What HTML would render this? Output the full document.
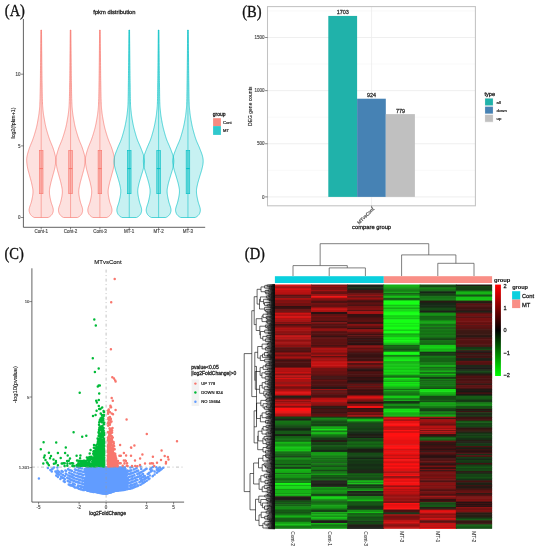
<!DOCTYPE html>
<html><head><meta charset="utf-8"><style>
html,body{margin:0;padding:0;background:#fff;width:541px;height:550px;overflow:hidden}
svg{display:block;filter:blur(0.35px)}
</style></head><body>
<svg width="541" height="550" viewBox="0 0 541 550">
<rect width="541" height="550" fill="#fff"/>
<text transform="translate(4.8,15.9) scale(0.88,1)" font-size="16.5" fill="#111" stroke="#111" stroke-width="0.35" font-family="Liberation Serif, serif">(A)</text>
<path d="M41.50,30.00 L41.52,31.81 L41.54,34.16 L41.57,36.95 L41.60,40.08 L41.63,43.44 L41.67,46.92 L41.70,50.42 L41.74,53.84 L41.77,57.07 L41.80,60.00 L41.83,62.73 L41.86,65.43 L41.89,68.09 L41.92,70.70 L41.94,73.25 L41.97,75.74 L42.00,78.17 L42.03,80.53 L42.07,82.81 L42.10,85.00 L42.13,87.12 L42.17,89.19 L42.20,91.20 L42.24,93.14 L42.28,95.00 L42.31,96.78 L42.35,98.48 L42.40,100.09 L42.45,101.60 L42.50,103.00 L42.56,104.28 L42.62,105.42 L42.68,106.46 L42.75,107.39 L42.82,108.25 L42.89,109.05 L42.97,109.80 L43.04,110.54 L43.12,111.26 L43.20,112.00 L43.28,112.71 L43.36,113.36 L43.44,113.96 L43.52,114.52 L43.60,115.06 L43.69,115.60 L43.78,116.15 L43.88,116.72 L43.98,117.33 L44.10,118.00 L44.22,118.72 L44.36,119.49 L44.49,120.28 L44.64,121.10 L44.79,121.94 L44.94,122.78 L45.10,123.61 L45.26,124.43 L45.43,125.23 L45.60,126.00 L45.77,126.74 L45.95,127.46 L46.13,128.17 L46.31,128.87 L46.50,129.56 L46.69,130.25 L46.89,130.93 L47.09,131.62 L47.29,132.30 L47.50,133.00 L47.71,133.70 L47.92,134.38 L48.13,135.07 L48.35,135.75 L48.57,136.44 L48.80,137.13 L49.03,137.83 L49.28,138.54 L49.53,139.26 L49.80,140.00 L50.09,140.76 L50.40,141.54 L50.72,142.33 L51.06,143.13 L51.40,143.94 L51.74,144.75 L52.08,145.57 L52.40,146.38 L52.71,147.20 L53.00,148.00 L53.28,148.81 L53.55,149.65 L53.82,150.49 L54.08,151.34 L54.33,152.19 L54.56,153.02 L54.78,153.82 L54.98,154.59 L55.15,155.32 L55.30,156.00 L55.42,156.61 L55.52,157.16 L55.60,157.66 L55.66,158.12 L55.70,158.56 L55.72,159.00 L55.74,159.45 L55.73,159.92 L55.72,160.43 L55.70,161.00 L55.67,161.61 L55.62,162.26 L55.56,162.92 L55.49,163.61 L55.41,164.31 L55.31,165.03 L55.20,165.76 L55.08,166.50 L54.94,167.25 L54.80,168.00 L54.64,168.76 L54.46,169.54 L54.26,170.33 L54.05,171.13 L53.83,171.94 L53.60,172.75 L53.37,173.57 L53.14,174.38 L52.92,175.20 L52.70,176.00 L52.49,176.80 L52.27,177.60 L52.04,178.40 L51.82,179.20 L51.59,180.00 L51.38,180.80 L51.16,181.60 L50.96,182.40 L50.77,183.20 L50.60,184.00 L50.43,184.80 L50.26,185.58 L50.09,186.37 L49.93,187.15 L49.78,187.94 L49.65,188.73 L49.54,189.53 L49.46,190.34 L49.41,191.16 L49.40,192.00 L49.43,192.86 L49.50,193.75 L49.60,194.66 L49.72,195.58 L49.88,196.50 L50.04,197.42 L50.22,198.34 L50.41,199.25 L50.61,200.14 L50.80,201.00 L51.01,201.86 L51.27,202.72 L51.54,203.58 L51.84,204.44 L52.13,205.28 L52.42,206.10 L52.68,206.89 L52.90,207.64 L53.08,208.35 L53.20,209.00 L53.26,209.60 L53.28,210.15 L53.27,210.66 L53.22,211.13 L53.14,211.58 L53.04,211.99 L52.93,212.39 L52.79,212.76 L52.65,213.13 L52.50,213.50 L52.33,213.86 L52.14,214.19 L51.92,214.52 L51.68,214.82 L51.43,215.11 L51.18,215.38 L50.92,215.63 L50.67,215.87 L50.43,216.09 L50.20,216.30 L49.98,216.49 L49.75,216.66 L49.51,216.82 L49.28,216.95 L49.06,217.08 L48.84,217.18 L48.64,217.28 L48.47,217.36 L48.32,217.44 L48.20,217.50 L34.20,217.50 L34.08,217.44 L33.93,217.36 L33.76,217.28 L33.56,217.18 L33.34,217.08 L33.12,216.95 L32.89,216.82 L32.65,216.66 L32.42,216.49 L32.20,216.30 L31.97,216.09 L31.73,215.87 L31.48,215.63 L31.22,215.38 L30.97,215.11 L30.72,214.82 L30.48,214.52 L30.26,214.19 L30.07,213.86 L29.90,213.50 L29.75,213.13 L29.61,212.76 L29.47,212.39 L29.36,211.99 L29.26,211.58 L29.18,211.13 L29.13,210.66 L29.12,210.15 L29.14,209.60 L29.20,209.00 L29.32,208.35 L29.50,207.64 L29.72,206.89 L29.98,206.10 L30.27,205.28 L30.56,204.44 L30.86,203.58 L31.13,202.72 L31.39,201.86 L31.60,201.00 L31.79,200.14 L31.99,199.25 L32.18,198.34 L32.36,197.42 L32.53,196.50 L32.68,195.58 L32.80,194.66 L32.90,193.75 L32.97,192.86 L33.00,192.00 L32.99,191.16 L32.94,190.34 L32.86,189.53 L32.75,188.73 L32.62,187.94 L32.47,187.15 L32.31,186.37 L32.14,185.58 L31.97,184.80 L31.80,184.00 L31.63,183.20 L31.44,182.40 L31.24,181.60 L31.02,180.80 L30.81,180.00 L30.58,179.20 L30.36,178.40 L30.13,177.60 L29.91,176.80 L29.70,176.00 L29.48,175.20 L29.26,174.38 L29.03,173.57 L28.80,172.75 L28.58,171.94 L28.35,171.13 L28.14,170.33 L27.94,169.54 L27.76,168.76 L27.60,168.00 L27.46,167.25 L27.32,166.50 L27.20,165.76 L27.09,165.03 L26.99,164.31 L26.91,163.61 L26.84,162.92 L26.78,162.26 L26.73,161.61 L26.70,161.00 L26.68,160.43 L26.67,159.92 L26.66,159.45 L26.68,159.00 L26.70,158.56 L26.74,158.12 L26.80,157.66 L26.88,157.16 L26.98,156.61 L27.10,156.00 L27.25,155.32 L27.42,154.59 L27.62,153.82 L27.84,153.02 L28.08,152.19 L28.32,151.34 L28.58,150.49 L28.85,149.65 L29.12,148.81 L29.40,148.00 L29.69,147.20 L30.00,146.38 L30.32,145.57 L30.66,144.75 L31.00,143.94 L31.34,143.13 L31.68,142.33 L32.00,141.54 L32.31,140.76 L32.60,140.00 L32.87,139.26 L33.12,138.54 L33.37,137.83 L33.60,137.13 L33.83,136.44 L34.05,135.75 L34.27,135.07 L34.48,134.38 L34.69,133.70 L34.90,133.00 L35.11,132.30 L35.31,131.62 L35.51,130.93 L35.71,130.25 L35.90,129.56 L36.09,128.87 L36.27,128.17 L36.45,127.46 L36.63,126.74 L36.80,126.00 L36.97,125.23 L37.14,124.43 L37.30,123.61 L37.46,122.78 L37.61,121.94 L37.76,121.10 L37.91,120.28 L38.04,119.49 L38.18,118.72 L38.30,118.00 L38.42,117.33 L38.52,116.72 L38.62,116.15 L38.71,115.60 L38.80,115.06 L38.88,114.52 L38.96,113.96 L39.04,113.36 L39.12,112.71 L39.20,112.00 L39.28,111.26 L39.36,110.54 L39.43,109.80 L39.51,109.05 L39.58,108.25 L39.65,107.39 L39.72,106.46 L39.78,105.42 L39.84,104.28 L39.90,103.00 L39.95,101.60 L40.00,100.09 L40.05,98.48 L40.09,96.78 L40.12,95.00 L40.16,93.14 L40.20,91.20 L40.23,89.19 L40.27,87.12 L40.30,85.00 L40.33,82.81 L40.37,80.53 L40.40,78.17 L40.43,75.74 L40.46,73.25 L40.48,70.70 L40.51,68.09 L40.54,65.43 L40.57,62.73 L40.60,60.00 L40.63,57.07 L40.66,53.84 L40.70,50.42 L40.73,46.92 L40.77,43.44 L40.80,40.08 L40.83,36.95 L40.86,34.16 L40.88,31.81 L40.90,30.00 Z" fill="#F8766D" fill-opacity="0.22" stroke="#F8766D" stroke-width="0.65" stroke-linejoin="round"/>
<line x1="41.20" y1="30.00" x2="41.20" y2="217.50" stroke="#F8766D" stroke-width="0.55" />
<rect x="39.40" y="150.4" width="3.6" height="43.3" fill="#F8766D" fill-opacity="0.42" stroke="#F8766D" stroke-width="0.6"/>
<line x1="39.40" y1="168.60" x2="43.00" y2="168.60" stroke="#F8766D" stroke-width="1.0" />
<path d="M70.85,30.00 L70.87,31.81 L70.89,34.16 L70.92,36.95 L70.95,40.08 L70.98,43.44 L71.02,46.92 L71.05,50.42 L71.09,53.84 L71.12,57.07 L71.15,60.00 L71.18,62.73 L71.21,65.43 L71.24,68.09 L71.27,70.70 L71.29,73.25 L71.32,75.74 L71.35,78.17 L71.38,80.53 L71.42,82.81 L71.45,85.00 L71.48,87.12 L71.52,89.19 L71.55,91.20 L71.59,93.14 L71.63,95.00 L71.66,96.78 L71.70,98.48 L71.75,100.09 L71.80,101.60 L71.85,103.00 L71.91,104.28 L71.97,105.42 L72.03,106.46 L72.10,107.39 L72.17,108.25 L72.24,109.05 L72.32,109.80 L72.39,110.54 L72.47,111.26 L72.55,112.00 L72.63,112.71 L72.71,113.36 L72.79,113.96 L72.87,114.52 L72.95,115.06 L73.04,115.60 L73.13,116.15 L73.23,116.72 L73.33,117.33 L73.45,118.00 L73.57,118.72 L73.71,119.49 L73.84,120.28 L73.99,121.10 L74.14,121.94 L74.29,122.78 L74.45,123.61 L74.61,124.43 L74.78,125.23 L74.95,126.00 L75.12,126.74 L75.30,127.46 L75.48,128.17 L75.66,128.87 L75.85,129.56 L76.04,130.25 L76.24,130.93 L76.44,131.62 L76.64,132.30 L76.85,133.00 L77.06,133.70 L77.27,134.38 L77.48,135.07 L77.70,135.75 L77.92,136.44 L78.15,137.13 L78.38,137.83 L78.63,138.54 L78.88,139.26 L79.15,140.00 L79.44,140.76 L79.75,141.54 L80.07,142.33 L80.41,143.13 L80.75,143.94 L81.09,144.75 L81.43,145.57 L81.75,146.38 L82.06,147.20 L82.35,148.00 L82.63,148.81 L82.90,149.65 L83.17,150.49 L83.43,151.34 L83.68,152.19 L83.91,153.02 L84.13,153.82 L84.33,154.59 L84.50,155.32 L84.65,156.00 L84.77,156.61 L84.87,157.16 L84.95,157.66 L85.01,158.12 L85.05,158.56 L85.07,159.00 L85.09,159.45 L85.08,159.92 L85.07,160.43 L85.05,161.00 L85.02,161.61 L84.97,162.26 L84.91,162.92 L84.84,163.61 L84.76,164.31 L84.66,165.03 L84.55,165.76 L84.43,166.50 L84.29,167.25 L84.15,168.00 L83.99,168.76 L83.81,169.54 L83.61,170.33 L83.40,171.13 L83.18,171.94 L82.95,172.75 L82.72,173.57 L82.49,174.38 L82.27,175.20 L82.05,176.00 L81.84,176.80 L81.62,177.60 L81.39,178.40 L81.17,179.20 L80.94,180.00 L80.73,180.80 L80.51,181.60 L80.31,182.40 L80.12,183.20 L79.95,184.00 L79.78,184.80 L79.61,185.58 L79.44,186.37 L79.28,187.15 L79.13,187.94 L79.00,188.73 L78.89,189.53 L78.81,190.34 L78.76,191.16 L78.75,192.00 L78.78,192.86 L78.85,193.75 L78.95,194.66 L79.07,195.58 L79.23,196.50 L79.39,197.42 L79.57,198.34 L79.76,199.25 L79.96,200.14 L80.15,201.00 L80.36,201.86 L80.62,202.72 L80.89,203.58 L81.19,204.44 L81.48,205.28 L81.77,206.10 L82.03,206.89 L82.25,207.64 L82.43,208.35 L82.55,209.00 L82.61,209.60 L82.63,210.15 L82.62,210.66 L82.57,211.13 L82.49,211.58 L82.39,211.99 L82.28,212.39 L82.14,212.76 L82.00,213.13 L81.85,213.50 L81.68,213.86 L81.49,214.19 L81.27,214.52 L81.03,214.82 L80.78,215.11 L80.53,215.38 L80.27,215.63 L80.02,215.87 L79.78,216.09 L79.55,216.30 L79.33,216.49 L79.10,216.66 L78.86,216.82 L78.63,216.95 L78.41,217.08 L78.19,217.18 L77.99,217.28 L77.82,217.36 L77.67,217.44 L77.55,217.50 L63.55,217.50 L63.43,217.44 L63.28,217.36 L63.11,217.28 L62.91,217.18 L62.69,217.08 L62.47,216.95 L62.24,216.82 L62.00,216.66 L61.77,216.49 L61.55,216.30 L61.32,216.09 L61.08,215.87 L60.83,215.63 L60.57,215.38 L60.32,215.11 L60.07,214.82 L59.83,214.52 L59.61,214.19 L59.42,213.86 L59.25,213.50 L59.10,213.13 L58.96,212.76 L58.82,212.39 L58.71,211.99 L58.61,211.58 L58.53,211.13 L58.48,210.66 L58.47,210.15 L58.49,209.60 L58.55,209.00 L58.67,208.35 L58.85,207.64 L59.07,206.89 L59.33,206.10 L59.62,205.28 L59.91,204.44 L60.21,203.58 L60.48,202.72 L60.74,201.86 L60.95,201.00 L61.14,200.14 L61.34,199.25 L61.53,198.34 L61.71,197.42 L61.88,196.50 L62.03,195.58 L62.15,194.66 L62.25,193.75 L62.32,192.86 L62.35,192.00 L62.34,191.16 L62.29,190.34 L62.21,189.53 L62.10,188.73 L61.97,187.94 L61.82,187.15 L61.66,186.37 L61.49,185.58 L61.32,184.80 L61.15,184.00 L60.98,183.20 L60.79,182.40 L60.59,181.60 L60.37,180.80 L60.16,180.00 L59.93,179.20 L59.71,178.40 L59.48,177.60 L59.26,176.80 L59.05,176.00 L58.83,175.20 L58.61,174.38 L58.38,173.57 L58.15,172.75 L57.93,171.94 L57.70,171.13 L57.49,170.33 L57.29,169.54 L57.11,168.76 L56.95,168.00 L56.81,167.25 L56.67,166.50 L56.55,165.76 L56.44,165.03 L56.34,164.31 L56.26,163.61 L56.19,162.92 L56.13,162.26 L56.08,161.61 L56.05,161.00 L56.03,160.43 L56.02,159.92 L56.01,159.45 L56.03,159.00 L56.05,158.56 L56.09,158.12 L56.15,157.66 L56.23,157.16 L56.33,156.61 L56.45,156.00 L56.60,155.32 L56.77,154.59 L56.97,153.82 L57.19,153.02 L57.43,152.19 L57.67,151.34 L57.93,150.49 L58.20,149.65 L58.48,148.81 L58.75,148.00 L59.04,147.20 L59.35,146.38 L59.67,145.57 L60.01,144.75 L60.35,143.94 L60.69,143.13 L61.03,142.33 L61.35,141.54 L61.66,140.76 L61.95,140.00 L62.22,139.26 L62.47,138.54 L62.72,137.83 L62.95,137.13 L63.18,136.44 L63.40,135.75 L63.62,135.07 L63.83,134.38 L64.04,133.70 L64.25,133.00 L64.46,132.30 L64.66,131.62 L64.86,130.93 L65.06,130.25 L65.25,129.56 L65.44,128.87 L65.62,128.17 L65.80,127.46 L65.98,126.74 L66.15,126.00 L66.32,125.23 L66.49,124.43 L66.65,123.61 L66.81,122.78 L66.96,121.94 L67.11,121.10 L67.26,120.28 L67.39,119.49 L67.53,118.72 L67.65,118.00 L67.77,117.33 L67.87,116.72 L67.97,116.15 L68.06,115.60 L68.15,115.06 L68.23,114.52 L68.31,113.96 L68.39,113.36 L68.47,112.71 L68.55,112.00 L68.63,111.26 L68.71,110.54 L68.78,109.80 L68.86,109.05 L68.93,108.25 L69.00,107.39 L69.07,106.46 L69.13,105.42 L69.19,104.28 L69.25,103.00 L69.30,101.60 L69.35,100.09 L69.40,98.48 L69.44,96.78 L69.48,95.00 L69.51,93.14 L69.55,91.20 L69.58,89.19 L69.62,87.12 L69.65,85.00 L69.68,82.81 L69.72,80.53 L69.75,78.17 L69.78,75.74 L69.81,73.25 L69.83,70.70 L69.86,68.09 L69.89,65.43 L69.92,62.73 L69.95,60.00 L69.98,57.07 L70.01,53.84 L70.05,50.42 L70.08,46.92 L70.12,43.44 L70.15,40.08 L70.18,36.95 L70.21,34.16 L70.23,31.81 L70.25,30.00 Z" fill="#F8766D" fill-opacity="0.22" stroke="#F8766D" stroke-width="0.65" stroke-linejoin="round"/>
<line x1="70.55" y1="30.00" x2="70.55" y2="217.50" stroke="#F8766D" stroke-width="0.55" />
<rect x="68.75" y="150.4" width="3.6" height="43.3" fill="#F8766D" fill-opacity="0.42" stroke="#F8766D" stroke-width="0.6"/>
<line x1="68.75" y1="168.60" x2="72.35" y2="168.60" stroke="#F8766D" stroke-width="1.0" />
<path d="M100.20,30.00 L100.22,31.81 L100.24,34.16 L100.27,36.95 L100.30,40.08 L100.33,43.44 L100.37,46.92 L100.40,50.42 L100.44,53.84 L100.47,57.07 L100.50,60.00 L100.53,62.73 L100.56,65.43 L100.59,68.09 L100.62,70.70 L100.64,73.25 L100.67,75.74 L100.70,78.17 L100.73,80.53 L100.77,82.81 L100.80,85.00 L100.83,87.12 L100.87,89.19 L100.90,91.20 L100.94,93.14 L100.98,95.00 L101.01,96.78 L101.05,98.48 L101.10,100.09 L101.15,101.60 L101.20,103.00 L101.26,104.28 L101.32,105.42 L101.38,106.46 L101.45,107.39 L101.52,108.25 L101.59,109.05 L101.67,109.80 L101.74,110.54 L101.82,111.26 L101.90,112.00 L101.98,112.71 L102.06,113.36 L102.14,113.96 L102.22,114.52 L102.30,115.06 L102.39,115.60 L102.48,116.15 L102.58,116.72 L102.68,117.33 L102.80,118.00 L102.92,118.72 L103.06,119.49 L103.19,120.28 L103.34,121.10 L103.49,121.94 L103.64,122.78 L103.80,123.61 L103.96,124.43 L104.13,125.23 L104.30,126.00 L104.47,126.74 L104.65,127.46 L104.83,128.17 L105.01,128.87 L105.20,129.56 L105.39,130.25 L105.59,130.93 L105.79,131.62 L105.99,132.30 L106.20,133.00 L106.41,133.70 L106.62,134.38 L106.83,135.07 L107.05,135.75 L107.27,136.44 L107.50,137.13 L107.73,137.83 L107.98,138.54 L108.23,139.26 L108.50,140.00 L108.79,140.76 L109.10,141.54 L109.42,142.33 L109.76,143.13 L110.10,143.94 L110.44,144.75 L110.78,145.57 L111.10,146.38 L111.41,147.20 L111.70,148.00 L111.98,148.81 L112.25,149.65 L112.52,150.49 L112.78,151.34 L113.03,152.19 L113.26,153.02 L113.48,153.82 L113.68,154.59 L113.85,155.32 L114.00,156.00 L114.12,156.61 L114.22,157.16 L114.30,157.66 L114.36,158.12 L114.40,158.56 L114.42,159.00 L114.44,159.45 L114.43,159.92 L114.42,160.43 L114.40,161.00 L114.37,161.61 L114.32,162.26 L114.26,162.92 L114.19,163.61 L114.11,164.31 L114.01,165.03 L113.90,165.76 L113.78,166.50 L113.64,167.25 L113.50,168.00 L113.34,168.76 L113.16,169.54 L112.96,170.33 L112.75,171.13 L112.53,171.94 L112.30,172.75 L112.07,173.57 L111.84,174.38 L111.62,175.20 L111.40,176.00 L111.19,176.80 L110.97,177.60 L110.74,178.40 L110.52,179.20 L110.29,180.00 L110.08,180.80 L109.86,181.60 L109.66,182.40 L109.47,183.20 L109.30,184.00 L109.13,184.80 L108.96,185.58 L108.79,186.37 L108.63,187.15 L108.48,187.94 L108.35,188.73 L108.24,189.53 L108.16,190.34 L108.11,191.16 L108.10,192.00 L108.13,192.86 L108.20,193.75 L108.30,194.66 L108.42,195.58 L108.58,196.50 L108.74,197.42 L108.92,198.34 L109.11,199.25 L109.31,200.14 L109.50,201.00 L109.71,201.86 L109.97,202.72 L110.24,203.58 L110.54,204.44 L110.83,205.28 L111.12,206.10 L111.38,206.89 L111.60,207.64 L111.78,208.35 L111.90,209.00 L111.96,209.60 L111.98,210.15 L111.97,210.66 L111.92,211.13 L111.84,211.58 L111.74,211.99 L111.63,212.39 L111.49,212.76 L111.35,213.13 L111.20,213.50 L111.03,213.86 L110.84,214.19 L110.62,214.52 L110.38,214.82 L110.13,215.11 L109.88,215.38 L109.62,215.63 L109.37,215.87 L109.13,216.09 L108.90,216.30 L108.68,216.49 L108.45,216.66 L108.21,216.82 L107.98,216.95 L107.76,217.08 L107.54,217.18 L107.34,217.28 L107.17,217.36 L107.02,217.44 L106.90,217.50 L92.90,217.50 L92.78,217.44 L92.63,217.36 L92.46,217.28 L92.26,217.18 L92.04,217.08 L91.82,216.95 L91.59,216.82 L91.35,216.66 L91.12,216.49 L90.90,216.30 L90.67,216.09 L90.43,215.87 L90.18,215.63 L89.92,215.38 L89.67,215.11 L89.42,214.82 L89.18,214.52 L88.96,214.19 L88.77,213.86 L88.60,213.50 L88.45,213.13 L88.31,212.76 L88.17,212.39 L88.06,211.99 L87.96,211.58 L87.88,211.13 L87.83,210.66 L87.82,210.15 L87.84,209.60 L87.90,209.00 L88.02,208.35 L88.20,207.64 L88.42,206.89 L88.68,206.10 L88.97,205.28 L89.26,204.44 L89.56,203.58 L89.83,202.72 L90.09,201.86 L90.30,201.00 L90.49,200.14 L90.69,199.25 L90.88,198.34 L91.06,197.42 L91.23,196.50 L91.38,195.58 L91.50,194.66 L91.60,193.75 L91.67,192.86 L91.70,192.00 L91.69,191.16 L91.64,190.34 L91.56,189.53 L91.45,188.73 L91.32,187.94 L91.17,187.15 L91.01,186.37 L90.84,185.58 L90.67,184.80 L90.50,184.00 L90.33,183.20 L90.14,182.40 L89.94,181.60 L89.72,180.80 L89.51,180.00 L89.28,179.20 L89.06,178.40 L88.83,177.60 L88.61,176.80 L88.40,176.00 L88.18,175.20 L87.96,174.38 L87.73,173.57 L87.50,172.75 L87.28,171.94 L87.05,171.13 L86.84,170.33 L86.64,169.54 L86.46,168.76 L86.30,168.00 L86.16,167.25 L86.02,166.50 L85.90,165.76 L85.79,165.03 L85.69,164.31 L85.61,163.61 L85.54,162.92 L85.48,162.26 L85.43,161.61 L85.40,161.00 L85.38,160.43 L85.37,159.92 L85.36,159.45 L85.38,159.00 L85.40,158.56 L85.44,158.12 L85.50,157.66 L85.58,157.16 L85.68,156.61 L85.80,156.00 L85.95,155.32 L86.12,154.59 L86.32,153.82 L86.54,153.02 L86.78,152.19 L87.02,151.34 L87.28,150.49 L87.55,149.65 L87.83,148.81 L88.10,148.00 L88.39,147.20 L88.70,146.38 L89.02,145.57 L89.36,144.75 L89.70,143.94 L90.04,143.13 L90.38,142.33 L90.70,141.54 L91.01,140.76 L91.30,140.00 L91.57,139.26 L91.82,138.54 L92.07,137.83 L92.30,137.13 L92.53,136.44 L92.75,135.75 L92.97,135.07 L93.18,134.38 L93.39,133.70 L93.60,133.00 L93.81,132.30 L94.01,131.62 L94.21,130.93 L94.41,130.25 L94.60,129.56 L94.79,128.87 L94.97,128.17 L95.15,127.46 L95.33,126.74 L95.50,126.00 L95.67,125.23 L95.84,124.43 L96.00,123.61 L96.16,122.78 L96.31,121.94 L96.46,121.10 L96.61,120.28 L96.74,119.49 L96.88,118.72 L97.00,118.00 L97.12,117.33 L97.22,116.72 L97.32,116.15 L97.41,115.60 L97.50,115.06 L97.58,114.52 L97.66,113.96 L97.74,113.36 L97.82,112.71 L97.90,112.00 L97.98,111.26 L98.06,110.54 L98.13,109.80 L98.21,109.05 L98.28,108.25 L98.35,107.39 L98.42,106.46 L98.48,105.42 L98.54,104.28 L98.60,103.00 L98.65,101.60 L98.70,100.09 L98.75,98.48 L98.79,96.78 L98.83,95.00 L98.86,93.14 L98.90,91.20 L98.93,89.19 L98.97,87.12 L99.00,85.00 L99.03,82.81 L99.07,80.53 L99.10,78.17 L99.13,75.74 L99.16,73.25 L99.18,70.70 L99.21,68.09 L99.24,65.43 L99.27,62.73 L99.30,60.00 L99.33,57.07 L99.36,53.84 L99.40,50.42 L99.43,46.92 L99.47,43.44 L99.50,40.08 L99.53,36.95 L99.56,34.16 L99.58,31.81 L99.60,30.00 Z" fill="#F8766D" fill-opacity="0.22" stroke="#F8766D" stroke-width="0.65" stroke-linejoin="round"/>
<line x1="99.90" y1="30.00" x2="99.90" y2="217.50" stroke="#F8766D" stroke-width="0.55" />
<rect x="98.10" y="150.4" width="3.6" height="43.3" fill="#F8766D" fill-opacity="0.42" stroke="#F8766D" stroke-width="0.6"/>
<line x1="98.10" y1="168.60" x2="101.70" y2="168.60" stroke="#F8766D" stroke-width="1.0" />
<path d="M129.55,30.00 L129.57,31.81 L129.59,34.16 L129.62,36.95 L129.65,40.08 L129.68,43.44 L129.72,46.92 L129.75,50.42 L129.79,53.84 L129.82,57.07 L129.85,60.00 L129.88,62.73 L129.91,65.43 L129.94,68.09 L129.97,70.70 L130.00,73.25 L130.03,75.74 L130.06,78.17 L130.09,80.53 L130.12,82.81 L130.15,85.00 L130.18,87.12 L130.20,89.19 L130.23,91.20 L130.25,93.14 L130.28,95.00 L130.30,96.78 L130.33,98.48 L130.36,100.09 L130.40,101.60 L130.45,103.00 L130.50,104.28 L130.56,105.42 L130.63,106.46 L130.70,107.39 L130.77,108.25 L130.84,109.05 L130.92,109.80 L131.00,110.54 L131.07,111.26 L131.15,112.00 L131.22,112.71 L131.29,113.36 L131.36,113.96 L131.43,114.52 L131.50,115.06 L131.57,115.60 L131.66,116.15 L131.74,116.72 L131.84,117.33 L131.95,118.00 L132.07,118.72 L132.20,119.49 L132.34,120.28 L132.49,121.10 L132.64,121.94 L132.79,122.78 L132.96,123.61 L133.12,124.43 L133.28,125.23 L133.45,126.00 L133.62,126.74 L133.78,127.46 L133.96,128.17 L134.13,128.87 L134.31,129.56 L134.49,130.25 L134.67,130.93 L134.86,131.62 L135.05,132.30 L135.25,133.00 L135.45,133.70 L135.65,134.38 L135.84,135.07 L136.04,135.75 L136.25,136.44 L136.46,137.13 L136.69,137.83 L136.93,138.54 L137.18,139.26 L137.45,140.00 L137.74,140.76 L138.06,141.54 L138.40,142.33 L138.75,143.13 L139.11,143.94 L139.47,144.75 L139.83,145.57 L140.18,146.38 L140.52,147.20 L140.85,148.00 L141.17,148.81 L141.50,149.63 L141.83,150.46 L142.15,151.30 L142.47,152.12 L142.77,152.94 L143.06,153.75 L143.32,154.53 L143.55,155.28 L143.75,156.00 L143.92,156.68 L144.06,157.31 L144.18,157.92 L144.28,158.50 L144.36,159.06 L144.41,159.62 L144.45,160.19 L144.47,160.77 L144.47,161.37 L144.45,162.00 L144.41,162.66 L144.35,163.32 L144.27,163.99 L144.16,164.68 L144.04,165.38 L143.91,166.08 L143.76,166.80 L143.60,167.52 L143.43,168.25 L143.25,169.00 L143.06,169.76 L142.84,170.54 L142.61,171.33 L142.37,172.13 L142.11,172.94 L141.85,173.75 L141.59,174.57 L141.34,175.38 L141.09,176.20 L140.85,177.00 L140.62,177.80 L140.38,178.62 L140.13,179.43 L139.89,180.25 L139.66,181.06 L139.43,181.87 L139.21,182.67 L139.00,183.46 L138.82,184.24 L138.65,185.00 L138.50,185.73 L138.35,186.43 L138.21,187.11 L138.08,187.78 L137.97,188.44 L137.87,189.10 L137.80,189.78 L137.76,190.49 L137.74,191.22 L137.75,192.00 L137.80,192.82 L137.88,193.69 L138.00,194.58 L138.14,195.50 L138.30,196.44 L138.48,197.38 L138.67,198.31 L138.86,199.23 L139.06,200.13 L139.25,201.00 L139.46,201.86 L139.71,202.72 L139.98,203.58 L140.26,204.44 L140.54,205.28 L140.81,206.10 L141.06,206.89 L141.27,207.64 L141.44,208.35 L141.55,209.00 L141.61,209.60 L141.63,210.15 L141.61,210.66 L141.56,211.13 L141.49,211.58 L141.39,211.99 L141.27,212.39 L141.14,212.76 L141.00,213.13 L140.85,213.50 L140.68,213.86 L140.49,214.19 L140.27,214.52 L140.04,214.82 L139.79,215.11 L139.53,215.38 L139.28,215.63 L139.02,215.87 L138.78,216.09 L138.55,216.30 L138.32,216.49 L138.08,216.66 L137.84,216.82 L137.59,216.95 L137.36,217.08 L137.13,217.18 L136.92,217.28 L136.73,217.36 L136.57,217.44 L136.45,217.50 L122.05,217.50 L121.93,217.44 L121.77,217.36 L121.58,217.28 L121.37,217.18 L121.14,217.08 L120.91,216.95 L120.66,216.82 L120.42,216.66 L120.18,216.49 L119.95,216.30 L119.72,216.09 L119.48,215.87 L119.22,215.63 L118.97,215.38 L118.71,215.11 L118.46,214.82 L118.23,214.52 L118.01,214.19 L117.82,213.86 L117.65,213.50 L117.50,213.13 L117.36,212.76 L117.23,212.39 L117.11,211.99 L117.01,211.58 L116.94,211.13 L116.89,210.66 L116.87,210.15 L116.89,209.60 L116.95,209.00 L117.06,208.35 L117.23,207.64 L117.44,206.89 L117.69,206.10 L117.96,205.28 L118.24,204.44 L118.52,203.58 L118.79,202.72 L119.04,201.86 L119.25,201.00 L119.44,200.13 L119.64,199.23 L119.83,198.31 L120.02,197.38 L120.20,196.44 L120.36,195.50 L120.50,194.58 L120.62,193.69 L120.70,192.82 L120.75,192.00 L120.76,191.22 L120.74,190.49 L120.70,189.78 L120.63,189.10 L120.53,188.44 L120.42,187.78 L120.29,187.11 L120.15,186.43 L120.00,185.73 L119.85,185.00 L119.68,184.24 L119.50,183.46 L119.29,182.67 L119.07,181.87 L118.84,181.06 L118.61,180.25 L118.37,179.43 L118.12,178.62 L117.88,177.80 L117.65,177.00 L117.41,176.20 L117.16,175.38 L116.91,174.57 L116.65,173.75 L116.39,172.94 L116.13,172.13 L115.89,171.33 L115.66,170.54 L115.44,169.76 L115.25,169.00 L115.07,168.25 L114.90,167.52 L114.74,166.80 L114.59,166.08 L114.46,165.38 L114.34,164.68 L114.23,163.99 L114.15,163.32 L114.09,162.66 L114.05,162.00 L114.03,161.37 L114.03,160.77 L114.05,160.19 L114.09,159.62 L114.14,159.06 L114.22,158.50 L114.32,157.92 L114.44,157.31 L114.58,156.68 L114.75,156.00 L114.95,155.28 L115.18,154.53 L115.44,153.75 L115.73,152.94 L116.03,152.12 L116.35,151.30 L116.67,150.46 L117.00,149.63 L117.33,148.81 L117.65,148.00 L117.98,147.20 L118.32,146.38 L118.67,145.57 L119.03,144.75 L119.39,143.94 L119.75,143.13 L120.10,142.33 L120.44,141.54 L120.76,140.76 L121.05,140.00 L121.32,139.26 L121.57,138.54 L121.81,137.83 L122.04,137.13 L122.25,136.44 L122.46,135.75 L122.66,135.07 L122.85,134.38 L123.05,133.70 L123.25,133.00 L123.45,132.30 L123.64,131.62 L123.83,130.93 L124.01,130.25 L124.19,129.56 L124.37,128.87 L124.54,128.17 L124.72,127.46 L124.88,126.74 L125.05,126.00 L125.22,125.23 L125.38,124.43 L125.54,123.61 L125.71,122.78 L125.86,121.94 L126.01,121.10 L126.16,120.28 L126.30,119.49 L126.43,118.72 L126.55,118.00 L126.66,117.33 L126.76,116.72 L126.84,116.15 L126.93,115.60 L127.00,115.06 L127.07,114.52 L127.14,113.96 L127.21,113.36 L127.28,112.71 L127.35,112.00 L127.43,111.26 L127.50,110.54 L127.58,109.80 L127.66,109.05 L127.73,108.25 L127.80,107.39 L127.87,106.46 L127.94,105.42 L128.00,104.28 L128.05,103.00 L128.10,101.60 L128.14,100.09 L128.17,98.48 L128.20,96.78 L128.22,95.00 L128.25,93.14 L128.27,91.20 L128.30,89.19 L128.32,87.12 L128.35,85.00 L128.38,82.81 L128.41,80.53 L128.44,78.17 L128.47,75.74 L128.50,73.25 L128.53,70.70 L128.56,68.09 L128.59,65.43 L128.62,62.73 L128.65,60.00 L128.68,57.07 L128.71,53.84 L128.75,50.42 L128.78,46.92 L128.82,43.44 L128.85,40.08 L128.88,36.95 L128.91,34.16 L128.93,31.81 L128.95,30.00 Z" fill="#00BFC4" fill-opacity="0.22" stroke="#00BFC4" stroke-width="0.65" stroke-linejoin="round"/>
<line x1="129.25" y1="30.00" x2="129.25" y2="217.50" stroke="#00BFC4" stroke-width="0.55" />
<rect x="127.45" y="150.4" width="3.6" height="43.3" fill="#00BFC4" fill-opacity="0.42" stroke="#00BFC4" stroke-width="0.6"/>
<line x1="127.45" y1="168.60" x2="131.05" y2="168.60" stroke="#00BFC4" stroke-width="1.0" />
<path d="M158.90,30.00 L158.92,31.81 L158.94,34.16 L158.97,36.95 L159.00,40.08 L159.03,43.44 L159.07,46.92 L159.10,50.42 L159.14,53.84 L159.17,57.07 L159.20,60.00 L159.23,62.73 L159.26,65.43 L159.29,68.09 L159.32,70.70 L159.35,73.25 L159.38,75.74 L159.41,78.17 L159.44,80.53 L159.47,82.81 L159.50,85.00 L159.53,87.12 L159.55,89.19 L159.58,91.20 L159.60,93.14 L159.63,95.00 L159.65,96.78 L159.68,98.48 L159.71,100.09 L159.75,101.60 L159.80,103.00 L159.85,104.28 L159.91,105.42 L159.98,106.46 L160.05,107.39 L160.12,108.25 L160.19,109.05 L160.27,109.80 L160.35,110.54 L160.42,111.26 L160.50,112.00 L160.57,112.71 L160.64,113.36 L160.71,113.96 L160.78,114.52 L160.85,115.06 L160.92,115.60 L161.01,116.15 L161.09,116.72 L161.19,117.33 L161.30,118.00 L161.42,118.72 L161.55,119.49 L161.69,120.28 L161.84,121.10 L161.99,121.94 L162.14,122.78 L162.31,123.61 L162.47,124.43 L162.63,125.23 L162.80,126.00 L162.97,126.74 L163.13,127.46 L163.31,128.17 L163.48,128.87 L163.66,129.56 L163.84,130.25 L164.02,130.93 L164.21,131.62 L164.40,132.30 L164.60,133.00 L164.80,133.70 L165.00,134.38 L165.19,135.07 L165.39,135.75 L165.60,136.44 L165.81,137.13 L166.04,137.83 L166.28,138.54 L166.53,139.26 L166.80,140.00 L167.09,140.76 L167.41,141.54 L167.75,142.33 L168.10,143.13 L168.46,143.94 L168.82,144.75 L169.18,145.57 L169.53,146.38 L169.87,147.20 L170.20,148.00 L170.52,148.81 L170.85,149.63 L171.18,150.46 L171.50,151.30 L171.82,152.12 L172.12,152.94 L172.41,153.75 L172.67,154.53 L172.90,155.28 L173.10,156.00 L173.27,156.68 L173.41,157.31 L173.53,157.92 L173.63,158.50 L173.71,159.06 L173.76,159.62 L173.80,160.19 L173.82,160.77 L173.82,161.37 L173.80,162.00 L173.76,162.66 L173.70,163.32 L173.62,163.99 L173.51,164.68 L173.39,165.38 L173.26,166.08 L173.11,166.80 L172.95,167.52 L172.78,168.25 L172.60,169.00 L172.41,169.76 L172.19,170.54 L171.96,171.33 L171.72,172.13 L171.46,172.94 L171.20,173.75 L170.94,174.57 L170.69,175.38 L170.44,176.20 L170.20,177.00 L169.97,177.80 L169.73,178.62 L169.48,179.43 L169.24,180.25 L169.01,181.06 L168.78,181.87 L168.56,182.67 L168.35,183.46 L168.17,184.24 L168.00,185.00 L167.85,185.73 L167.70,186.43 L167.56,187.11 L167.43,187.78 L167.32,188.44 L167.22,189.10 L167.15,189.78 L167.11,190.49 L167.09,191.22 L167.10,192.00 L167.15,192.82 L167.23,193.69 L167.35,194.58 L167.49,195.50 L167.65,196.44 L167.83,197.38 L168.02,198.31 L168.21,199.23 L168.41,200.13 L168.60,201.00 L168.81,201.86 L169.06,202.72 L169.33,203.58 L169.61,204.44 L169.89,205.28 L170.16,206.10 L170.41,206.89 L170.62,207.64 L170.79,208.35 L170.90,209.00 L170.96,209.60 L170.98,210.15 L170.96,210.66 L170.91,211.13 L170.84,211.58 L170.74,211.99 L170.62,212.39 L170.49,212.76 L170.35,213.13 L170.20,213.50 L170.03,213.86 L169.84,214.19 L169.62,214.52 L169.39,214.82 L169.14,215.11 L168.88,215.38 L168.63,215.63 L168.37,215.87 L168.13,216.09 L167.90,216.30 L167.67,216.49 L167.43,216.66 L167.19,216.82 L166.94,216.95 L166.71,217.08 L166.48,217.18 L166.27,217.28 L166.08,217.36 L165.92,217.44 L165.80,217.50 L151.40,217.50 L151.28,217.44 L151.12,217.36 L150.93,217.28 L150.72,217.18 L150.49,217.08 L150.26,216.95 L150.01,216.82 L149.77,216.66 L149.53,216.49 L149.30,216.30 L149.07,216.09 L148.83,215.87 L148.57,215.63 L148.32,215.38 L148.06,215.11 L147.81,214.82 L147.58,214.52 L147.36,214.19 L147.17,213.86 L147.00,213.50 L146.85,213.13 L146.71,212.76 L146.58,212.39 L146.46,211.99 L146.36,211.58 L146.29,211.13 L146.24,210.66 L146.22,210.15 L146.24,209.60 L146.30,209.00 L146.41,208.35 L146.58,207.64 L146.79,206.89 L147.04,206.10 L147.31,205.28 L147.59,204.44 L147.87,203.58 L148.14,202.72 L148.39,201.86 L148.60,201.00 L148.79,200.13 L148.99,199.23 L149.18,198.31 L149.37,197.38 L149.55,196.44 L149.71,195.50 L149.85,194.58 L149.97,193.69 L150.05,192.82 L150.10,192.00 L150.11,191.22 L150.09,190.49 L150.05,189.78 L149.98,189.10 L149.88,188.44 L149.77,187.78 L149.64,187.11 L149.50,186.43 L149.35,185.73 L149.20,185.00 L149.03,184.24 L148.85,183.46 L148.64,182.67 L148.42,181.87 L148.19,181.06 L147.96,180.25 L147.72,179.43 L147.47,178.62 L147.23,177.80 L147.00,177.00 L146.76,176.20 L146.51,175.38 L146.26,174.57 L146.00,173.75 L145.74,172.94 L145.48,172.13 L145.24,171.33 L145.01,170.54 L144.79,169.76 L144.60,169.00 L144.42,168.25 L144.25,167.52 L144.09,166.80 L143.94,166.08 L143.81,165.38 L143.69,164.68 L143.58,163.99 L143.50,163.32 L143.44,162.66 L143.40,162.00 L143.38,161.37 L143.38,160.77 L143.40,160.19 L143.44,159.62 L143.49,159.06 L143.57,158.50 L143.67,157.92 L143.79,157.31 L143.93,156.68 L144.10,156.00 L144.30,155.28 L144.53,154.53 L144.79,153.75 L145.08,152.94 L145.38,152.12 L145.70,151.30 L146.02,150.46 L146.35,149.63 L146.68,148.81 L147.00,148.00 L147.33,147.20 L147.67,146.38 L148.02,145.57 L148.38,144.75 L148.74,143.94 L149.10,143.13 L149.45,142.33 L149.79,141.54 L150.11,140.76 L150.40,140.00 L150.67,139.26 L150.92,138.54 L151.16,137.83 L151.39,137.13 L151.60,136.44 L151.81,135.75 L152.01,135.07 L152.20,134.38 L152.40,133.70 L152.60,133.00 L152.80,132.30 L152.99,131.62 L153.18,130.93 L153.36,130.25 L153.54,129.56 L153.72,128.87 L153.89,128.17 L154.07,127.46 L154.23,126.74 L154.40,126.00 L154.57,125.23 L154.73,124.43 L154.89,123.61 L155.06,122.78 L155.21,121.94 L155.36,121.10 L155.51,120.28 L155.65,119.49 L155.78,118.72 L155.90,118.00 L156.01,117.33 L156.11,116.72 L156.19,116.15 L156.28,115.60 L156.35,115.06 L156.42,114.52 L156.49,113.96 L156.56,113.36 L156.63,112.71 L156.70,112.00 L156.78,111.26 L156.85,110.54 L156.93,109.80 L157.01,109.05 L157.08,108.25 L157.15,107.39 L157.22,106.46 L157.29,105.42 L157.35,104.28 L157.40,103.00 L157.45,101.60 L157.49,100.09 L157.52,98.48 L157.55,96.78 L157.58,95.00 L157.60,93.14 L157.62,91.20 L157.65,89.19 L157.67,87.12 L157.70,85.00 L157.73,82.81 L157.76,80.53 L157.79,78.17 L157.82,75.74 L157.85,73.25 L157.88,70.70 L157.91,68.09 L157.94,65.43 L157.97,62.73 L158.00,60.00 L158.03,57.07 L158.06,53.84 L158.10,50.42 L158.13,46.92 L158.17,43.44 L158.20,40.08 L158.23,36.95 L158.26,34.16 L158.28,31.81 L158.30,30.00 Z" fill="#00BFC4" fill-opacity="0.22" stroke="#00BFC4" stroke-width="0.65" stroke-linejoin="round"/>
<line x1="158.60" y1="30.00" x2="158.60" y2="217.50" stroke="#00BFC4" stroke-width="0.55" />
<rect x="156.80" y="150.4" width="3.6" height="43.3" fill="#00BFC4" fill-opacity="0.42" stroke="#00BFC4" stroke-width="0.6"/>
<line x1="156.80" y1="168.60" x2="160.40" y2="168.60" stroke="#00BFC4" stroke-width="1.0" />
<path d="M188.25,30.00 L188.27,31.81 L188.29,34.16 L188.32,36.95 L188.35,40.08 L188.38,43.44 L188.42,46.92 L188.45,50.42 L188.49,53.84 L188.52,57.07 L188.55,60.00 L188.58,62.73 L188.61,65.43 L188.64,68.09 L188.67,70.70 L188.70,73.25 L188.73,75.74 L188.76,78.17 L188.79,80.53 L188.82,82.81 L188.85,85.00 L188.88,87.12 L188.90,89.19 L188.93,91.20 L188.95,93.14 L188.97,95.00 L189.00,96.78 L189.03,98.48 L189.06,100.09 L189.10,101.60 L189.15,103.00 L189.20,104.28 L189.26,105.42 L189.33,106.46 L189.40,107.39 L189.47,108.25 L189.54,109.05 L189.62,109.80 L189.70,110.54 L189.77,111.26 L189.85,112.00 L189.92,112.71 L189.99,113.36 L190.06,113.96 L190.13,114.52 L190.20,115.06 L190.27,115.60 L190.36,116.15 L190.44,116.72 L190.54,117.33 L190.65,118.00 L190.77,118.72 L190.90,119.49 L191.04,120.28 L191.19,121.10 L191.34,121.94 L191.49,122.78 L191.66,123.61 L191.82,124.43 L191.98,125.23 L192.15,126.00 L192.32,126.74 L192.48,127.46 L192.66,128.17 L192.83,128.87 L193.01,129.56 L193.19,130.25 L193.37,130.93 L193.56,131.62 L193.75,132.30 L193.95,133.00 L194.15,133.70 L194.35,134.38 L194.54,135.07 L194.74,135.75 L194.95,136.44 L195.16,137.13 L195.39,137.83 L195.63,138.54 L195.88,139.26 L196.15,140.00 L196.44,140.76 L196.76,141.54 L197.10,142.33 L197.45,143.13 L197.81,143.94 L198.17,144.75 L198.53,145.57 L198.88,146.38 L199.22,147.20 L199.55,148.00 L199.87,148.81 L200.20,149.63 L200.53,150.46 L200.85,151.30 L201.17,152.12 L201.47,152.94 L201.76,153.75 L202.02,154.53 L202.25,155.28 L202.45,156.00 L202.62,156.68 L202.76,157.31 L202.88,157.92 L202.98,158.50 L203.06,159.06 L203.11,159.62 L203.15,160.19 L203.17,160.77 L203.17,161.37 L203.15,162.00 L203.11,162.66 L203.05,163.32 L202.97,163.99 L202.86,164.68 L202.74,165.38 L202.61,166.08 L202.46,166.80 L202.30,167.52 L202.13,168.25 L201.95,169.00 L201.76,169.76 L201.54,170.54 L201.31,171.33 L201.07,172.13 L200.81,172.94 L200.55,173.75 L200.29,174.57 L200.04,175.38 L199.79,176.20 L199.55,177.00 L199.32,177.80 L199.08,178.62 L198.83,179.43 L198.59,180.25 L198.36,181.06 L198.13,181.87 L197.91,182.67 L197.70,183.46 L197.52,184.24 L197.35,185.00 L197.20,185.73 L197.05,186.43 L196.91,187.11 L196.78,187.78 L196.67,188.44 L196.57,189.10 L196.50,189.78 L196.46,190.49 L196.44,191.22 L196.45,192.00 L196.50,192.82 L196.58,193.69 L196.70,194.58 L196.84,195.50 L197.00,196.44 L197.18,197.38 L197.37,198.31 L197.56,199.23 L197.76,200.13 L197.95,201.00 L198.16,201.86 L198.41,202.72 L198.68,203.58 L198.96,204.44 L199.24,205.28 L199.51,206.10 L199.76,206.89 L199.97,207.64 L200.14,208.35 L200.25,209.00 L200.31,209.60 L200.33,210.15 L200.31,210.66 L200.26,211.13 L200.19,211.58 L200.09,211.99 L199.97,212.39 L199.84,212.76 L199.70,213.13 L199.55,213.50 L199.38,213.86 L199.19,214.19 L198.97,214.52 L198.74,214.82 L198.49,215.11 L198.23,215.38 L197.98,215.63 L197.72,215.87 L197.48,216.09 L197.25,216.30 L197.02,216.49 L196.78,216.66 L196.54,216.82 L196.29,216.95 L196.06,217.08 L195.83,217.18 L195.62,217.28 L195.43,217.36 L195.27,217.44 L195.15,217.50 L180.75,217.50 L180.63,217.44 L180.47,217.36 L180.28,217.28 L180.07,217.18 L179.84,217.08 L179.61,216.95 L179.36,216.82 L179.12,216.66 L178.88,216.49 L178.65,216.30 L178.42,216.09 L178.18,215.87 L177.92,215.63 L177.67,215.38 L177.41,215.11 L177.16,214.82 L176.93,214.52 L176.71,214.19 L176.52,213.86 L176.35,213.50 L176.20,213.13 L176.06,212.76 L175.93,212.39 L175.81,211.99 L175.71,211.58 L175.64,211.13 L175.59,210.66 L175.57,210.15 L175.59,209.60 L175.65,209.00 L175.76,208.35 L175.93,207.64 L176.14,206.89 L176.39,206.10 L176.66,205.28 L176.94,204.44 L177.22,203.58 L177.49,202.72 L177.74,201.86 L177.95,201.00 L178.14,200.13 L178.34,199.23 L178.53,198.31 L178.72,197.38 L178.90,196.44 L179.06,195.50 L179.20,194.58 L179.32,193.69 L179.40,192.82 L179.45,192.00 L179.46,191.22 L179.44,190.49 L179.40,189.78 L179.33,189.10 L179.23,188.44 L179.12,187.78 L178.99,187.11 L178.85,186.43 L178.70,185.73 L178.55,185.00 L178.38,184.24 L178.20,183.46 L177.99,182.67 L177.77,181.87 L177.54,181.06 L177.31,180.25 L177.07,179.43 L176.82,178.62 L176.58,177.80 L176.35,177.00 L176.11,176.20 L175.86,175.38 L175.61,174.57 L175.35,173.75 L175.09,172.94 L174.83,172.13 L174.59,171.33 L174.36,170.54 L174.14,169.76 L173.95,169.00 L173.77,168.25 L173.60,167.52 L173.44,166.80 L173.29,166.08 L173.16,165.38 L173.04,164.68 L172.93,163.99 L172.85,163.32 L172.79,162.66 L172.75,162.00 L172.73,161.37 L172.73,160.77 L172.75,160.19 L172.79,159.62 L172.84,159.06 L172.92,158.50 L173.02,157.92 L173.14,157.31 L173.28,156.68 L173.45,156.00 L173.65,155.28 L173.88,154.53 L174.14,153.75 L174.43,152.94 L174.73,152.12 L175.05,151.30 L175.37,150.46 L175.70,149.63 L176.03,148.81 L176.35,148.00 L176.68,147.20 L177.02,146.38 L177.37,145.57 L177.73,144.75 L178.09,143.94 L178.45,143.13 L178.80,142.33 L179.14,141.54 L179.46,140.76 L179.75,140.00 L180.02,139.26 L180.27,138.54 L180.51,137.83 L180.74,137.13 L180.95,136.44 L181.16,135.75 L181.36,135.07 L181.55,134.38 L181.75,133.70 L181.95,133.00 L182.15,132.30 L182.34,131.62 L182.53,130.93 L182.71,130.25 L182.89,129.56 L183.07,128.87 L183.24,128.17 L183.42,127.46 L183.58,126.74 L183.75,126.00 L183.92,125.23 L184.08,124.43 L184.24,123.61 L184.41,122.78 L184.56,121.94 L184.71,121.10 L184.86,120.28 L185.00,119.49 L185.13,118.72 L185.25,118.00 L185.36,117.33 L185.46,116.72 L185.54,116.15 L185.63,115.60 L185.70,115.06 L185.77,114.52 L185.84,113.96 L185.91,113.36 L185.98,112.71 L186.05,112.00 L186.13,111.26 L186.20,110.54 L186.28,109.80 L186.36,109.05 L186.43,108.25 L186.50,107.39 L186.57,106.46 L186.64,105.42 L186.70,104.28 L186.75,103.00 L186.80,101.60 L186.84,100.09 L186.87,98.48 L186.90,96.78 L186.92,95.00 L186.95,93.14 L186.97,91.20 L187.00,89.19 L187.02,87.12 L187.05,85.00 L187.08,82.81 L187.11,80.53 L187.14,78.17 L187.17,75.74 L187.20,73.25 L187.23,70.70 L187.26,68.09 L187.29,65.43 L187.32,62.73 L187.35,60.00 L187.38,57.07 L187.41,53.84 L187.45,50.42 L187.48,46.92 L187.52,43.44 L187.55,40.08 L187.58,36.95 L187.61,34.16 L187.63,31.81 L187.65,30.00 Z" fill="#00BFC4" fill-opacity="0.22" stroke="#00BFC4" stroke-width="0.65" stroke-linejoin="round"/>
<line x1="187.95" y1="30.00" x2="187.95" y2="217.50" stroke="#00BFC4" stroke-width="0.55" />
<rect x="186.15" y="150.4" width="3.6" height="43.3" fill="#00BFC4" fill-opacity="0.42" stroke="#00BFC4" stroke-width="0.6"/>
<line x1="186.15" y1="168.60" x2="189.75" y2="168.60" stroke="#00BFC4" stroke-width="1.0" />
<line x1="23.40" y1="19.00" x2="23.40" y2="227.30" stroke="#3a3a3a" stroke-width="0.8" />
<line x1="23.40" y1="227.30" x2="205.20" y2="227.30" stroke="#3a3a3a" stroke-width="0.8" />
<line x1="21.00" y1="217.50" x2="23.40" y2="217.50" stroke="#3a3a3a" stroke-width="0.6" />
<text x="20.40" y="219.10" font-size="4.5" text-anchor="end" fill="#4D4D4D" stroke="#4D4D4D" stroke-width="0.16" font-family="Liberation Sans, sans-serif" >0</text>
<line x1="21.00" y1="145.90" x2="23.40" y2="145.90" stroke="#3a3a3a" stroke-width="0.6" />
<text x="20.40" y="147.50" font-size="4.5" text-anchor="end" fill="#4D4D4D" stroke="#4D4D4D" stroke-width="0.16" font-family="Liberation Sans, sans-serif" >5</text>
<line x1="21.00" y1="74.20" x2="23.40" y2="74.20" stroke="#3a3a3a" stroke-width="0.6" />
<text x="20.40" y="75.80" font-size="4.5" text-anchor="end" fill="#4D4D4D" stroke="#4D4D4D" stroke-width="0.16" font-family="Liberation Sans, sans-serif" >10</text>
<line x1="41.20" y1="227.30" x2="41.20" y2="229.50" stroke="#3a3a3a" stroke-width="0.6" />
<text x="41.20" y="233.20" font-size="4.5" text-anchor="middle" fill="#4D4D4D" stroke="#4D4D4D" stroke-width="0.16" font-family="Liberation Sans, sans-serif" >Cont-1</text>
<line x1="70.55" y1="227.30" x2="70.55" y2="229.50" stroke="#3a3a3a" stroke-width="0.6" />
<text x="70.55" y="233.20" font-size="4.5" text-anchor="middle" fill="#4D4D4D" stroke="#4D4D4D" stroke-width="0.16" font-family="Liberation Sans, sans-serif" >Cont-2</text>
<line x1="99.90" y1="227.30" x2="99.90" y2="229.50" stroke="#3a3a3a" stroke-width="0.6" />
<text x="99.90" y="233.20" font-size="4.5" text-anchor="middle" fill="#4D4D4D" stroke="#4D4D4D" stroke-width="0.16" font-family="Liberation Sans, sans-serif" >Cont-3</text>
<line x1="129.25" y1="227.30" x2="129.25" y2="229.50" stroke="#3a3a3a" stroke-width="0.6" />
<text x="129.25" y="233.20" font-size="4.5" text-anchor="middle" fill="#4D4D4D" stroke="#4D4D4D" stroke-width="0.16" font-family="Liberation Sans, sans-serif" >MT-1</text>
<line x1="158.60" y1="227.30" x2="158.60" y2="229.50" stroke="#3a3a3a" stroke-width="0.6" />
<text x="158.60" y="233.20" font-size="4.5" text-anchor="middle" fill="#4D4D4D" stroke="#4D4D4D" stroke-width="0.16" font-family="Liberation Sans, sans-serif" >MT-2</text>
<line x1="187.95" y1="227.30" x2="187.95" y2="229.50" stroke="#3a3a3a" stroke-width="0.6" />
<text x="187.95" y="233.20" font-size="4.5" text-anchor="middle" fill="#4D4D4D" stroke="#4D4D4D" stroke-width="0.16" font-family="Liberation Sans, sans-serif" >MT-3</text>
<text x="114.40" y="14.40" font-size="5.8" text-anchor="middle" fill="#222" stroke="#222" stroke-width="0.27" font-family="Liberation Sans, sans-serif" >fpkm distribution</text>
<text transform="translate(15.2,123) rotate(-90)" font-size="5.3" text-anchor="middle" fill="#222" stroke="#222" stroke-width="0.12" font-family="Liberation Sans, sans-serif">log2(fpkm+1)</text>
<text x="212.80" y="115.60" font-size="5.0" text-anchor="start" fill="#222" stroke="#222" stroke-width="0.27" font-family="Liberation Sans, sans-serif" >group</text>
<rect x="213.10" y="118.20" width="7.80" height="7.90" fill="#F78A80" />
<rect x="213.10" y="126.10" width="7.80" height="8.80" fill="#30C8CD" />
<text x="223.00" y="124.00" font-size="4.1" text-anchor="start" fill="#222" stroke="#222" stroke-width="0.2" font-family="Liberation Sans, sans-serif" >Cont</text>
<text x="223.00" y="132.40" font-size="4.1" text-anchor="start" fill="#222" stroke="#222" stroke-width="0.2" font-family="Liberation Sans, sans-serif" >MT</text>
<text transform="translate(242.2,17.0) scale(0.88,1)" font-size="16.5" fill="#111" stroke="#111" stroke-width="0.35" font-family="Liberation Serif, serif">(B)</text>
<rect x="267.50" y="6.60" width="207.90" height="199.20" fill="#FFFFFF" />
<line x1="267.50" y1="170.33" x2="475.40" y2="170.33" stroke="#F3F3F3" stroke-width="0.5" />
<line x1="267.50" y1="117.20" x2="475.40" y2="117.20" stroke="#F3F3F3" stroke-width="0.5" />
<line x1="267.50" y1="64.06" x2="475.40" y2="64.06" stroke="#F3F3F3" stroke-width="0.5" />
<line x1="267.50" y1="10.93" x2="475.40" y2="10.93" stroke="#F3F3F3" stroke-width="0.5" />
<line x1="267.50" y1="196.90" x2="475.40" y2="196.90" stroke="#EBEBEB" stroke-width="0.8" />
<line x1="267.50" y1="143.76" x2="475.40" y2="143.76" stroke="#EBEBEB" stroke-width="0.8" />
<line x1="267.50" y1="90.63" x2="475.40" y2="90.63" stroke="#EBEBEB" stroke-width="0.8" />
<line x1="267.50" y1="37.50" x2="475.40" y2="37.50" stroke="#EBEBEB" stroke-width="0.8" />
<line x1="371.60" y1="6.60" x2="371.60" y2="205.80" stroke="#EBEBEB" stroke-width="0.8" />
<rect x="328.30" y="15.92" width="28.80" height="180.98" fill="#20B2AA" />
<rect x="357.10" y="98.71" width="28.70" height="98.19" fill="#4682B4" />
<rect x="385.80" y="114.12" width="29.10" height="82.78" fill="#C0C0C0" />
<text x="342.80" y="14.10" font-size="5.5" text-anchor="middle" fill="#333" stroke="#333" stroke-width="0.27" font-family="Liberation Sans, sans-serif" >1703</text>
<text x="371.60" y="97.10" font-size="5.5" text-anchor="middle" fill="#333" stroke="#333" stroke-width="0.27" font-family="Liberation Sans, sans-serif" >924</text>
<text x="400.60" y="112.50" font-size="5.5" text-anchor="middle" fill="#333" stroke="#333" stroke-width="0.27" font-family="Liberation Sans, sans-serif" >779</text>
<rect x="267.50" y="6.60" width="207.90" height="199.20" fill="none" stroke="#C2C2C2" stroke-width="1.05"/>
<line x1="265.10" y1="196.90" x2="267.50" y2="196.90" stroke="#333" stroke-width="0.6" />
<text x="264.50" y="198.50" font-size="4.5" text-anchor="end" fill="#4D4D4D" stroke="#4D4D4D" stroke-width="0.16" font-family="Liberation Sans, sans-serif" >0</text>
<line x1="265.10" y1="143.76" x2="267.50" y2="143.76" stroke="#333" stroke-width="0.6" />
<text x="264.50" y="145.36" font-size="4.5" text-anchor="end" fill="#4D4D4D" stroke="#4D4D4D" stroke-width="0.16" font-family="Liberation Sans, sans-serif" >500</text>
<line x1="265.10" y1="90.63" x2="267.50" y2="90.63" stroke="#333" stroke-width="0.6" />
<text x="264.50" y="92.23" font-size="4.5" text-anchor="end" fill="#4D4D4D" stroke="#4D4D4D" stroke-width="0.16" font-family="Liberation Sans, sans-serif" >1000</text>
<line x1="265.10" y1="37.50" x2="267.50" y2="37.50" stroke="#333" stroke-width="0.6" />
<text x="264.50" y="39.10" font-size="4.5" text-anchor="end" fill="#4D4D4D" stroke="#4D4D4D" stroke-width="0.16" font-family="Liberation Sans, sans-serif" >1500</text>
<line x1="371.60" y1="205.80" x2="371.60" y2="208.00" stroke="#333" stroke-width="0.6" />
<text transform="translate(374.4,209.4) rotate(-45)" font-size="4.7" text-anchor="end" fill="#555" stroke="#555" stroke-width="0.25" font-family="Liberation Sans, sans-serif">MTvsCont</text>
<text x="371.60" y="229.40" font-size="5.8" text-anchor="middle" fill="#222" stroke="#222" stroke-width="0.27" font-family="Liberation Sans, sans-serif" >compare group</text>
<text transform="translate(251.6,106.2) rotate(-90)" font-size="5.0" text-anchor="middle" fill="#222" stroke="#222" stroke-width="0.12" font-family="Liberation Sans, sans-serif">DEG gene counts</text>
<text x="484.50" y="95.70" font-size="5.6" text-anchor="start" fill="#222" stroke="#222" stroke-width="0.27" font-family="Liberation Sans, sans-serif" >type</text>
<rect x="484.70" y="97.90" width="8.60" height="8.20" fill="#F2F2F2" />
<rect x="485.10" y="98.50" width="7.80" height="6.90" fill="#20B2AA" />
<text x="496.60" y="103.60" font-size="4.3" text-anchor="start" fill="#222" stroke="#222" stroke-width="0.2" font-family="Liberation Sans, sans-serif" >all</text>
<rect x="484.70" y="106.10" width="8.60" height="8.20" fill="#F2F2F2" />
<rect x="485.10" y="106.70" width="7.80" height="6.90" fill="#4682B4" />
<text x="496.60" y="111.80" font-size="4.3" text-anchor="start" fill="#222" stroke="#222" stroke-width="0.2" font-family="Liberation Sans, sans-serif" >down</text>
<rect x="484.70" y="114.30" width="8.60" height="8.20" fill="#F2F2F2" />
<rect x="485.10" y="114.90" width="7.80" height="6.90" fill="#C0C0C0" />
<text x="496.60" y="120.00" font-size="4.3" text-anchor="start" fill="#222" stroke="#222" stroke-width="0.2" font-family="Liberation Sans, sans-serif" >up</text>
<text transform="translate(4.4,258.5) scale(0.88,1)" font-size="16.5" fill="#111" stroke="#111" stroke-width="0.35" font-family="Liberation Serif, serif">(C)</text>
<path d="M86.0,466.2 L86.0,491.5 L87.4,491.8 L88.8,492.1 L90.1,492.4 L91.5,492.6 L92.9,492.8 L94.3,493.0 L95.7,493.2 L97.0,493.5 L98.4,493.7 L99.8,494.0 L101.2,494.2 L102.6,494.4 L103.9,494.7 L105.3,494.8 L106.7,494.8 L108.1,494.3 L109.4,493.9 L110.8,493.5 L112.2,493.0 L113.6,492.6 L115.0,492.1 L116.3,491.8 L117.7,491.7 L119.1,491.5 L120.5,491.4 L121.9,491.2 L123.2,491.0 L124.6,490.8 L126.0,490.5 L126.0,466.2Z" fill="#619CFF"/>
<path d="M110.0 475.9h0M127.5 482.2h0M116.9 480.2h0M95.3 469.3h0M99.2 477.1h0M124.7 471.9h0M120.0 473.1h0M118.3 468.8h0M105.2 492.1h0M99.3 483.2h0M98.2 469.0h0M97.0 481.0h0M104.5 469.1h0M106.2 489.1h0M107.6 491.9h0M118.0 470.1h0M109.9 482.5h0M157.6 469.2h0M94.7 486.7h0M90.7 468.5h0M109.5 482.9h0M73.3 480.8h0M70.5 476.4h0M106.5 470.7h0M105.2 492.5h0M130.4 488.6h0M110.1 477.5h0M106.5 473.4h0M106.0 481.3h0M96.6 477.2h0M93.2 485.9h0M112.6 467.8h0M93.8 483.9h0M102.0 469.1h0M120.7 479.2h0M90.2 486.1h0M97.7 492.5h0M125.4 484.9h0M106.4 485.5h0M122.1 480.3h0M110.5 481.4h0M115.0 478.3h0M107.3 486.7h0M106.3 468.7h0M124.4 489.2h0M101.7 474.5h0M109.1 481.0h0M77.3 473.3h0M102.7 483.9h0M100.2 479.9h0M89.9 469.8h0M119.6 483.0h0M102.4 491.2h0M148.7 479.2h0M108.8 485.1h0M109.3 489.9h0M110.5 477.7h0M112.0 471.5h0M89.9 477.2h0M104.4 489.8h0M96.2 482.3h0M103.2 486.7h0M83.9 490.1h0M143.1 476.9h0M94.7 470.5h0M111.8 468.1h0M99.2 472.3h0M124.7 484.2h0M111.4 487.6h0M88.1 478.7h0M121.9 477.1h0M135.9 468.6h0M128.4 471.0h0M108.1 478.3h0M89.4 488.3h0M93.2 479.3h0M107.6 490.3h0M92.3 484.5h0M125.8 482.8h0M110.6 475.0h0M108.1 491.4h0M102.3 490.5h0M103.5 476.6h0M96.2 475.8h0M71.3 473.8h0M124.9 475.1h0M105.2 479.4h0M107.5 474.4h0M100.2 491.0h0M115.5 486.0h0M65.8 470.7h0M102.1 479.7h0M68.3 481.3h0M87.2 471.5h0M142.9 474.1h0M111.2 485.6h0M104.0 472.8h0M106.8 476.6h0M124.6 480.1h0M101.1 471.0h0M108.8 475.5h0M112.3 468.2h0M101.5 476.3h0M106.6 470.3h0M116.3 478.1h0M129.1 473.9h0M89.9 489.2h0M133.3 478.6h0M115.6 489.6h0M119.2 472.5h0M88.6 474.3h0M103.7 469.4h0M119.5 482.0h0M58.1 474.1h0M110.1 482.4h0M118.0 471.5h0M106.5 482.8h0M114.2 483.4h0M95.4 485.4h0M93.6 486.7h0M101.8 482.3h0M92.3 487.8h0M101.1 472.1h0M108.2 491.9h0M100.9 493.1h0M97.9 469.4h0M137.7 485.9h0M104.5 485.8h0M149.8 475.4h0M106.5 475.8h0M106.7 493.3h0M127.4 470.6h0M115.1 477.8h0M108.5 487.2h0M104.0 488.3h0M125.2 475.3h0M103.5 477.3h0M131.3 482.4h0M79.3 479.9h0M104.1 479.7h0M106.6 471.9h0M137.4 474.0h0M96.8 480.3h0M118.9 475.0h0M112.0 480.1h0M113.8 474.2h0M110.2 488.1h0M144.8 475.9h0M100.6 483.1h0M103.0 471.8h0M93.9 469.2h0M94.6 473.6h0M130.1 473.7h0M121.5 470.8h0M86.0 479.5h0M109.2 491.5h0M105.5 492.1h0M108.9 487.3h0M111.3 477.3h0M99.5 472.4h0M105.1 477.6h0M110.1 482.5h0M110.4 481.6h0M92.6 472.0h0M77.9 470.4h0M103.5 473.4h0M116.2 490.8h0M119.5 487.0h0M114.4 477.4h0M86.0 468.7h0M129.8 485.7h0M118.6 481.5h0M125.1 480.7h0M106.7 486.8h0M130.1 482.7h0M74.1 484.2h0M68.2 478.2h0M62.8 471.7h0M96.9 484.0h0M96.7 470.6h0M92.9 482.5h0M108.0 476.4h0M71.7 471.0h0M108.8 481.8h0M91.2 476.5h0M112.0 489.4h0M99.7 487.3h0M134.4 475.2h0M107.2 467.7h0M119.3 484.6h0M111.2 488.7h0M109.5 479.8h0M93.1 481.2h0M108.3 483.6h0M71.9 471.1h0M118.6 477.7h0M140.2 472.7h0M122.7 474.9h0M75.2 469.6h0M100.8 468.2h0M100.0 471.2h0M86.0 488.1h0M110.0 481.4h0M118.3 472.7h0M99.8 485.5h0M123.6 476.5h0M118.3 489.3h0M87.8 486.2h0M116.4 481.6h0M125.7 488.0h0M93.5 481.6h0M108.3 487.4h0M110.5 471.1h0M109.4 484.9h0M83.9 481.0h0M111.4 478.5h0M110.2 491.4h0M120.2 485.5h0M118.7 476.6h0M100.4 488.0h0M114.0 485.5h0M124.0 476.1h0M126.9 478.6h0M90.8 485.1h0M66.5 474.3h0M110.9 491.4h0M94.7 485.4h0M107.9 485.5h0M102.4 484.5h0M96.9 487.6h0M104.9 475.6h0M111.2 472.4h0M84.5 488.9h0M102.4 471.2h0M88.3 474.8h0M111.4 486.9h0M120.7 469.6h0M102.3 485.9h0M102.1 473.1h0M107.2 491.7h0M94.7 481.0h0M96.6 479.9h0M100.5 470.3h0M104.9 472.0h0M115.6 480.9h0M108.4 483.6h0M99.2 467.8h0M80.9 474.3h0M116.2 482.4h0M88.0 473.1h0M88.2 488.8h0M88.0 472.0h0M81.6 474.5h0M128.7 473.9h0M97.7 489.0h0M99.5 482.4h0M120.9 489.1h0M109.8 490.6h0M92.8 481.2h0M104.2 472.3h0M125.8 485.1h0M102.2 480.5h0M113.5 468.2h0M83.9 472.1h0M114.3 475.4h0M117.0 477.2h0M120.3 477.2h0M111.9 477.4h0M102.1 481.4h0M78.4 479.6h0M106.6 492.1h0M115.9 482.3h0M93.1 473.3h0M97.6 478.8h0M107.1 489.4h0M115.4 472.0h0M127.4 488.3h0M87.5 469.3h0M92.6 476.1h0M118.4 477.9h0M110.7 482.3h0M114.0 471.9h0M121.7 478.5h0M117.0 483.9h0M102.9 483.1h0M110.6 479.2h0M92.6 490.7h0M116.0 468.1h0M115.9 475.2h0M114.0 489.1h0M104.5 474.5h0M102.3 479.7h0M103.7 475.8h0M69.5 472.9h0M121.9 487.5h0M107.3 467.8h0M102.7 481.2h0M107.5 488.3h0M114.0 482.6h0M102.4 484.1h0M120.7 470.1h0M102.7 475.0h0M88.7 479.4h0M116.0 472.0h0M89.7 490.2h0M113.6 470.9h0M120.3 470.1h0M130.9 488.5h0M87.2 488.0h0M156.3 467.2h0M86.5 475.3h0M92.1 476.0h0M108.3 485.1h0M104.6 488.2h0M115.5 469.7h0M93.1 490.9h0M129.9 482.7h0M94.8 477.9h0M116.5 482.3h0M79.1 485.8h0M105.4 474.9h0M69.2 472.7h0M99.8 485.2h0M99.7 492.7h0M113.9 478.8h0M104.8 477.4h0M76.7 479.1h0M126.4 485.0h0M130.2 470.6h0M96.6 470.2h0M102.9 469.6h0M95.5 486.4h0M87.4 469.5h0M69.4 478.8h0M106.2 468.9h0M87.2 477.0h0M92.0 477.7h0M123.3 488.4h0M105.7 478.2h0M92.6 486.0h0M111.7 482.7h0M97.6 483.2h0M106.8 468.4h0M98.4 476.8h0M106.5 474.9h0M110.1 488.4h0M107.1 485.7h0M102.9 470.9h0M117.9 487.9h0M124.6 468.7h0M92.3 481.4h0M88.6 482.0h0M86.0 478.8h0M149.3 472.8h0M135.1 478.0h0M95.7 485.5h0M144.0 479.4h0M94.2 489.9h0M106.3 482.2h0M106.0 480.9h0M72.2 480.3h0M99.9 484.4h0M109.1 471.8h0M96.0 482.8h0M105.1 473.8h0M125.5 478.1h0M116.1 475.3h0M120.6 467.9h0M116.1 475.2h0M113.3 478.6h0M122.3 471.2h0M112.2 481.6h0M114.7 491.0h0M99.3 486.0h0M91.3 477.4h0M115.8 468.9h0M91.2 477.1h0M130.7 482.5h0M109.0 482.9h0M100.5 487.3h0M134.0 475.4h0M90.3 488.7h0M106.5 475.2h0M83.2 474.9h0M142.2 480.5h0M108.3 472.9h0M118.7 484.8h0M98.4 480.7h0M118.6 476.2h0M113.1 484.2h0M110.7 489.8h0M137.3 471.1h0M104.2 480.9h0M103.6 482.3h0M112.6 470.0h0M121.1 477.7h0M100.7 482.3h0M111.7 468.3h0M94.3 483.5h0M107.6 474.8h0M116.5 485.4h0M78.6 473.7h0M114.3 471.8h0M59.1 472.1h0M139.7 473.1h0M105.2 485.7h0M103.4 493.1h0M113.9 487.1h0M106.7 469.4h0M114.5 491.2h0M107.9 470.5h0M107.8 483.6h0M133.1 472.7h0M71.9 477.1h0M104.8 481.7h0M110.2 479.1h0M107.5 485.6h0M80.3 489.2h0M108.9 486.3h0M95.2 485.4h0M93.4 470.6h0M125.2 481.7h0M93.6 489.4h0M104.8 477.3h0M115.5 478.4h0M113.3 490.3h0M107.6 484.5h0M119.0 476.6h0M105.1 486.5h0M109.8 468.0h0M119.8 472.3h0M112.0 479.8h0M110.6 469.8h0M103.3 492.7h0M107.8 487.7h0M103.0 469.9h0M115.2 479.2h0M102.4 489.0h0M105.2 478.9h0M115.8 474.0h0M106.2 478.1h0M100.8 492.0h0M120.4 489.5h0M102.4 483.0h0M121.9 489.8h0M117.5 488.8h0M104.6 477.0h0M113.6 481.1h0M70.0 485.1h0M102.7 484.0h0M123.3 470.3h0M108.4 477.7h0M107.8 477.5h0M111.5 481.8h0M112.0 475.7h0M108.6 487.0h0M103.8 487.0h0M92.6 470.7h0M98.9 487.7h0M98.9 483.1h0M104.1 474.3h0M101.4 484.8h0M104.6 484.2h0M102.1 470.0h0M108.5 487.9h0M136.6 483.3h0M126.4 483.4h0M102.3 484.9h0M97.6 470.6h0M125.9 482.5h0M105.9 467.8h0M112.4 472.0h0M80.2 471.1h0M123.9 485.1h0M99.8 473.9h0M106.0 472.2h0M93.6 486.5h0M103.8 488.3h0M120.5 484.8h0M120.5 487.2h0M105.4 482.8h0M116.5 479.2h0M104.9 477.4h0M102.2 492.0h0M107.4 488.6h0M93.8 489.1h0M99.9 486.2h0M113.3 487.2h0M116.6 469.2h0M76.7 479.1h0M114.6 475.6h0M119.7 468.3h0M104.5 473.1h0M78.0 476.5h0M112.2 482.2h0M96.5 484.9h0M110.7 472.5h0M102.3 472.8h0M110.4 480.4h0M97.2 471.1h0M105.5 476.8h0M106.8 475.9h0M110.2 485.9h0M93.9 486.1h0M140.9 481.3h0M98.7 472.7h0M99.5 470.2h0M97.1 472.1h0M79.1 470.8h0M103.8 473.8h0M116.7 486.9h0M113.4 475.9h0M93.4 490.9h0M88.6 468.5h0M100.1 470.8h0M116.5 487.0h0M105.8 473.7h0M111.2 478.4h0M109.8 482.2h0M116.4 476.5h0M115.5 470.3h0M101.0 474.8h0M97.1 487.3h0M104.3 479.3h0M105.8 479.2h0M89.1 490.9h0M104.4 490.3h0M110.5 483.6h0M88.5 486.9h0M88.7 485.5h0M91.8 475.4h0M98.4 468.7h0M140.8 475.4h0M66.1 471.0h0M92.6 475.9h0M91.1 491.5h0M105.4 471.1h0M58.8 474.8h0M104.9 480.5h0M91.0 477.5h0M97.8 473.8h0M118.0 483.9h0M92.6 469.0h0M109.7 477.0h0M103.3 471.7h0M103.7 481.3h0M119.7 488.8h0M90.8 491.2h0M131.5 476.4h0M127.0 479.8h0M111.6 484.2h0M74.9 484.5h0M111.4 486.0h0M109.1 470.4h0M116.7 486.7h0M94.6 468.5h0M138.1 470.8h0M126.1 472.6h0M86.2 477.3h0M99.9 481.2h0M69.2 469.7h0M120.7 485.8h0M158.7 471.3h0M109.5 485.3h0M111.5 481.9h0M112.1 480.4h0M108.1 481.3h0M137.9 470.9h0M109.4 484.2h0M100.7 485.8h0M106.5 476.7h0M61.7 477.0h0M114.1 474.4h0M112.7 491.7h0M103.8 473.6h0M122.5 473.7h0M115.8 481.9h0M100.8 486.8h0M80.9 477.3h0M88.1 471.9h0M92.6 477.5h0M99.4 485.2h0M104.6 472.7h0M132.3 476.1h0M98.2 482.3h0M127.6 478.7h0M112.1 469.0h0M122.7 482.9h0M103.2 482.0h0M117.6 468.2h0M96.5 481.9h0M89.2 471.8h0M118.4 488.4h0M112.4 482.4h0M94.5 487.6h0M97.7 470.6h0M134.5 475.2h0M97.7 490.3h0M113.1 481.6h0M87.9 488.7h0M119.5 479.4h0M86.6 473.9h0M106.5 485.7h0M70.3 482.3h0M107.5 489.2h0M122.1 471.2h0M82.1 486.7h0M98.0 484.3h0M116.3 474.0h0M109.4 473.5h0M99.8 489.5h0M110.1 473.8h0M104.8 469.1h0M123.5 477.4h0M98.9 476.6h0M115.9 483.4h0M110.4 488.3h0M115.0 473.7h0M102.3 472.3h0M114.2 486.5h0M112.9 489.1h0M102.7 484.4h0M66.4 474.2h0M141.2 469.1h0M113.6 469.7h0M94.0 477.4h0M114.5 473.5h0M98.2 468.9h0M105.2 492.9h0M123.3 477.2h0M104.6 488.9h0M98.7 472.8h0M99.4 487.0h0M80.8 474.3h0M95.0 476.2h0M97.8 475.7h0M91.8 469.9h0M78.1 470.5h0M105.1 475.8h0M94.7 487.6h0M114.9 488.9h0M131.3 473.4h0M97.9 474.0h0M108.2 480.1h0M106.3 477.4h0M80.5 474.2h0M87.4 482.4h0M125.9 471.0h0M105.4 484.2h0M118.8 469.9h0M78.9 470.7h0M108.9 471.9h0M123.8 468.0h0M124.0 467.9h0M106.7 480.7h0M102.0 483.7h0M116.0 473.9h0M80.2 468.1h0M97.5 491.9h0M119.4 489.6h0M105.3 481.7h0M104.8 473.2h0M143.4 470.7h0M100.1 479.9h0M102.8 493.5h0M90.1 479.0h0M81.7 477.6h0M108.1 488.7h0M138.2 470.7h0M108.4 479.5h0M110.8 475.0h0M100.2 489.4h0M108.2 469.1h0M115.6 468.7h0M108.8 468.5h0M118.7 490.5h0M107.5 476.9h0M93.6 475.7h0M108.5 470.8h0M105.9 488.6h0M91.2 488.6h0M109.8 472.5h0M119.7 484.5h0M88.4 489.5h0M107.4 491.2h0M114.6 476.1h0M103.2 479.7h0M97.8 474.0h0M102.1 472.7h0M107.3 493.5h0M112.4 469.3h0M107.8 470.8h0M85.3 469.2h0M119.7 473.0h0M131.5 479.4h0M84.5 469.7h0M96.7 482.0h0M91.8 480.0h0M122.3 474.5h0M129.3 473.8h0M73.4 474.9h0M100.6 473.6h0M93.2 482.3h0M105.3 487.0h0M131.1 470.5h0M79.6 473.9h0M91.6 490.5h0M105.7 469.7h0M106.8 469.2h0M115.2 484.7h0M104.3 477.3h0M89.0 490.7h0M101.4 483.2h0M151.0 471.4h0M115.5 472.2h0M86.4 469.7h0M119.0 487.4h0M99.7 475.6h0M117.3 482.1h0M56.5 475.7h0M124.4 479.2h0M90.9 470.2h0M104.8 473.8h0M111.4 492.2h0M106.3 492.4h0M91.2 467.8h0M88.8 478.1h0M98.5 477.5h0M75.6 481.8h0M94.8 478.5h0M87.9 477.2h0M105.1 487.3h0M101.5 473.4h0M108.7 487.7h0M98.3 489.3h0M69.8 476.0h0M100.5 485.6h0M115.7 483.9h0M97.1 488.8h0M103.2 478.0h0M115.7 473.0h0M103.3 490.3h0M126.2 477.8h0M99.7 479.6h0M114.7 484.8h0M96.9 487.5h0M88.9 468.0h0M104.3 491.4h0M109.2 484.3h0M133.8 475.5h0M89.5 490.8h0M113.6 470.9h0M105.4 487.6h0M88.1 481.4h0M145.3 469.6h0M112.8 469.8h0M87.8 481.4h0M128.6 474.0h0M84.8 485.8h0M100.6 476.4h0M134.3 481.3h0M69.4 481.8h0M130.5 485.6h0M109.5 488.7h0M79.0 482.8h0M108.1 468.0h0M104.9 491.4h0M107.9 471.3h0M114.8 484.1h0M112.1 468.9h0M90.4 473.6h0M119.4 484.5h0M103.5 480.4h0M117.4 487.0h0M126.8 480.5h0M161.9 468.7h0M97.6 477.8h0M104.8 486.7h0M135.4 486.8h0M136.1 483.6h0M102.1 492.7h0M134.8 481.1h0M103.3 479.8h0M102.2 485.1h0M115.8 485.1h0M105.3 473.3h0M104.6 486.5h0M102.6 484.9h0M104.2 480.9h0M88.9 484.7h0M115.7 483.4h0M108.0 482.6h0M111.8 485.8h0M118.6 471.4h0M95.6 483.6h0M95.8 481.9h0M98.2 481.0h0M99.4 472.0h0M116.0 485.8h0M102.2 472.1h0M100.2 469.0h0M110.4 486.0h0M92.8 487.7h0M85.2 472.5h0M112.9 484.3h0M115.8 485.6h0M99.0 490.9h0M110.4 477.3h0M69.8 470.1h0M103.2 478.3h0M108.4 482.0h0M96.9 468.3h0M101.2 476.4h0M109.4 468.8h0M108.8 475.6h0M90.2 474.9h0M113.3 474.9h0M81.4 486.5h0M144.0 482.4h0M93.9 467.8h0M96.9 477.5h0M93.8 488.2h0M161.1 469.4h0M98.6 483.0h0M109.3 488.0h0M159.8 470.4h0M72.8 480.6h0M106.7 479.6h0M109.2 477.7h0M113.1 481.9h0M100.7 471.1h0M100.4 483.2h0M70.3 479.3h0M107.5 471.8h0M80.6 471.3h0M93.9 487.2h0M100.6 481.4h0M79.6 468.0h0M68.5 475.4h0M132.1 467.1h0M104.2 479.2h0M94.1 475.6h0M113.4 472.2h0M52.5 469.0h0M96.5 485.7h0M140.5 466.6h0M127.5 483.1h0M110.4 489.2h0M83.4 472.0h0M100.0 478.6h0M67.2 477.7h0M95.0 468.2h0M65.9 473.8h0M87.5 470.4h0M110.3 473.8h0M84.4 478.2h0M90.4 474.9h0M128.2 471.1h0M100.7 489.3h0M100.6 490.2h0M82.4 474.7h0M118.2 488.9h0M112.0 477.1h0M107.4 486.7h0M109.7 467.7h0M97.3 473.1h0M108.6 485.5h0M137.8 476.9h0M119.7 482.9h0M110.6 489.2h0M106.6 487.1h0M58.9 471.8h0M126.6 474.9h0M78.9 470.7h0M87.8 490.2h0M112.7 468.7h0M119.3 486.0h0M117.6 482.7h0M104.7 480.0h0M92.1 476.8h0M70.3 479.3h0M122.5 476.1h0M148.1 473.7h0M96.4 482.2h0M123.9 481.4h0M103.2 486.0h0M99.7 477.8h0M106.2 480.5h0M50.6 470.2h0M104.5 472.6h0M93.7 476.2h0M113.6 483.4h0M106.2 469.4h0M124.2 487.6h0M127.4 471.9h0M99.9 482.3h0M98.3 482.8h0M134.5 472.2h0M106.2 468.4h0M73.9 478.1h0M159.5 470.7h0M108.4 467.9h0M106.4 486.3h0M106.2 484.9h0M104.2 486.3h0M137.5 477.0h0M136.9 477.3h0M87.4 488.3h0M90.0 489.8h0M103.3 469.0h0M121.0 482.5h0M109.9 469.0h0M114.4 483.4h0M108.3 476.9h0M94.4 475.9h0M119.7 488.4h0M57.9 476.9h0M112.9 488.7h0M93.3 484.7h0M105.3 488.7h0M146.6 477.8h0M107.2 485.5h0M76.8 482.1h0M104.0 475.9h0M111.3 491.3h0M76.7 467.1h0M96.9 469.6h0M107.2 491.0h0M102.4 469.9h0M106.2 483.1h0M99.0 471.6h0M111.2 475.2h0M91.8 489.5h0M128.8 479.9h0M140.2 475.7h0M105.9 491.7h0M105.1 469.6h0M123.2 479.4h0M98.7 483.6h0M118.7 474.6h0M98.6 485.8h0M113.9 474.5h0M100.7 482.5h0M109.2 480.9h0M131.9 485.2h0M76.1 469.9h0M119.0 480.9h0M107.3 473.5h0M102.4 470.0h0M101.3 489.2h0M97.2 477.3h0M109.9 486.1h0M84.0 484.1h0M111.7 477.4h0M141.0 478.3h0M150.1 469.2h0M126.4 484.3h0M118.9 476.6h0M92.2 481.8h0M144.2 476.3h0M93.9 475.1h0M124.2 469.7h0M125.1 469.0h0M109.9 472.2h0M106.7 484.7h0M93.8 470.5h0M106.6 475.3h0M98.8 488.4h0M87.5 468.8h0M87.7 485.1h0M118.5 475.0h0M131.3 473.4h0M89.1 475.5h0M97.5 491.6h0M88.4 486.5h0M92.9 477.9h0M108.6 482.4h0M103.8 491.5h0M104.0 488.5h0M94.1 477.9h0M111.5 482.4h0M98.7 473.6h0M103.1 481.5h0M105.1 470.9h0M128.4 474.0h0M96.5 483.6h0M113.9 486.4h0M99.6 485.6h0M127.1 481.6h0M102.9 484.2h0M106.2 489.2h0M125.1 479.3h0M111.8 489.4h0M83.6 472.0h0M88.6 488.8h0M159.9 470.3h0M67.7 481.0h0M99.2 488.3h0M139.8 482.0h0M58.9 474.8h0M90.8 480.3h0M94.6 479.8h0M82.4 483.7h0M105.3 481.3h0M108.9 484.4h0M100.0 472.1h0M85.5 484.8h0M119.2 485.5h0M118.8 482.7h0M107.9 473.2h0M88.7 471.3h0M107.3 479.0h0M110.1 483.7h0M104.0 476.8h0M123.7 471.6h0M102.7 487.2h0M106.4 476.4h0M86.2 474.3h0M107.9 483.4h0M116.4 487.5h0M114.5 477.0h0M97.1 487.3h0M161.7 468.9h0M113.9 468.6h0M103.9 489.9h0M103.6 491.7h0M117.1 478.3h0M92.0 469.1h0M110.5 491.4h0M113.9 476.2h0M106.5 493.1h0M124.6 477.6h0M105.2 490.7h0M105.1 476.6h0M98.5 483.7h0M130.7 473.5h0M99.9 491.1h0M112.8 487.4h0M103.4 486.5h0M133.7 484.5h0M136.6 477.3h0M68.1 469.2h0M109.3 479.3h0M80.3 474.1h0M106.0 478.6h0M74.9 487.5h0M107.5 492.7h0M92.7 477.2h0M102.0 491.7h0M99.4 479.3h0M109.2 489.2h0M120.1 471.0h0M134.0 484.4h0M100.4 475.2h0M108.1 486.3h0M102.1 478.2h0M140.4 478.6h0M86.7 484.7h0M124.3 489.5h0M111.0 475.8h0M98.9 491.0h0M117.1 486.2h0M98.7 490.6h0M127.1 471.9h0M81.8 477.6h0M86.7 477.3h0M115.5 472.2h0M104.7 477.5h0M89.6 479.2h0M106.5 485.7h0M99.1 479.8h0M107.5 468.0h0M115.1 477.8h0M123.0 479.4h0M108.9 491.5h0M152.3 470.4h0M105.0 492.5h0M116.6 490.2h0M84.0 490.1h0M124.7 486.7h0M108.5 478.9h0M126.3 475.0h0M117.6 490.3h0M124.2 470.6h0M76.9 482.1h0M113.7 483.1h0M93.5 483.6h0M97.6 482.5h0M100.3 493.0h0M108.8 482.2h0M110.1 486.1h0M132.9 481.8h0M56.5 472.7h0M93.3 468.1h0M101.7 488.3h0M119.7 470.7h0M107.5 477.6h0M106.4 491.2h0M116.0 490.5h0M111.1 470.6h0M98.7 486.9h0M82.5 486.8h0M105.0 475.4h0M125.4 470.0h0M109.0 480.4h0M75.9 481.8h0M104.4 488.4h0M102.6 477.1h0M108.5 469.2h0M108.7 491.0h0M137.5 480.0h0M100.8 491.1h0M103.4 478.2h0M109.6 468.1h0M126.1 483.5h0M113.3 474.2h0M105.3 470.3h0M119.5 484.3h0M105.7 469.8h0M141.4 472.0h0M98.4 487.9h0M87.6 484.4h0M120.7 488.0h0M99.1 470.3h0M122.1 472.0h0M109.4 490.7h0M106.3 480.0h0M82.5 483.8h0M117.6 477.5h0M78.7 467.7h0M142.1 480.6h0M125.0 477.0h0M99.3 469.9h0M87.7 482.3h0M126.0 485.4h0M105.5 486.4h0M87.4 485.1h0M106.1 489.8h0M96.6 483.9h0M103.3 487.1h0M110.5 479.9h0M130.1 470.7h0M118.5 486.9h0M90.8 477.9h0M105.5 476.2h0M105.9 489.9h0M158.2 468.7h0M82.5 480.7h0M106.4 472.5h0M129.9 482.7h0M103.0 478.4h0M97.4 484.3h0M107.7 469.5h0M100.1 484.6h0M132.1 482.1h0M82.1 477.7h0M94.2 488.3h0M82.0 486.6h0M113.5 482.3h0M98.9 471.3h0M127.9 483.1h0M127.0 470.7h0M97.1 487.0h0M102.7 473.6h0M141.1 481.2h0M116.2 471.5h0M77.4 476.3h0M113.1 468.3h0M130.4 482.6h0M143.1 474.0h0M113.7 488.4h0M123.6 482.7h0M121.6 487.1h0M101.6 473.5h0M114.3 470.6h0M88.6 477.1h0M102.5 482.0h0M107.8 489.8h0M106.7 481.5h0M136.6 468.3h0M98.5 481.2h0M129.6 476.8h0M101.8 477.3h0M100.4 488.0h0M87.6 487.4h0M130.1 488.7h0M92.7 491.7h0M51.8 471.4h0M126.6 478.6h0M109.0 470.2h0M111.8 486.9h0M114.6 488.6h0M72.9 483.6h0M83.2 483.9h0M106.1 475.9h0M75.1 481.6h0M106.2 493.4h0M114.7 478.4h0M111.2 470.0h0M109.7 469.4h0M74.0 475.2h0M96.0 486.5h0M127.5 482.8h0M87.2 480.4h0M107.0 480.5h0M75.0 472.6h0M134.5 487.2h0M91.7 486.3h0M103.4 470.7h0M107.4 488.1h0M113.9 484.5h0M134.2 484.3h0M114.7 477.1h0M101.2 486.4h0M80.5 489.2h0M113.3 474.0h0M145.3 478.6h0M116.9 482.1h0M92.0 484.8h0M105.0 471.0h0M106.7 493.4h0M109.6 476.6h0M158.3 468.6h0M112.4 479.8h0M102.8 487.1h0M113.7 485.5h0M105.2 492.4h0M103.5 470.1h0M101.9 492.6h0M105.9 490.3h0M98.3 474.6h0M96.3 481.1h0M89.7 479.2h0M104.4 486.1h0M98.9 488.8h0M121.2 472.2h0M122.2 487.4h0M101.0 485.6h0M109.8 473.9h0M128.1 483.1h0M101.6 488.8h0M107.7 479.9h0M104.5 479.7h0M110.9 480.0h0M88.8 478.3h0M111.5 478.8h0M118.2 480.5h0M110.4 482.5h0M124.3 477.9h0M100.3 477.2h0M113.4 474.8h0M97.5 470.2h0M106.3 476.7h0M112.2 467.7h0M93.8 475.8h0M77.7 482.4h0M117.9 489.0h0M119.1 484.4h0M111.5 489.3h0M100.1 475.7h0M111.2 475.3h0M82.0 477.6h0M111.4 480.9h0M108.3 486.6h0M109.7 469.7h0M104.6 493.3h0M95.3 484.3h0M114.2 477.8h0M105.1 489.1h0M115.2 471.1h0M101.8 481.0h0M107.3 486.3h0M109.9 478.0h0M126.3 476.8h0M76.8 482.1h0M116.7 474.8h0M97.3 474.6h0M112.9 470.3h0M102.4 472.6h0M100.2 484.7h0M105.8 479.0h0M107.0 487.0h0M112.8 487.0h0M110.5 487.5h0M112.1 489.4h0M102.5 487.3h0M112.0 486.6h0M101.1 476.0h0M109.4 486.6h0M105.0 492.6h0M107.9 482.6h0M60.9 476.4h0M106.1 488.1h0M95.0 478.5h0M102.6 488.9h0M80.3 480.1h0M111.2 484.9h0M127.0 477.9h0M101.5 482.0h0M85.0 488.7h0M109.8 492.3h0M87.6 471.3h0M126.7 482.0h0M87.1 474.9h0M101.7 482.7h0M106.0 471.9h0M86.6 486.2h0M100.0 480.8h0M98.0 479.0h0M113.6 472.6h0M154.6 474.6h0M101.8 481.1h0M117.9 477.1h0M88.9 487.8h0M108.5 479.3h0M104.1 475.7h0M98.7 474.4h0M120.0 485.3h0M115.3 480.8h0M88.3 484.1h0M98.9 483.1h0M119.9 482.2h0M109.5 469.0h0M124.5 489.1h0M152.8 476.1h0M115.0 484.4h0M110.7 471.2h0M95.1 471.6h0M102.1 469.4h0M109.9 483.0h0M132.0 488.2h0M99.3 470.2h0M102.9 490.7h0M112.8 474.2h0M104.5 480.9h0M118.3 469.8h0M95.8 470.8h0M111.3 491.2h0M111.8 480.0h0M105.1 487.5h0M92.9 481.2h0M103.2 491.8h0M115.2 482.6h0M93.0 482.0h0M83.0 489.9h0M105.1 470.4h0M95.9 490.8h0M118.5 469.0h0M119.7 479.3h0M136.0 483.6h0M121.5 479.6h0M110.8 481.6h0M92.8 482.7h0M120.1 470.4h0M114.3 488.3h0M115.3 486.1h0M112.9 485.0h0M120.7 488.9h0M99.1 471.6h0M111.8 480.2h0M106.6 478.1h0M100.8 470.6h0M100.4 480.5h0M90.3 484.8h0M105.9 480.0h0M102.0 480.5h0M103.8 485.9h0M122.5 484.9h0M112.2 483.3h0M112.1 474.1h0M152.6 476.2h0M94.9 486.4h0M106.3 486.8h0M83.3 486.9h0M102.8 483.9h0M137.3 474.1h0M82.3 483.7h0M115.9 483.7h0M123.8 480.9h0M106.3 490.5h0M118.3 470.2h0M104.4 484.0h0M101.4 475.3h0M106.3 493.2h0M93.4 475.0h0M99.5 487.2h0M99.4 481.5h0M156.9 469.8h0M100.7 479.7h0M95.6 471.7h0M134.7 484.1h0M88.8 486.8h0M142.3 480.4h0M122.7 479.9h0M110.8 476.5h0M104.0 471.4h0M93.5 474.8h0M85.2 482.7h0M84.9 479.3h0M101.3 476.0h0M103.3 471.9h0M131.5 473.4h0M107.1 490.2h0M159.8 467.4h0M114.0 481.8h0M89.5 470.4h0M107.6 488.1h0M90.7 469.7h0M135.6 477.8h0M100.8 482.9h0M93.0 471.5h0M84.6 481.3h0M111.0 472.3h0M105.0 490.8h0M55.4 471.6h0M113.7 473.9h0M97.1 480.8h0M117.2 475.6h0M105.8 487.6h0M107.1 474.6h0M104.9 467.9h0M112.0 490.2h0M159.0 471.1h0M118.3 471.1h0M79.4 470.9h0M106.0 479.1h0M95.9 490.2h0M84.7 480.5h0M93.4 477.9h0M96.6 486.0h0M140.1 478.8h0M115.2 489.1h0M122.6 488.6h0M112.9 473.0h0M99.9 492.9h0M102.8 468.1h0M104.4 470.4h0M98.9 468.0h0M103.8 473.3h0M116.7 490.7h0M80.6 486.2h0M98.1 488.1h0M105.5 492.3h0M112.0 469.7h0M110.8 469.9h0M114.2 473.2h0M85.1 484.6h0M92.4 471.2h0M99.6 472.3h0M98.4 484.6h0M115.8 487.9h0M112.3 488.7h0M69.4 478.8h0M99.1 490.9h0M118.7 480.7h0M131.6 482.3h0M108.9 489.2h0M101.2 476.5h0M101.5 485.0h0M110.3 476.5h0M123.7 471.7h0M100.9 472.2h0M93.1 471.4h0M88.7 484.2h0M122.5 483.9h0M110.0 489.7h0M101.9 488.4h0M118.2 472.5h0M111.4 473.4h0M78.9 467.7h0M103.1 492.4h0M110.4 472.5h0M112.5 485.0h0M104.7 473.6h0M92.9 491.3h0M142.4 483.4h0M105.2 475.9h0M113.8 478.1h0M107.1 479.8h0M81.5 477.5h0M96.0 490.7h0M78.1 482.5h0M93.1 485.8h0M93.7 487.6h0M103.6 482.1h0M100.1 482.6h0M101.8 486.4h0M119.7 469.4h0M84.8 479.4h0M119.0 485.1h0M107.0 484.9h0M104.3 493.0h0M97.6 490.6h0M107.3 492.7h0M95.1 489.1h0M123.1 475.5h0M120.2 488.6h0M100.2 470.6h0M65.4 470.5h0M126.3 474.4h0M99.1 468.9h0M111.2 489.5h0M123.1 477.5h0M118.4 479.9h0M123.5 483.1h0M105.8 486.3h0M121.7 488.3h0M105.0 476.9h0M97.5 487.6h0M105.6 482.8h0M100.7 469.5h0M116.4 482.8h0M120.8 483.2h0M89.0 469.3h0M91.1 477.6h0M102.5 478.8h0M105.1 488.0h0M139.0 473.4h0M135.1 477.9h0M142.8 483.1h0M114.4 475.0h0M112.0 468.7h0M97.8 485.0h0M102.1 486.1h0M120.9 487.2h0M98.1 485.0h0M81.2 483.4h0M99.9 486.3h0M100.2 485.6h0M114.1 471.1h0M95.6 481.3h0M127.4 471.6h0M122.8 489.0h0M110.1 488.0h0M107.8 468.9h0M95.2 490.9h0M124.8 488.2h0M116.0 478.9h0M106.5 486.3h0M90.8 486.8h0M94.8 477.2h0M102.4 477.8h0M100.5 488.3h0M77.7 476.4h0M103.3 471.7h0M104.6 492.0h0M98.6 486.9h0M102.5 478.9h0M100.6 492.3h0M102.3 471.7h0M109.8 468.5h0M106.0 485.3h0M93.6 473.2h0M118.2 484.9h0M106.5 469.1h0M104.9 488.3h0M113.6 491.4h0M115.6 489.4h0M122.3 479.9h0M119.3 489.6h0M111.7 468.2h0M114.0 476.5h0M90.5 477.9h0M113.0 476.7h0M97.0 482.1h0M97.2 470.5h0M86.8 474.3h0M103.0 482.4h0M62.6 477.5h0M111.2 484.6h0M115.4 482.8h0M116.9 488.9h0M87.8 469.4h0M110.6 486.1h0M121.3 478.1h0M70.6 485.4h0M93.3 476.3h0M97.7 490.6h0M105.0 468.3h0M91.7 487.7h0M107.2 486.8h0M101.0 474.4h0M111.1 484.1h0M107.0 470.9h0M112.4 486.2h0M96.5 484.6h0M113.3 475.1h0M114.7 471.0h0M114.0 470.5h0M79.3 482.8h0M136.2 477.5h0M108.4 487.4h0M97.9 471.7h0M104.2 475.2h0M106.6 489.2h0M106.6 485.6h0M96.6 484.1h0M97.5 469.4h0M101.8 481.6h0M117.2 476.5h0M104.3 469.5h0M71.5 479.9h0M104.7 486.2h0M93.8 491.6h0M56.2 475.4h0M147.7 474.0h0M98.9 479.4h0M107.2 475.9h0M101.6 484.3h0M75.9 475.8h0M127.9 480.1h0M133.8 469.5h0M92.8 483.3h0M103.7 491.9h0M102.2 471.8h0M91.3 480.9h0M111.4 468.5h0M117.3 473.2h0M116.0 482.3h0M111.9 471.4h0M60.8 473.4h0M95.6 470.5h0M106.5 478.7h0M113.1 469.0h0M102.6 483.2h0M104.7 483.9h0M121.5 475.8h0M64.8 476.1h0M97.7 479.4h0M98.7 474.2h0M163.3 467.8h0M95.5 469.8h0M74.2 472.3h0M103.6 493.1h0M110.9 492.1h0M90.2 476.3h0M121.5 482.7h0M93.5 470.8h0M113.2 482.3h0M90.9 473.8h0M125.6 484.2h0M93.8 476.7h0M114.5 470.0h0M121.4 470.8h0M97.0 483.4h0M83.4 477.9h0M108.7 484.4h0M106.1 481.2h0M105.5 468.6h0M117.3 470.5h0M105.1 485.6h0M106.0 476.0h0M105.8 469.0h0M104.8 484.3h0M103.3 471.6h0M90.8 472.5h0M99.0 470.5h0M97.5 490.5h0M96.6 469.6h0M117.4 468.1h0M86.1 485.0h0M94.1 476.6h0M106.8 491.4h0M99.8 477.7h0M96.2 474.9h0M102.2 474.2h0M106.2 471.4h0M111.9 485.0h0M145.1 478.7h0M122.6 489.5h0M104.1 487.6h0M104.7 487.6h0M103.6 473.5h0M96.1 481.4h0M137.7 470.9h0M79.3 470.9h0M94.1 470.6h0M111.4 485.5h0M108.8 484.1h0M98.2 477.0h0M134.1 475.4h0M103.4 472.7h0M109.0 485.3h0M83.1 486.9h0M126.7 474.5h0M84.8 484.0h0M102.9 492.0h0M126.0 489.0h0M135.9 480.6h0M120.5 486.5h0M95.8 483.7h0M68.9 481.6h0M104.7 482.3h0M78.2 470.5h0M140.4 478.6h0M50.6 470.2h0M100.3 482.7h0M94.0 478.1h0M57.5 470.6h0M106.1 471.4h0M80.7 486.3h0M127.8 489.1h0M112.5 477.0h0M102.0 486.8h0M121.6 489.0h0M118.3 480.0h0M100.3 488.8h0M122.1 485.8h0M132.5 479.0h0M109.8 483.8h0M101.4 475.1h0M127.9 480.1h0M135.4 483.8h0M101.2 473.5h0M82.4 480.7h0M124.1 468.0h0M111.5 470.7h0M95.7 485.8h0M108.0 482.2h0M99.6 478.6h0M130.7 485.5h0M101.0 485.9h0M93.5 472.3h0M73.0 483.7h0M101.0 487.2h0M94.9 469.8h0M104.9 472.2h0M145.1 481.8h0M47.9 467.9h0M99.0 484.4h0M120.0 468.7h0M83.8 484.0h0M132.3 482.0h0M121.0 480.6h0M89.2 478.8h0M108.9 479.8h0M107.7 477.3h0M112.7 490.2h0M99.5 491.4h0M102.5 468.4h0M96.2 486.1h0M98.8 483.8h0M92.0 485.9h0M128.4 474.0h0M126.2 480.7h0M101.7 485.1h0M112.7 483.4h0M105.8 493.2h0M98.3 490.5h0M101.3 492.0h0M142.1 477.6h0M101.0 489.6h0M108.4 479.2h0M99.1 471.8h0M119.1 487.6h0M86.2 487.5h0M114.6 472.0h0M118.9 485.0h0M121.3 485.8h0M146.6 468.8h0M113.5 471.7h0M147.8 477.0h0M98.2 484.9h0M106.7 484.9h0M94.6 469.4h0M81.9 468.6h0M104.3 474.9h0M113.9 488.2h0M117.1 483.8h0M60.4 479.1h0M135.2 471.9h0M96.6 473.3h0M98.8 482.9h0M120.9 486.3h0M127.1 489.2h0M114.7 480.9h0M100.6 469.4h0M105.1 482.1h0M121.0 476.4h0M101.6 469.8h0M118.8 470.8h0M117.3 473.7h0M105.2 478.3h0M127.4 484.2h0M102.6 474.2h0M115.5 481.3h0M110.5 475.0h0M100.5 487.4h0M107.0 469.2h0M109.3 488.8h0M107.1 473.1h0M85.7 470.2h0M161.0 469.4h0M142.6 474.2h0M71.1 479.7h0M135.7 483.7h0M107.0 476.8h0M87.5 474.0h0M119.9 474.4h0M104.2 484.7h0M113.6 483.5h0M120.4 473.1h0M107.2 468.4h0M74.9 484.6h0M120.1 484.1h0M112.7 468.3h0M129.3 488.8h0M97.8 473.5h0M117.5 483.1h0M124.6 474.8h0M101.5 483.8h0M103.4 477.1h0M100.7 482.3h0M95.7 469.8h0M100.6 481.5h0M85.5 472.0h0M116.3 477.5h0M104.0 484.0h0M108.1 468.6h0M98.5 487.8h0M101.7 470.1h0M115.6 468.1h0M105.3 471.6h0M109.0 477.6h0M103.8 477.5h0M107.7 469.5h0M127.5 479.9h0M97.7 472.1h0M106.6 473.6h0M112.4 471.1h0M82.5 480.7h0M106.1 491.1h0M96.5 474.2h0M116.0 482.6h0M119.6 469.8h0M110.2 490.7h0M130.2 485.6h0M82.8 480.8h0M106.9 473.4h0M115.1 485.6h0M130.3 467.6h0M110.6 471.2h0M109.2 480.9h0M102.7 469.4h0M108.2 485.7h0M107.7 469.6h0M128.5 483.0h0M120.4 476.0h0M114.8 478.2h0M131.5 473.4h0M116.6 474.1h0M105.1 478.1h0M115.6 477.8h0M99.0 480.4h0M105.2 469.6h0M120.2 483.6h0M70.3 470.3h0M98.8 475.4h0M105.8 469.2h0M122.5 486.7h0M97.8 473.4h0M120.1 484.2h0M96.4 490.9h0M99.3 482.0h0M107.6 475.5h0M111.1 485.4h0M125.4 468.8h0M125.3 489.6h0M96.8 485.8h0M115.2 483.1h0M110.3 483.4h0M102.6 485.7h0M116.9 490.3h0M127.5 484.7h0M105.5 487.0h0M130.2 473.6h0M87.7 474.1h0M91.2 481.0h0M116.2 483.0h0M99.5 488.9h0M108.6 487.3h0M106.0 470.3h0M89.5 480.5h0M115.7 483.6h0M115.0 486.0h0M89.4 470.6h0M97.3 475.0h0M118.5 474.7h0M129.6 470.8h0M124.3 473.7h0M106.2 492.0h0M101.9 476.3h0M104.5 485.4h0M92.0 475.8h0M106.0 487.9h0M95.7 483.6h0M90.9 475.5h0M102.4 469.3h0M78.3 482.6h0M105.3 490.6h0M112.8 475.6h0M111.0 470.3h0M146.7 480.8h0M126.0 485.8h0M110.3 468.8h0M127.5 486.4h0M104.5 492.0h0M118.4 473.0h0M98.5 467.7h0M106.8 473.6h0M149.5 478.6h0M109.1 479.9h0M106.3 470.4h0M117.6 473.4h0M99.7 491.4h0M120.7 480.1h0M61.6 470.9h0M96.1 475.9h0M92.1 468.5h0M97.1 468.2h0M136.0 471.6h0M65.0 479.3h0M99.1 488.6h0M108.3 476.9h0M113.1 473.2h0M116.8 471.0h0M102.5 469.9h0M95.0 485.1h0M122.6 482.6h0M87.1 486.2h0M78.6 476.6h0M95.7 473.7h0M105.9 482.4h0M135.2 483.9h0M114.4 470.2h0M107.9 473.7h0M106.7 486.2h0M112.7 482.4h0M110.0 478.1h0M100.7 469.8h0M83.4 483.9h0M93.8 490.5h0M117.4 490.6h0M110.3 486.6h0M118.3 472.1h0M73.4 474.9h0M127.9 480.1h0M102.5 473.7h0M108.9 477.2h0M107.4 467.9h0M119.7 488.8h0M110.0 467.8h0M111.9 489.7h0M90.5 484.1h0M109.3 468.3h0M101.5 468.4h0M80.6 486.2h0M88.2 476.7h0M105.5 483.4h0M97.4 473.1h0M116.3 476.2h0M87.1 485.6h0M57.7 473.7h0M99.8 477.3h0M106.4 479.7h0M94.4 474.1h0M94.3 488.8h0M103.2 492.4h0M117.8 489.9h0M71.7 474.0h0M121.3 471.4h0M107.8 483.7h0M101.7 482.6h0M95.8 478.8h0M92.5 469.9h0M100.2 477.8h0M122.5 483.3h0M117.6 475.4h0M111.6 484.1h0M79.5 476.9h0M114.7 476.0h0M111.8 478.3h0M99.8 478.5h0M123.4 473.6h0M94.4 488.8h0M104.0 474.2h0M86.3 476.3h0M110.8 475.4h0M92.3 469.6h0M116.4 471.7h0M106.1 468.3h0M111.4 481.0h0M114.6 470.4h0M109.3 470.9h0M93.6 478.6h0M112.9 470.1h0M86.4 471.9h0M97.8 490.0h0M104.6 490.3h0M86.2 481.2h0M85.2 478.3h0M111.0 476.3h0M115.0 477.9h0M102.1 470.9h0M102.7 472.8h0M94.2 489.5h0M106.7 484.9h0M108.5 470.6h0M72.2 474.3h0M129.1 476.9h0M159.8 470.4h0M101.1 480.9h0M114.2 468.2h0M120.3 470.9h0M111.0 490.8h0M98.7 476.6h0M109.9 471.2h0M125.0 483.6h0M85.3 474.4h0M105.5 487.2h0M64.3 478.8h0M121.9 483.6h0M117.1 468.6h0M73.9 481.1h0M115.2 479.7h0M112.6 475.2h0M87.5 468.4h0M106.8 477.8h0M112.5 471.1h0M100.7 489.8h0M106.2 476.6h0M147.1 477.5h0M110.4 477.8h0M106.2 490.3h0M78.8 470.7h0M87.0 479.5h0M122.4 488.3h0M115.1 469.9h0M121.1 478.7h0M108.4 471.2h0M108.3 491.3h0M107.0 476.0h0M114.7 482.4h0M100.5 479.5h0M106.0 477.5h0M105.3 472.2h0M111.4 469.6h0M94.8 488.0h0M82.7 489.8h0M92.3 484.9h0M123.0 472.8h0M113.8 478.2h0M115.5 481.9h0M104.5 473.2h0M84.7 469.1h0M105.1 477.1h0M123.6 475.4h0M106.3 471.3h0M110.2 485.3h0M102.2 467.8h0M89.9 487.1h0M110.0 491.6h0M105.7 472.3h0M101.1 488.7h0M97.2 484.2h0M112.8 479.4h0M100.0 490.2h0M108.3 482.4h0M97.3 483.7h0M115.6 488.9h0M102.2 477.9h0M105.5 482.0h0M132.2 485.1h0M113.8 481.7h0M114.7 490.6h0M100.9 470.8h0M121.5 481.0h0M102.6 491.1h0M156.8 472.8h0M127.3 488.3h0M111.3 484.2h0M120.8 486.5h0M107.3 488.0h0M114.6 475.4h0M87.4 487.1h0M157.1 472.6h0M118.5 483.8h0M89.1 487.3h0M96.3 477.6h0M108.3 470.8h0M116.2 471.6h0M89.7 480.2h0M140.4 472.6h0M101.1 477.0h0M115.6 472.3h0M105.7 483.9h0M101.8 474.2h0M83.9 478.1h0M110.1 471.9h0M116.8 489.9h0M128.9 479.9h0M101.9 472.2h0M134.2 487.3h0M99.1 484.2h0M134.7 487.1h0M90.3 471.3h0M123.4 489.1h0M113.2 486.0h0M113.1 483.8h0M121.5 488.8h0M107.1 469.6h0M106.3 468.6h0M101.9 470.1h0M123.8 485.5h0M128.0 471.1h0M90.8 484.6h0M116.7 474.9h0M98.1 490.5h0M92.6 491.6h0M93.5 469.4h0M108.2 484.2h0M98.3 472.8h0M96.3 481.9h0M84.2 487.1h0M100.3 488.7h0M116.8 488.9h0M63.7 481.3h0M105.6 487.1h0M109.2 484.5h0M74.9 469.6h0M98.9 475.1h0M128.7 482.9h0M122.4 474.5h0M91.5 479.0h0M116.2 485.3h0M104.7 488.3h0M91.6 481.6h0M105.6 486.6h0M131.3 470.4h0M125.1 474.8h0M102.8 470.4h0M78.2 476.5h0M127.9 483.1h0M154.6 474.6h0M106.4 477.7h0M95.3 471.3h0M107.3 472.3h0M112.8 474.2h0M105.6 475.5h0M101.4 483.7h0M96.6 490.9h0M99.1 476.9h0M75.0 487.6h0M97.0 489.2h0M138.1 485.8h0M50.4 470.1h0M114.3 489.9h0M117.7 468.1h0M103.2 493.1h0M109.0 475.6h0M95.1 471.5h0M111.6 484.9h0M113.4 491.5h0M114.6 490.4h0M105.9 492.3h0M144.3 470.2h0M123.9 470.0h0M108.2 477.1h0M112.2 477.6h0M98.0 487.6h0M135.6 483.8h0M110.7 468.9h0M127.2 479.8h0M98.7 472.8h0M151.3 471.2h0M85.1 485.8h0M106.9 474.2h0M85.7 468.5h0M93.0 468.1h0M116.2 482.6h0M78.8 488.7h0M102.5 491.6h0M93.2 468.0h0M122.4 483.2h0M81.8 471.6h0M100.8 468.7h0M122.9 479.1h0M112.4 471.7h0M113.1 477.3h0M64.8 482.1h0M111.5 470.7h0M115.2 469.8h0M115.4 474.4h0M113.6 477.3h0M80.0 489.1h0M82.0 474.6h0M116.7 471.3h0M109.5 486.9h0M97.4 477.1h0M52.3 468.8h0M107.0 491.2h0M83.0 474.9h0M115.4 476.4h0M100.9 488.8h0M119.0 469.6h0M83.8 487.0h0M105.9 471.5h0M84.3 478.1h0M117.2 472.2h0M107.8 476.8h0M95.9 489.4h0M141.2 481.1h0M112.2 472.3h0M100.7 491.2h0M122.8 478.4h0M102.4 475.1h0M99.1 482.3h0M152.9 467.0h0M78.0 485.5h0M114.6 475.5h0M98.8 485.5h0M103.9 486.7h0M110.4 488.2h0M73.8 478.1h0M95.2 485.2h0M84.9 470.5h0M114.9 473.3h0M95.1 480.1h0M106.1 468.7h0M100.4 476.0h0M96.0 468.9h0M133.7 472.5h0M106.3 475.7h0M110.9 473.3h0M113.2 473.5h0M120.0 470.6h0M97.4 484.1h0M81.1 480.4h0M105.2 469.7h0M91.5 470.0h0M62.9 474.8h0M130.8 485.5h0M110.0 475.9h0M103.6 468.6h0M88.6 476.3h0M116.1 479.0h0M107.0 474.2h0M91.9 470.4h0M151.2 468.3h0M137.4 477.0h0M132.1 479.1h0M120.4 478.5h0M107.0 472.1h0M99.2 491.1h0M111.0 492.4h0M90.0 489.2h0M109.7 481.9h0M78.8 479.7h0M57.4 467.5h0M113.7 471.6h0M101.0 480.2h0M112.9 471.5h0M117.2 482.2h0M121.1 472.8h0M109.7 492.7h0M122.1 479.7h0M111.3 484.1h0M132.1 482.1h0M127.4 480.2h0M73.1 477.7h0M97.7 474.3h0M102.7 472.2h0M96.9 468.7h0M92.1 475.6h0M124.7 484.1h0M65.7 473.7h0M92.4 486.1h0M116.0 483.2h0M95.2 486.6h0M97.2 479.1h0M143.0 483.0h0M116.2 481.3h0M104.6 493.6h0M88.5 484.6h0M97.7 468.4h0M117.9 477.4h0M79.5 473.9h0M113.3 482.0h0M102.3 487.9h0M113.9 478.6h0M99.0 472.2h0M87.9 485.4h0M62.4 477.5h0M99.0 477.4h0M123.3 488.5h0M126.7 478.0h0M112.3 472.3h0M115.3 473.1h0M93.4 475.7h0M101.4 493.0h0M127.7 480.2h0M154.6 471.6h0M104.5 490.2h0M116.9 468.8h0M99.0 472.0h0M111.1 490.7h0M102.7 484.7h0M105.1 467.9h0M105.0 469.3h0M98.2 481.0h0M62.0 471.2h0M116.4 471.2h0M112.8 484.2h0M121.5 485.6h0M90.1 487.9h0M96.0 476.8h0M109.0 478.9h0M134.0 469.4h0M105.3 472.8h0M93.8 469.1h0M108.9 474.1h0M139.4 482.3h0M124.1 487.9h0M127.7 482.0h0M103.4 473.9h0M97.4 488.9h0M124.3 479.9h0M117.7 489.7h0M122.5 474.9h0M102.8 490.9h0M98.6 472.9h0M96.2 477.2h0M124.4 485.6h0M130.7 473.5h0M101.9 479.9h0M124.8 477.5h0M102.4 486.4h0M104.6 482.9h0M108.0 473.2h0M95.1 471.0h0M97.7 471.5h0M97.6 478.4h0M97.3 470.9h0M106.5 490.2h0M117.2 470.0h0M91.9 472.7h0M104.5 483.6h0M110.6 472.9h0M88.7 468.7h0M103.4 489.3h0M107.9 476.7h0M107.5 493.4h0M126.9 475.0h0M117.5 489.3h0M86.9 475.3h0M120.9 489.7h0M107.5 483.1h0M112.0 470.9h0M90.7 484.2h0M105.3 468.5h0M113.0 480.4h0M118.3 486.4h0M118.9 469.2h0M94.8 488.3h0M120.9 476.9h0M108.1 469.2h0M111.7 469.2h0M122.5 477.7h0M103.3 488.1h0M130.8 479.5h0M125.5 482.7h0M119.0 483.3h0M102.4 488.2h0M106.9 492.7h0M91.8 473.7h0M116.0 490.6h0M126.7 477.0h0M90.8 482.7h0M115.2 475.9h0M112.7 477.8h0M70.8 476.5h0M130.3 476.6h0M105.5 478.5h0M97.7 470.8h0M68.2 469.2h0M117.3 483.1h0M100.8 480.8h0M106.5 491.8h0M93.4 474.3h0M109.4 476.6h0M103.0 472.4h0M118.9 488.6h0M111.6 489.1h0M114.0 476.1h0M96.8 474.3h0M125.4 482.5h0M110.7 490.1h0M113.3 488.1h0M109.3 492.3h0M103.7 484.1h0M101.5 474.1h0M105.8 476.6h0M95.2 477.4h0M104.0 481.5h0M106.3 489.0h0M68.7 484.4h0M102.9 469.1h0M98.5 472.4h0M110.3 478.4h0M119.3 476.5h0M109.6 474.1h0M111.5 472.1h0M109.6 486.8h0M97.1 472.6h0M102.3 476.7h0M121.8 483.9h0M136.2 480.5h0M92.4 478.6h0M54.0 467.4h0M123.2 483.7h0M109.4 488.8h0M119.7 487.2h0M108.9 474.5h0M128.5 483.0h0M96.4 484.6h0M104.5 468.1h0M111.7 477.7h0M94.7 488.7h0M113.7 473.0h0M97.4 485.3h0M113.5 480.7h0M118.8 484.0h0M103.9 481.0h0M159.1 471.0h0M110.2 488.7h0M115.8 468.6h0M63.0 477.9h0M86.0 481.2h0M113.5 488.8h0M135.4 483.8h0M110.1 478.1h0M129.7 476.8h0M77.3 473.3h0M126.7 483.6h0M125.1 484.4h0M110.1 477.1h0M104.0 483.0h0M113.2 471.8h0M96.4 492.1h0M111.6 478.9h0M112.7 483.4h0M107.2 488.1h0M97.3 471.0h0M93.4 486.6h0M121.0 472.5h0M94.5 471.3h0M96.6 488.5h0M106.6 491.6h0M108.7 485.0h0M125.0 469.8h0M122.8 475.7h0M125.9 473.2h0M104.7 477.5h0M89.1 491.1h0M138.8 476.5h0M95.5 485.0h0M109.9 490.2h0M97.5 467.9h0M119.7 480.1h0M93.8 477.0h0M103.8 488.4h0M95.0 483.0h0M123.3 475.6h0M109.8 474.1h0M110.2 470.0h0M99.8 486.7h0M92.0 485.9h0M123.0 481.0h0M116.3 483.7h0M114.6 471.9h0M107.8 483.9h0M92.2 482.7h0M109.4 480.2h0M98.6 478.6h0M106.5 484.6h0M105.0 493.6h0M107.9 474.5h0M131.1 485.5h0M119.2 484.9h0M103.6 487.0h0M119.7 478.3h0M123.3 469.8h0M116.8 482.0h0M107.6 481.1h0M105.9 486.3h0M85.2 469.6h0M97.9 469.2h0M111.2 486.1h0M102.4 469.8h0M103.8 493.3h0M103.2 475.0h0M93.2 491.2h0M83.5 481.0h0M74.8 478.5h0M69.6 485.0h0M71.8 484.9h0M72.0 485.7h0M72.8 486.0h0M74.3 487.1h0M75.3 487.6h0M76.2 487.6h0M77.3 487.8h0M78.1 488.1h0M78.4 488.4h0M80.7 488.2h0M81.3 489.4h0M81.7 489.5h0M83.5 489.2h0M84.4 489.9h0M85.4 489.8h0M86.4 489.8h0M87.8 490.7h0M87.8 490.3h0M89.7 490.9h0M91.2 490.9h0M91.4 491.0h0M91.4 491.2h0M93.3 491.9h0M93.9 491.9h0M94.9 491.7h0M96.2 491.8h0M98.0 491.9h0M98.1 492.6h0M99.4 492.5h0M100.8 492.9h0M101.3 493.2h0M102.8 493.1h0M103.3 492.6h0M105.3 493.3h0M105.6 493.7h0M106.3 493.3h0M107.4 493.4h0M108.3 492.5h0M109.4 492.6h0M110.4 492.5h0M110.8 492.1h0M112.6 491.3h0M112.9 491.4h0M114.3 491.0h0M115.5 490.6h0M116.5 490.0h0M117.6 490.5h0M119.0 490.3h0M119.6 490.0h0M121.2 489.9h0M122.2 490.0h0M123.1 489.7h0M123.9 489.9h0M124.8 488.6h0M125.8 489.4h0M126.7 489.3h0M127.9 488.6h0M128.0 488.8h0M129.2 488.6h0M130.9 487.9h0M132.6 488.0h0M132.7 487.2h0M133.6 487.4h0M134.1 487.0h0M135.9 486.3h0M136.8 486.2h0M137.7 485.6h0M138.3 485.4h0M140.6 484.8h0M38.9 478.4h0" stroke="#619CFF" stroke-width="2.5" stroke-linecap="round" fill="none"/>
<path d="M100.5 462.0h0M104.0 462.6h0M104.2 451.6h0M101.7 464.1h0M101.2 450.3h0M96.7 461.8h0M101.6 419.8h0M103.6 428.0h0M99.7 458.3h0M99.0 454.4h0M101.4 440.6h0M100.7 426.5h0M101.4 437.7h0M103.0 462.7h0M102.0 453.5h0M103.9 438.8h0M99.9 454.1h0M97.8 438.9h0M102.8 452.4h0M102.5 456.4h0M100.1 408.7h0M100.6 439.7h0M104.2 434.9h0M100.2 458.6h0M103.6 464.8h0M101.2 428.3h0M103.8 460.5h0M101.9 444.7h0M98.1 457.5h0M94.3 456.2h0M95.6 465.8h0M103.2 452.2h0M104.2 445.9h0M103.8 465.6h0M100.6 434.5h0M102.5 460.0h0M102.6 442.9h0M96.4 450.0h0M100.7 453.8h0M104.1 465.0h0M97.2 456.9h0M97.0 450.4h0M101.1 457.2h0M103.4 462.7h0M103.3 463.9h0M101.5 456.5h0M97.0 460.1h0M101.8 437.2h0M101.5 453.0h0M100.3 461.7h0M93.4 461.6h0M104.1 453.3h0M104.0 460.3h0M100.7 413.6h0M103.9 453.3h0M103.3 464.7h0M101.3 421.3h0M102.8 444.5h0M103.5 447.7h0M98.8 432.9h0M99.0 465.8h0M103.5 440.3h0M104.2 463.9h0M104.2 443.1h0M100.3 429.0h0M97.0 464.4h0M101.6 461.4h0M102.9 441.4h0M98.3 460.1h0M103.8 458.8h0M104.1 445.3h0M102.7 420.0h0M104.0 439.7h0M100.1 460.4h0M99.6 446.0h0M98.6 458.0h0M103.0 466.4h0M103.0 458.8h0M102.0 454.3h0M104.2 462.4h0M95.0 455.7h0M102.8 460.3h0M94.0 462.3h0M101.0 429.2h0M95.2 453.1h0M103.9 456.1h0M97.0 448.3h0M104.1 465.8h0M104.0 465.7h0M96.2 463.3h0M98.1 456.5h0M103.0 436.4h0M103.7 449.6h0M102.0 452.7h0M99.6 441.3h0M101.4 434.4h0M98.9 463.1h0M102.0 448.7h0M100.4 460.8h0M99.0 461.4h0M103.5 448.2h0M100.1 460.3h0M100.9 430.3h0M102.2 462.1h0M100.1 447.5h0M103.0 453.1h0M92.4 465.0h0M96.7 445.0h0M103.4 453.3h0M99.4 428.6h0M94.1 464.8h0M95.3 457.8h0M102.3 443.0h0M103.7 449.5h0M102.1 446.5h0M100.3 464.4h0M104.0 438.4h0M99.8 463.6h0M98.2 463.2h0M99.2 463.7h0M98.5 452.3h0M99.8 420.4h0M103.0 458.0h0M96.7 459.5h0M95.6 464.1h0M100.3 455.4h0M100.4 443.7h0M95.5 461.4h0M96.6 461.4h0M101.6 460.9h0M102.5 462.0h0M97.6 448.4h0M98.8 431.8h0M98.1 446.7h0M100.9 443.2h0M104.2 462.7h0M100.5 429.7h0M100.9 446.8h0M98.3 456.4h0M99.2 455.0h0M99.5 464.7h0M99.7 459.6h0M103.8 458.0h0M103.8 464.9h0M103.6 451.3h0M103.3 418.5h0M103.1 462.3h0M97.8 462.7h0M102.1 460.2h0M101.7 417.4h0M101.8 459.8h0M103.0 447.9h0M94.2 461.7h0M92.2 463.5h0M102.8 420.3h0M104.1 453.1h0M101.9 463.4h0M98.5 440.0h0M94.1 464.9h0M97.1 465.9h0M100.6 455.8h0M99.7 436.8h0M102.4 462.4h0M98.4 455.8h0M93.7 466.3h0M93.6 460.9h0M103.2 462.6h0M100.6 457.3h0M104.2 465.4h0M99.4 451.9h0M103.1 428.9h0M101.9 439.9h0M101.9 456.4h0M101.9 462.3h0M102.2 444.6h0M100.8 464.9h0M101.7 422.2h0M101.3 461.7h0M104.2 453.3h0M96.7 450.5h0M99.2 465.6h0M103.3 456.8h0M104.1 454.4h0M102.9 437.4h0M98.0 449.9h0M102.9 443.9h0M99.1 456.7h0M98.5 449.6h0M104.1 455.8h0M102.2 407.4h0M96.8 464.9h0M98.2 464.1h0M99.8 444.3h0M93.2 465.0h0M99.2 422.3h0M103.0 445.5h0M101.7 427.0h0M99.5 452.4h0M94.7 463.4h0M103.6 442.0h0M103.8 455.8h0M95.0 453.4h0M102.0 454.4h0M103.8 464.4h0M103.8 456.4h0M96.6 457.8h0M104.1 445.3h0M100.4 457.1h0M101.4 428.6h0M99.7 457.6h0M99.8 455.3h0M101.0 466.0h0M103.7 440.0h0M97.4 461.2h0M94.1 465.1h0M95.6 452.5h0M98.6 463.5h0M100.7 418.3h0M103.4 460.2h0M99.4 460.4h0M101.4 465.2h0M101.2 449.7h0M98.1 463.9h0M95.0 458.4h0M104.2 442.6h0M103.5 462.6h0M102.8 441.9h0M93.0 461.5h0M99.8 454.0h0M99.0 433.7h0M100.4 464.9h0M98.3 457.7h0M103.5 461.4h0M103.8 454.8h0M103.2 446.7h0M102.9 456.0h0M103.1 441.8h0M99.1 451.5h0M97.6 462.8h0M104.0 446.6h0M94.3 461.8h0M102.5 465.8h0M104.0 457.4h0M102.6 464.9h0M104.0 441.7h0M99.2 464.2h0M101.5 440.5h0M101.9 451.1h0M95.0 453.5h0M100.1 449.0h0M93.2 461.7h0M103.7 456.1h0M102.4 426.1h0M98.5 463.2h0M100.4 439.4h0M94.2 466.2h0M94.2 464.9h0M95.3 466.5h0M104.2 463.7h0M101.1 444.0h0M96.6 453.9h0M101.1 458.6h0M103.7 430.7h0M94.4 462.1h0M97.1 455.5h0M98.2 448.7h0M99.1 459.6h0M102.0 455.4h0M99.8 451.0h0M94.4 460.4h0M103.8 412.1h0M102.4 446.6h0M102.3 426.1h0M97.1 459.2h0M97.3 462.6h0M104.0 450.6h0M99.3 460.8h0M102.8 455.8h0M94.9 457.3h0M93.7 464.3h0M102.8 445.0h0M103.4 446.5h0M97.0 465.3h0M103.2 456.9h0M103.5 422.8h0M102.6 449.5h0M99.9 419.8h0M93.4 461.7h0M99.1 457.3h0M97.4 463.1h0M100.3 451.7h0M101.8 446.9h0M92.8 466.0h0M98.8 461.7h0M104.1 460.6h0M104.0 461.5h0M94.9 462.6h0M100.7 418.6h0M104.2 457.5h0M103.6 457.9h0M103.1 459.8h0M97.3 464.5h0M103.7 416.0h0M99.9 438.3h0M95.0 454.6h0M104.2 452.4h0M102.3 463.5h0M101.3 442.4h0M104.2 450.9h0M101.0 448.5h0M102.6 434.6h0M102.4 462.2h0M99.2 450.0h0M93.0 463.1h0M102.9 466.3h0M97.2 455.8h0M98.4 459.1h0M102.1 451.6h0M103.8 459.6h0M96.6 464.4h0M97.8 442.5h0M101.3 457.0h0M99.0 424.8h0M92.8 463.8h0M103.8 453.3h0M104.2 455.6h0M100.7 455.7h0M102.7 451.4h0M101.1 433.5h0M99.8 454.7h0M101.3 436.1h0M97.3 446.8h0M95.7 458.9h0M104.2 457.6h0M102.8 442.4h0M101.6 444.5h0M101.7 445.8h0M103.4 450.8h0M97.8 463.1h0M100.4 409.1h0M100.4 443.9h0M97.4 463.5h0M96.6 459.4h0M102.5 456.1h0M104.0 452.1h0M99.6 457.1h0M103.9 415.0h0M103.7 440.8h0M101.4 456.9h0M100.6 452.6h0M103.4 460.5h0M103.0 454.7h0M97.6 455.6h0M98.8 451.7h0M95.6 459.8h0M92.2 464.1h0M99.2 464.4h0M101.9 457.9h0M104.1 462.1h0M102.8 442.8h0M100.0 440.1h0M104.0 454.6h0M103.3 420.2h0M99.4 448.5h0M98.6 453.1h0M97.4 453.8h0M97.1 448.9h0M102.2 450.5h0M99.9 459.2h0M99.5 464.3h0M100.2 443.9h0M104.2 434.9h0M99.4 427.4h0M96.2 452.4h0M101.8 462.8h0M97.6 464.1h0M95.3 455.8h0M96.2 463.5h0M103.2 460.4h0M101.0 452.0h0M101.5 465.7h0M97.2 452.3h0M99.2 461.2h0M93.1 465.0h0M91.5 466.2h0M96.3 464.0h0M101.0 454.8h0M103.3 461.5h0M103.9 464.3h0M98.6 460.1h0M100.2 455.9h0M99.0 429.7h0M102.8 462.2h0M95.0 454.9h0M97.3 463.4h0M99.5 451.6h0M99.8 441.7h0M95.5 454.7h0M103.2 429.0h0M97.8 462.1h0M101.9 415.0h0M102.5 452.8h0M102.8 456.8h0M97.5 450.0h0M103.6 446.4h0M93.7 465.4h0M99.0 453.6h0M94.6 458.2h0M93.5 463.9h0M95.8 453.1h0M104.0 462.0h0M103.7 450.4h0M99.3 444.8h0M99.7 462.7h0M94.1 464.0h0M98.3 456.2h0M104.1 411.9h0M104.0 449.8h0M96.7 454.5h0M93.4 465.9h0M102.9 450.8h0M102.6 442.1h0M102.3 460.1h0M102.0 445.9h0M99.8 456.0h0M104.2 441.8h0M95.5 452.3h0M101.1 461.6h0M102.5 442.5h0M96.9 453.6h0M98.8 459.1h0M98.2 459.9h0M99.4 441.8h0M93.7 462.6h0M98.4 443.3h0M99.2 454.3h0M99.4 460.3h0M103.6 451.5h0M98.6 436.0h0M100.2 464.6h0M101.8 454.4h0M99.8 463.7h0M95.6 454.9h0M98.6 449.1h0M96.6 452.1h0M104.0 449.6h0M93.8 463.4h0M98.5 432.4h0M99.1 462.3h0M103.6 411.0h0M102.4 440.3h0M97.8 453.8h0M104.0 448.3h0M95.1 464.0h0M104.0 424.2h0M100.1 463.8h0M94.1 460.8h0M93.3 462.6h0M102.0 430.1h0M98.2 459.1h0M101.4 450.5h0M104.1 464.1h0M97.1 452.6h0M103.9 457.8h0M100.7 433.5h0M102.4 449.4h0M104.2 422.6h0M102.9 462.1h0M99.4 463.6h0M93.6 465.8h0M99.7 440.9h0M100.3 461.9h0M97.7 452.1h0M98.7 464.8h0M103.9 454.6h0M98.9 456.3h0M102.5 445.2h0M100.3 439.2h0M101.3 456.2h0M100.3 439.2h0M100.3 455.3h0M103.8 432.6h0M96.2 460.3h0M100.9 463.5h0M103.8 444.5h0M103.0 459.5h0M96.9 456.4h0M99.1 444.7h0M99.6 463.2h0M103.8 464.6h0M104.1 463.2h0M103.5 458.5h0M101.5 455.2h0M98.2 453.8h0M96.8 456.1h0M101.8 430.7h0M101.7 461.3h0M102.1 454.3h0M100.3 455.9h0M93.7 462.5h0M102.5 445.9h0M101.5 440.7h0M95.5 461.7h0M97.0 444.6h0M96.6 446.8h0M103.6 439.6h0M99.9 438.3h0M103.6 457.6h0M95.8 464.1h0M104.2 460.9h0M94.4 457.0h0M97.4 455.0h0M101.0 449.2h0M97.3 459.8h0M103.4 454.6h0M100.5 449.0h0M103.8 459.6h0M103.6 465.8h0M94.3 457.9h0M103.5 464.2h0M102.7 455.8h0M93.9 463.9h0M101.4 458.1h0M99.3 443.1h0M101.0 443.6h0M104.0 465.6h0M100.6 455.4h0M103.6 458.4h0M102.6 461.3h0M102.7 445.6h0M101.5 452.9h0M102.2 432.8h0M93.3 463.8h0M96.1 458.4h0M92.7 462.6h0M101.9 460.2h0M104.0 440.4h0M103.3 463.9h0M101.0 451.8h0M104.1 459.0h0M104.1 466.4h0M99.4 455.7h0M94.4 462.5h0M100.6 446.5h0M103.4 464.9h0M97.9 441.3h0M98.5 453.0h0M104.1 433.0h0M101.0 457.7h0M99.3 463.3h0M94.9 455.0h0M102.3 464.9h0M103.0 464.9h0M102.5 449.1h0M95.9 460.5h0M100.6 453.8h0M99.6 454.6h0M97.5 457.2h0M89.5 463.8h0M78.9 465.8h0M91.0 465.6h0M100.6 453.3h0M88.6 466.0h0M98.1 450.4h0M85.9 463.4h0M99.1 447.8h0M87.7 458.2h0M97.7 452.0h0M93.1 459.0h0M78.6 465.3h0M82.1 465.7h0M89.0 457.8h0M84.5 462.0h0M99.7 451.7h0M93.9 447.8h0M94.0 444.9h0M86.9 457.4h0M78.7 464.5h0M89.7 453.4h0M92.1 459.0h0M94.5 450.7h0M96.9 460.0h0M95.1 465.9h0M97.8 463.9h0M93.2 453.7h0M96.5 463.1h0M102.6 454.4h0M82.8 463.6h0M90.6 464.0h0M101.8 431.7h0M79.7 466.1h0M94.5 463.0h0M102.0 453.3h0M88.2 464.1h0M100.2 442.3h0M100.5 464.8h0M89.9 460.4h0M91.1 456.8h0M97.6 438.5h0M93.8 454.8h0M93.4 451.6h0M101.9 435.3h0M100.5 459.2h0M81.4 462.8h0M89.4 462.7h0M88.6 465.3h0M86.2 465.9h0M89.2 459.8h0M87.2 465.5h0M87.2 460.2h0M94.9 462.3h0M79.7 463.3h0M95.3 448.5h0M80.9 465.3h0M91.9 457.3h0M84.1 463.1h0M100.0 466.0h0M97.9 462.8h0M101.4 453.8h0M87.9 465.4h0M80.5 465.9h0M94.9 463.8h0M78.6 464.1h0M97.4 462.5h0M83.3 463.9h0M99.8 459.7h0M93.7 465.9h0M83.2 464.7h0M84.5 463.5h0M90.4 465.8h0M102.6 465.7h0M79.9 465.9h0M83.4 465.7h0M84.0 462.7h0M97.8 454.7h0M92.7 463.1h0M77.2 465.8h0M98.2 455.9h0M92.2 461.7h0M81.0 462.7h0M87.5 463.6h0M78.6 464.4h0M85.3 465.0h0M88.6 464.3h0M95.8 445.5h0M76.8 465.1h0M98.0 441.1h0M91.7 463.9h0M96.2 456.3h0M92.2 464.8h0M100.2 464.6h0M89.7 463.9h0M98.9 461.0h0M88.7 462.3h0M101.6 443.8h0M96.2 463.1h0M94.7 457.9h0M91.7 459.3h0M93.5 454.4h0M89.4 457.0h0M86.4 461.1h0M98.3 457.2h0M101.7 450.1h0M89.9 463.4h0M61.7 463.4h0M86.6 466.0h0M60.7 457.9h0M55.9 460.9h0M56.2 442.6h0M44.7 455.6h0M67.4 463.6h0M78.0 466.2h0M65.8 447.5h0M89.5 463.2h0M62.5 463.4h0M89.2 465.8h0M91.0 466.2h0M67.1 461.0h0M76.6 455.8h0M88.7 458.4h0M53.9 463.7h0M81.7 460.9h0M90.4 458.4h0M74.1 466.2h0M88.0 466.3h0M70.0 458.5h0M88.9 463.4h0M87.1 463.1h0M82.4 463.5h0M70.1 463.4h0M83.6 460.8h0M72.8 463.5h0M77.2 465.7h0M63.3 463.3h0M85.7 463.4h0M87.2 466.2h0M68.8 460.8h0M57.9 453.0h0M72.4 465.9h0M89.1 465.9h0M80.4 455.5h0M84.5 460.8h0M74.4 465.9h0M80.8 463.3h0M50.0 458.2h0M43.3 463.4h0M67.3 465.8h0M90.6 450.1h0M64.7 463.3h0M67.7 455.5h0M78.5 463.5h0M73.1 463.5h0M82.3 465.8h0M79.9 460.9h0M77.0 460.5h0M84.7 463.2h0M87.8 463.7h0M87.7 465.9h0M88.0 466.3h0M89.6 463.6h0M64.6 466.1h0M84.3 465.8h0M88.7 466.3h0M78.3 463.3h0M55.5 463.3h0M89.9 460.6h0M47.8 463.6h0M78.2 460.7h0M71.7 463.2h0M65.1 452.9h0M88.0 463.2h0M82.6 463.4h0M86.6 460.8h0M88.1 465.9h0M80.1 458.2h0M94.3 319.6h0M95.8 325.4h0M92.8 358.3h0M98.7 368.4h0M94.9 371.9h0M98.7 385.6h0M79.7 392.7h0M97.8 386.5h0M99.8 385.4h0M99.2 393.6h0M96.2 400.7h0M98.8 400.0h0M96.9 402.6h0M98.8 405.9h0M96.6 410.8h0M99.2 409.1h0M93.0 416.0h0M95.6 414.9h0M73.6 432.2h0M82.2 436.8h0M86.3 435.8h0M43.6 442.3h0M40.8 449.3h0M44.0 457.6h0M45.5 460.0h0M47.0 462.5h0M48.9 465.2h0M48.9 452.7h0M51.0 456.0h0M53.5 459.5h0M56.0 462.5h0M57.9 465.2h0" stroke="#00BA38" stroke-width="2.5" stroke-linecap="round" fill="none"/>
<path d="M115.4 461.2h0M111.7 460.0h0M108.6 462.5h0M111.9 430.7h0M113.2 462.3h0M111.4 460.0h0M108.1 450.9h0M109.9 454.7h0M108.9 462.3h0M109.2 457.3h0M108.0 447.0h0M107.9 440.5h0M109.9 463.8h0M107.9 456.8h0M117.4 464.9h0M108.1 459.7h0M110.3 451.4h0M113.6 465.3h0M109.2 455.5h0M112.4 458.9h0M113.9 455.9h0M112.7 451.3h0M108.6 438.0h0M108.3 422.2h0M111.5 463.9h0M108.4 461.4h0M116.2 459.6h0M111.1 466.3h0M111.8 463.3h0M110.6 453.1h0M114.0 466.3h0M109.9 424.7h0M115.0 457.2h0M116.1 463.3h0M110.6 458.3h0M110.0 458.1h0M113.8 443.6h0M109.2 457.0h0M113.8 449.2h0M108.3 419.2h0M109.9 434.6h0M114.8 456.3h0M107.9 463.1h0M109.6 432.1h0M116.1 463.3h0M113.2 462.1h0M108.7 453.6h0M110.1 432.3h0M112.0 465.7h0M117.6 466.2h0M109.8 453.4h0M112.9 449.8h0M108.7 445.8h0M115.6 464.4h0M109.4 447.4h0M109.9 451.9h0M115.1 456.1h0M113.6 462.6h0M108.1 446.5h0M108.6 465.7h0M112.2 457.8h0M110.0 456.6h0M113.4 461.9h0M113.3 455.4h0M108.1 413.7h0M108.2 463.2h0M115.4 455.6h0M112.8 437.4h0M114.2 460.3h0M108.1 450.0h0M108.4 464.1h0M111.2 444.7h0M108.9 436.3h0M108.8 442.1h0M113.0 462.4h0M117.1 462.7h0M109.2 463.6h0M112.1 432.6h0M110.1 466.0h0M108.0 447.6h0M113.0 452.5h0M108.2 425.8h0M109.3 459.8h0M108.4 459.4h0M108.2 437.3h0M111.3 439.2h0M110.4 430.8h0M111.1 455.1h0M110.4 458.9h0M110.8 451.5h0M111.2 455.0h0M111.2 458.3h0M107.9 440.0h0M111.5 455.5h0M109.6 439.2h0M110.1 439.3h0M108.9 453.0h0M113.5 445.5h0M108.6 444.3h0M111.3 460.6h0M107.9 455.2h0M110.0 443.8h0M109.9 416.9h0M113.9 466.2h0M108.7 444.5h0M110.6 465.9h0M110.8 457.1h0M108.6 466.0h0M110.8 448.5h0M110.0 452.9h0M113.0 450.9h0M108.1 465.9h0M110.5 457.0h0M115.9 459.2h0M108.4 462.3h0M108.4 456.4h0M110.5 461.6h0M112.6 459.6h0M112.3 457.0h0M112.2 462.9h0M110.5 406.1h0M110.0 430.3h0M110.2 463.0h0M108.4 458.5h0M108.7 409.4h0M108.8 409.9h0M109.4 462.9h0M114.3 449.2h0M111.4 436.8h0M108.1 457.5h0M111.6 454.7h0M109.1 444.9h0M109.1 437.7h0M108.7 465.8h0M111.0 456.4h0M110.5 422.4h0M113.6 461.9h0M108.0 457.2h0M112.8 456.3h0M115.6 464.5h0M112.4 441.4h0M117.4 463.9h0M111.5 454.1h0M108.6 417.9h0M116.1 465.7h0M115.3 455.8h0M111.8 458.2h0M108.0 458.4h0M110.0 456.8h0M108.8 462.4h0M111.1 439.1h0M113.7 453.0h0M113.6 442.0h0M109.0 445.8h0M108.2 463.0h0M109.5 457.9h0M113.6 459.4h0M116.0 465.1h0M111.6 466.3h0M108.0 461.1h0M108.2 466.1h0M109.1 459.1h0M109.8 412.1h0M108.1 464.2h0M108.1 412.8h0M111.1 455.6h0M108.1 449.1h0M107.9 452.6h0M112.6 454.9h0M111.3 460.3h0M112.7 455.5h0M108.7 464.0h0M116.1 459.4h0M110.5 463.0h0M110.1 462.2h0M115.3 460.2h0M114.8 463.9h0M108.1 438.5h0M110.4 405.7h0M111.0 465.1h0M110.5 465.8h0M110.0 455.5h0M109.5 465.3h0M113.1 464.1h0M110.6 418.4h0M112.1 430.6h0M109.3 452.0h0M114.0 464.3h0M108.4 444.3h0M109.3 453.6h0M109.8 449.8h0M108.2 466.4h0M114.6 463.6h0M110.9 465.8h0M109.6 453.0h0M110.6 465.3h0M109.8 428.6h0M114.5 461.5h0M110.1 446.7h0M107.9 461.3h0M110.4 465.6h0M115.9 458.5h0M109.0 440.4h0M108.7 464.4h0M111.3 461.5h0M108.3 418.1h0M111.3 436.8h0M108.1 457.4h0M111.5 429.3h0M115.2 453.8h0M114.6 456.4h0M113.1 465.5h0M109.7 454.7h0M108.1 432.0h0M109.5 458.1h0M110.5 407.3h0M108.4 464.4h0M108.8 466.1h0M114.6 457.1h0M110.0 453.1h0M110.7 443.2h0M107.9 445.3h0M111.5 455.1h0M116.4 463.1h0M117.4 465.7h0M108.8 459.3h0M112.5 459.8h0M110.4 451.3h0M111.5 421.6h0M109.2 439.2h0M107.9 440.4h0M109.8 457.7h0M115.5 465.2h0M108.2 432.5h0M107.9 461.6h0M109.7 422.7h0M110.1 454.9h0M112.9 459.0h0M108.5 446.9h0M111.1 421.3h0M114.1 458.6h0M112.5 450.2h0M114.7 460.1h0M111.9 439.6h0M109.0 465.8h0M111.3 465.2h0M112.2 465.7h0M112.5 428.1h0M113.7 465.4h0M115.2 461.4h0M108.3 466.1h0M107.9 464.1h0M108.6 442.5h0M115.4 456.7h0M111.0 461.4h0M113.2 445.4h0M107.9 460.7h0M113.9 463.7h0M115.9 465.7h0M112.7 450.7h0M112.0 458.9h0M109.5 428.6h0M111.4 440.9h0M109.7 463.0h0M109.9 446.8h0M113.9 461.6h0M110.9 418.9h0M109.8 456.4h0M113.9 455.1h0M113.3 460.9h0M111.9 451.1h0M112.1 452.8h0M107.9 460.9h0M114.8 456.9h0M113.0 462.0h0M111.1 464.7h0M112.3 452.6h0M108.2 457.4h0M113.0 445.8h0M113.2 450.3h0M108.3 425.0h0M109.2 433.3h0M108.6 464.3h0M110.8 439.8h0M108.3 462.9h0M109.1 441.4h0M112.2 456.3h0M115.4 459.8h0M112.4 445.6h0M110.2 453.8h0M109.1 459.2h0M115.0 465.5h0M111.6 430.0h0M109.7 466.1h0M116.6 465.4h0M112.0 464.7h0M108.7 453.5h0M111.7 413.4h0M108.4 456.6h0M110.2 442.2h0M110.6 436.3h0M111.4 433.0h0M113.6 459.4h0M116.3 460.5h0M107.9 463.4h0M109.0 448.7h0M111.6 453.1h0M111.7 440.6h0M115.1 463.3h0M109.1 439.2h0M108.9 441.0h0M111.1 464.0h0M109.4 458.2h0M109.7 463.2h0M112.3 463.8h0M109.3 466.2h0M113.4 461.6h0M108.2 456.8h0M110.7 461.4h0M109.2 446.5h0M112.0 462.4h0M117.6 466.2h0M115.8 461.5h0M110.7 418.7h0M114.4 454.3h0M110.2 455.6h0M108.7 463.6h0M113.6 442.4h0M112.9 455.9h0M110.7 454.6h0M111.6 459.5h0M114.2 464.3h0M109.9 436.2h0M115.6 456.6h0M113.9 464.1h0M109.7 455.4h0M107.9 410.7h0M113.3 466.3h0M111.6 442.4h0M112.4 466.3h0M113.3 462.0h0M109.8 457.7h0M109.9 466.4h0M109.9 461.7h0M112.1 454.5h0M115.6 464.4h0M109.9 446.7h0M115.3 459.4h0M115.7 457.6h0M117.4 466.4h0M116.4 465.6h0M115.8 465.4h0M110.4 420.6h0M110.4 463.0h0M108.5 465.1h0M108.8 420.0h0M108.7 465.8h0M108.8 462.7h0M115.0 457.3h0M112.5 450.7h0M113.3 462.1h0M114.7 449.3h0M110.5 434.9h0M108.3 452.4h0M111.5 440.3h0M109.1 435.2h0M108.5 466.1h0M109.7 461.7h0M108.1 423.3h0M110.1 444.6h0M109.2 461.4h0M110.0 459.4h0M109.0 464.0h0M109.6 439.0h0M112.0 448.1h0M116.7 464.9h0M108.8 461.6h0M109.4 465.3h0M113.0 464.9h0M107.9 462.8h0M112.6 452.6h0M113.8 445.6h0M108.6 453.4h0M115.5 457.1h0M111.5 463.6h0M116.5 465.8h0M115.0 464.6h0M113.1 465.1h0M112.7 450.4h0M111.3 463.3h0M108.4 462.3h0M108.5 460.8h0M111.5 457.6h0M110.9 458.7h0M109.1 466.1h0M112.9 458.6h0M114.2 446.3h0M111.7 430.8h0M113.9 461.1h0M114.2 454.7h0M116.2 458.6h0M115.1 465.9h0M112.8 447.3h0M115.5 465.1h0M111.3 445.4h0M108.2 440.2h0M110.1 436.6h0M112.8 460.3h0M111.2 457.5h0M107.9 455.4h0M112.1 450.5h0M108.2 459.1h0M111.1 429.0h0M108.2 459.6h0M113.9 459.5h0M111.9 436.3h0M124.5 463.4h0M135.2 465.9h0M124.5 463.3h0M127.1 463.3h0M151.7 463.3h0M123.9 452.9h0M119.4 455.8h0M118.0 461.1h0M153.0 463.4h0M122.7 465.7h0M117.0 460.9h0M123.8 460.6h0M134.4 445.5h0M126.1 455.4h0M117.8 466.0h0M117.5 465.8h0M165.9 463.4h0M154.2 465.9h0M120.7 463.3h0M117.5 463.4h0M119.3 463.3h0M131.0 455.7h0M135.0 460.6h0M161.6 450.4h0M137.4 466.2h0M140.1 458.5h0M120.8 455.7h0M125.2 460.6h0M132.0 466.1h0M131.2 447.8h0M131.0 447.6h0M145.0 463.4h0M119.6 463.2h0M125.9 460.9h0M126.8 465.8h0M127.6 466.1h0M114.7 278.9h0M111.2 302.2h0M110.9 349.2h0M112.3 377.2h0M114.0 378.5h0M115.2 380.6h0M115.6 381.6h0M111.7 398.1h0M112.8 400.7h0M111.1 407.2h0M115.6 410.0h0M113.0 414.3h0M126.6 419.5h0M146.8 433.9h0M177.0 441.3h0M120.1 444.9h0M142.4 454.4h0M152.9 456.7h0M164.7 455.9h0M167.9 457.0h0M161.0 460.0h0M157.0 462.8h0M150.0 463.5h0M168.5 459.5h0M166.0 462.0h0M140.0 465.0h0" stroke="#F8766D" stroke-width="2.5" stroke-linecap="round" fill="none"/>
<line x1="32.00" y1="467.10" x2="184.10" y2="467.10" stroke="#9A9A9A" stroke-width="0.6" stroke-dasharray="3,2.5,1,2.5"/>
<line x1="106.10" y1="269.60" x2="106.10" y2="501.80" stroke="#9A9A9A" stroke-width="0.6" stroke-dasharray="3,2.5,1,2.5"/>
<line x1="31.90" y1="268.30" x2="31.90" y2="502.10" stroke="#3a3a3a" stroke-width="0.8" />
<line x1="31.90" y1="502.10" x2="184.10" y2="502.10" stroke="#3a3a3a" stroke-width="0.8" />
<line x1="29.50" y1="467.58" x2="31.90" y2="467.58" stroke="#3a3a3a" stroke-width="0.6" />
<text x="29.30" y="469.08" font-size="4.2" text-anchor="end" fill="#4D4D4D" stroke="#4D4D4D" stroke-width="0.16" font-family="Liberation Sans, sans-serif" >1.301</text>
<line x1="29.50" y1="397.00" x2="31.90" y2="397.00" stroke="#3a3a3a" stroke-width="0.6" />
<text x="29.30" y="398.50" font-size="4.2" text-anchor="end" fill="#4D4D4D" stroke="#4D4D4D" stroke-width="0.16" font-family="Liberation Sans, sans-serif" >5</text>
<line x1="29.50" y1="301.60" x2="31.90" y2="301.60" stroke="#3a3a3a" stroke-width="0.6" />
<text x="29.30" y="303.10" font-size="4.2" text-anchor="end" fill="#4D4D4D" stroke="#4D4D4D" stroke-width="0.16" font-family="Liberation Sans, sans-serif" >10</text>
<line x1="38.60" y1="502.10" x2="38.60" y2="504.40" stroke="#3a3a3a" stroke-width="0.6" />
<text x="38.60" y="508.60" font-size="4.5" text-anchor="middle" fill="#4D4D4D" stroke="#4D4D4D" stroke-width="0.16" font-family="Liberation Sans, sans-serif" >-5</text>
<line x1="79.10" y1="502.10" x2="79.10" y2="504.40" stroke="#3a3a3a" stroke-width="0.6" />
<text x="79.10" y="508.60" font-size="4.5" text-anchor="middle" fill="#4D4D4D" stroke="#4D4D4D" stroke-width="0.16" font-family="Liberation Sans, sans-serif" >-2</text>
<line x1="106.10" y1="502.10" x2="106.10" y2="504.40" stroke="#3a3a3a" stroke-width="0.6" />
<text x="106.10" y="508.60" font-size="4.5" text-anchor="middle" fill="#4D4D4D" stroke="#4D4D4D" stroke-width="0.16" font-family="Liberation Sans, sans-serif" >0</text>
<line x1="146.60" y1="502.10" x2="146.60" y2="504.40" stroke="#3a3a3a" stroke-width="0.6" />
<text x="146.60" y="508.60" font-size="4.5" text-anchor="middle" fill="#4D4D4D" stroke="#4D4D4D" stroke-width="0.16" font-family="Liberation Sans, sans-serif" >3</text>
<line x1="173.60" y1="502.10" x2="173.60" y2="504.40" stroke="#3a3a3a" stroke-width="0.6" />
<text x="173.60" y="508.60" font-size="4.5" text-anchor="middle" fill="#4D4D4D" stroke="#4D4D4D" stroke-width="0.16" font-family="Liberation Sans, sans-serif" >5</text>
<text x="107.90" y="264.00" font-size="6.0" text-anchor="middle" fill="#111" stroke="#111" stroke-width="0.12" font-family="Liberation Sans, sans-serif" >MTvsCont</text>
<text transform="translate(16.6,384.7) rotate(-90)" font-size="5.8" text-anchor="middle" fill="#222" stroke="#222" stroke-width="0.12" font-family="Liberation Sans, sans-serif">-log10(pvalue)</text>
<text x="107.60" y="514.70" font-size="5.0" text-anchor="middle" fill="#222" stroke="#222" stroke-width="0.27" font-family="Liberation Sans, sans-serif" >log2FoldChange</text>
<text x="191.30" y="369.30" font-size="5.0" text-anchor="start" fill="#222" stroke="#222" stroke-width="0.27" font-family="Liberation Sans, sans-serif" >pvalue&lt;0.05</text>
<text x="191.30" y="375.40" font-size="5.0" text-anchor="start" fill="#222" stroke="#222" stroke-width="0.27" font-family="Liberation Sans, sans-serif" >|log2FoldChange|&gt;0</text>
<rect x="191.6" y="379.4" width="7.6" height="26.6" fill="#F2F2F2"/>
<circle cx="195.4" cy="383.6" r="1.2" fill="#F8766D"/>
<text x="201.30" y="385.10" font-size="4.2" text-anchor="start" fill="#222" stroke="#222" stroke-width="0.2" font-family="Liberation Sans, sans-serif" >UP 779</text>
<circle cx="195.4" cy="392.5" r="1.2" fill="#00BA38"/>
<text x="201.30" y="394.00" font-size="4.2" text-anchor="start" fill="#222" stroke="#222" stroke-width="0.2" font-family="Liberation Sans, sans-serif" >DOWN 924</text>
<circle cx="195.4" cy="401.7" r="1.2" fill="#619CFF"/>
<text x="201.30" y="403.20" font-size="4.2" text-anchor="start" fill="#222" stroke="#222" stroke-width="0.2" font-family="Liberation Sans, sans-serif" >NO 15664</text>
<text transform="translate(244.8,259.3) scale(0.88,1)" font-size="16.5" fill="#111" stroke="#111" stroke-width="0.35" font-family="Liberation Serif, serif">(D)</text>
<rect x="274.90" y="284.50" width="36.80" height="1.40" fill="#D71212"/>
<rect x="274.90" y="285.30" width="36.80" height="1.40" fill="#D31212"/>
<rect x="274.90" y="286.10" width="36.80" height="2.00" fill="#A61212"/>
<rect x="274.90" y="287.50" width="36.80" height="1.10" fill="#9F1212"/>
<rect x="274.90" y="288.00" width="36.80" height="2.00" fill="#C61212"/>
<rect x="274.90" y="289.40" width="36.80" height="1.20" fill="#E11212"/>
<rect x="274.90" y="290.00" width="36.80" height="2.60" fill="#BD1212"/>
<rect x="274.90" y="292.00" width="36.80" height="2.00" fill="#B51212"/>
<rect x="274.90" y="293.40" width="36.80" height="1.90" fill="#B41212"/>
<rect x="274.90" y="294.70" width="36.80" height="2.00" fill="#581212"/>
<rect x="274.90" y="296.10" width="36.80" height="1.70" fill="#6C1212"/>
<rect x="274.90" y="297.20" width="36.80" height="1.40" fill="#5B1212"/>
<rect x="274.90" y="298.00" width="36.80" height="2.40" fill="#A71212"/>
<rect x="274.90" y="299.80" width="36.80" height="2.80" fill="#7F1212"/>
<rect x="274.90" y="302.00" width="36.80" height="1.40" fill="#8A1212"/>
<rect x="274.90" y="302.80" width="36.80" height="1.40" fill="#731212"/>
<rect x="274.90" y="303.60" width="36.80" height="2.40" fill="#701212"/>
<rect x="274.90" y="305.40" width="36.80" height="1.20" fill="#771212"/>
<rect x="274.90" y="306.00" width="36.80" height="2.00" fill="#301212"/>
<rect x="274.90" y="307.40" width="36.80" height="2.50" fill="#411212"/>
<rect x="274.90" y="309.30" width="36.80" height="2.40" fill="#731212"/>
<rect x="274.90" y="311.10" width="36.80" height="2.10" fill="#681212"/>
<rect x="274.90" y="312.60" width="36.80" height="2.40" fill="#CF1212"/>
<rect x="274.90" y="314.40" width="36.80" height="2.40" fill="#AF1212"/>
<rect x="274.90" y="316.20" width="36.80" height="2.40" fill="#D91212"/>
<rect x="274.90" y="318.00" width="36.80" height="1.90" fill="#B21212"/>
<rect x="274.90" y="319.30" width="36.80" height="2.40" fill="#A91212"/>
<rect x="274.90" y="321.10" width="36.80" height="1.40" fill="#A61212"/>
<rect x="274.90" y="321.90" width="36.80" height="1.70" fill="#7D1212"/>
<rect x="274.90" y="323.00" width="36.80" height="1.60" fill="#8E1212"/>
<rect x="274.90" y="324.00" width="36.80" height="2.00" fill="#4D1212"/>
<rect x="274.90" y="325.40" width="36.80" height="1.80" fill="#701212"/>
<rect x="274.90" y="326.60" width="36.80" height="1.70" fill="#831212"/>
<rect x="274.90" y="327.70" width="36.80" height="1.40" fill="#B91212"/>
<rect x="274.90" y="328.50" width="36.80" height="2.40" fill="#A51212"/>
<rect x="274.90" y="330.30" width="36.80" height="2.00" fill="#A01212"/>
<rect x="274.90" y="331.70" width="36.80" height="1.40" fill="#741212"/>
<rect x="274.90" y="332.50" width="36.80" height="1.40" fill="#A51212"/>
<rect x="274.90" y="333.30" width="36.80" height="2.40" fill="#7A1212"/>
<rect x="274.90" y="335.10" width="36.80" height="1.70" fill="#B91212"/>
<rect x="274.90" y="336.20" width="36.80" height="1.70" fill="#C61212"/>
<rect x="274.90" y="337.30" width="36.80" height="1.40" fill="#A11212"/>
<rect x="274.90" y="338.10" width="36.80" height="1.70" fill="#B91212"/>
<rect x="274.90" y="339.20" width="36.80" height="1.40" fill="#941212"/>
<rect x="274.90" y="340.00" width="36.80" height="1.40" fill="#891212"/>
<rect x="274.90" y="340.80" width="36.80" height="2.00" fill="#971212"/>
<rect x="274.90" y="342.20" width="36.80" height="1.70" fill="#A51212"/>
<rect x="274.90" y="343.30" width="36.80" height="2.30" fill="#9A1212"/>
<rect x="274.90" y="345.00" width="36.80" height="2.00" fill="#841212"/>
<rect x="274.90" y="346.40" width="36.80" height="1.40" fill="#911212"/>
<rect x="274.90" y="347.20" width="36.80" height="2.40" fill="#571212"/>
<rect x="274.90" y="349.00" width="36.80" height="1.70" fill="#5C1212"/>
<rect x="274.90" y="350.10" width="36.80" height="1.40" fill="#4E1212"/>
<rect x="274.90" y="350.90" width="36.80" height="1.40" fill="#421212"/>
<rect x="274.90" y="351.70" width="36.80" height="1.70" fill="#6D1212"/>
<rect x="274.90" y="352.80" width="36.80" height="2.40" fill="#991212"/>
<rect x="274.90" y="354.60" width="36.80" height="1.70" fill="#651212"/>
<rect x="274.90" y="355.70" width="36.80" height="1.70" fill="#8E1212"/>
<rect x="274.90" y="356.80" width="36.80" height="1.40" fill="#9C1212"/>
<rect x="274.90" y="357.60" width="36.80" height="1.40" fill="#BC1212"/>
<rect x="274.90" y="358.40" width="36.80" height="1.80" fill="#681212"/>
<rect x="274.90" y="359.60" width="36.80" height="2.40" fill="#3F1212"/>
<rect x="274.90" y="361.40" width="36.80" height="1.40" fill="#581212"/>
<rect x="274.90" y="362.20" width="36.80" height="2.00" fill="#4B1212"/>
<rect x="274.90" y="363.60" width="36.80" height="2.00" fill="#491212"/>
<rect x="274.90" y="365.00" width="36.80" height="2.40" fill="#451212"/>
<rect x="274.90" y="366.80" width="36.80" height="1.40" fill="#3D1212"/>
<rect x="274.90" y="367.60" width="36.80" height="1.40" fill="#C51212"/>
<rect x="274.90" y="368.40" width="36.80" height="2.00" fill="#B61212"/>
<rect x="274.90" y="369.80" width="36.80" height="2.40" fill="#B21212"/>
<rect x="274.90" y="371.60" width="36.80" height="1.40" fill="#A91212"/>
<rect x="274.90" y="372.40" width="36.80" height="1.80" fill="#DE1212"/>
<rect x="274.90" y="373.60" width="36.80" height="1.40" fill="#621212"/>
<rect x="274.90" y="374.40" width="36.80" height="1.40" fill="#9F1212"/>
<rect x="274.90" y="375.20" width="36.80" height="1.70" fill="#B01212"/>
<rect x="274.90" y="376.30" width="36.80" height="1.40" fill="#C51212"/>
<rect x="274.90" y="377.10" width="36.80" height="1.40" fill="#931212"/>
<rect x="274.90" y="377.90" width="36.80" height="1.40" fill="#EE1212"/>
<rect x="274.90" y="378.70" width="36.80" height="1.40" fill="#A71212"/>
<rect x="274.90" y="379.50" width="36.80" height="2.00" fill="#AD1212"/>
<rect x="274.90" y="380.90" width="36.80" height="2.00" fill="#A71212"/>
<rect x="274.90" y="382.30" width="36.80" height="1.40" fill="#851212"/>
<rect x="274.90" y="383.10" width="36.80" height="1.40" fill="#901212"/>
<rect x="274.90" y="383.90" width="36.80" height="1.70" fill="#A61212"/>
<rect x="274.90" y="385.00" width="36.80" height="1.40" fill="#C41212"/>
<rect x="274.90" y="385.80" width="36.80" height="1.40" fill="#9D1212"/>
<rect x="274.90" y="386.60" width="36.80" height="1.40" fill="#6C1212"/>
<rect x="274.90" y="387.40" width="36.80" height="2.20" fill="#801212"/>
<rect x="274.90" y="389.00" width="36.80" height="2.40" fill="#A61212"/>
<rect x="274.90" y="390.80" width="36.80" height="2.00" fill="#CB1212"/>
<rect x="274.90" y="392.20" width="36.80" height="1.70" fill="#E21212"/>
<rect x="274.90" y="393.30" width="36.80" height="2.00" fill="#D21212"/>
<rect x="274.90" y="394.70" width="36.80" height="1.50" fill="#B51212"/>
<rect x="274.90" y="395.60" width="36.80" height="2.00" fill="#1E2319"/>
<rect x="274.90" y="397.00" width="36.80" height="1.20" fill="#1E2419"/>
<rect x="274.90" y="397.60" width="36.80" height="1.40" fill="#501212"/>
<rect x="274.90" y="398.40" width="36.80" height="1.80" fill="#621212"/>
<rect x="274.90" y="399.60" width="36.80" height="2.40" fill="#B61212"/>
<rect x="274.90" y="401.40" width="36.80" height="1.40" fill="#751212"/>
<rect x="274.90" y="402.20" width="36.80" height="2.40" fill="#AC1212"/>
<rect x="274.90" y="404.00" width="36.80" height="1.40" fill="#CF1212"/>
<rect x="274.90" y="404.80" width="36.80" height="1.80" fill="#C01212"/>
<rect x="274.90" y="406.00" width="36.80" height="2.00" fill="#831212"/>
<rect x="274.90" y="407.40" width="36.80" height="1.20" fill="#C91212"/>
<rect x="274.90" y="408.00" width="36.80" height="2.40" fill="#FF1212"/>
<rect x="274.90" y="409.80" width="36.80" height="2.00" fill="#FF1212"/>
<rect x="274.90" y="411.20" width="36.80" height="1.70" fill="#E51212"/>
<rect x="274.90" y="412.30" width="36.80" height="1.60" fill="#E71212"/>
<rect x="274.90" y="413.30" width="36.80" height="2.00" fill="#B91212"/>
<rect x="274.90" y="414.70" width="36.80" height="2.00" fill="#AF1212"/>
<rect x="274.90" y="416.10" width="36.80" height="1.20" fill="#7E1212"/>
<rect x="274.90" y="416.70" width="36.80" height="1.70" fill="#164416"/>
<rect x="274.90" y="417.80" width="36.80" height="1.40" fill="#164716"/>
<rect x="274.90" y="418.60" width="36.80" height="2.00" fill="#1E2419"/>
<rect x="274.90" y="420.00" width="36.80" height="1.20" fill="#1E2D19"/>
<rect x="274.90" y="420.60" width="36.80" height="2.40" fill="#167316"/>
<rect x="274.90" y="422.40" width="36.80" height="2.00" fill="#166F16"/>
<rect x="274.90" y="423.80" width="36.80" height="2.10" fill="#166516"/>
<rect x="274.90" y="425.30" width="36.80" height="1.70" fill="#164916"/>
<rect x="274.90" y="426.40" width="36.80" height="1.50" fill="#165516"/>
<rect x="274.90" y="427.30" width="36.80" height="2.00" fill="#163616"/>
<rect x="274.90" y="428.70" width="36.80" height="2.50" fill="#162616"/>
<rect x="274.90" y="430.60" width="36.80" height="2.00" fill="#165716"/>
<rect x="274.90" y="432.00" width="36.80" height="2.00" fill="#165716"/>
<rect x="274.90" y="433.40" width="36.80" height="1.20" fill="#165A16"/>
<rect x="274.90" y="434.00" width="36.80" height="2.00" fill="#192914"/>
<rect x="274.90" y="435.40" width="36.80" height="1.20" fill="#192014"/>
<rect x="274.90" y="436.00" width="36.80" height="2.40" fill="#165E16"/>
<rect x="274.90" y="437.80" width="36.80" height="2.10" fill="#166E16"/>
<rect x="274.90" y="439.30" width="36.80" height="1.70" fill="#167016"/>
<rect x="274.90" y="440.40" width="36.80" height="2.00" fill="#166616"/>
<rect x="274.90" y="441.80" width="36.80" height="2.40" fill="#16B616"/>
<rect x="274.90" y="443.60" width="36.80" height="2.00" fill="#169716"/>
<rect x="274.90" y="445.00" width="36.80" height="1.60" fill="#169816"/>
<rect x="274.90" y="446.00" width="36.80" height="1.70" fill="#16B216"/>
<rect x="274.90" y="447.10" width="36.80" height="2.40" fill="#16C616"/>
<rect x="274.90" y="448.90" width="36.80" height="1.40" fill="#16B116"/>
<rect x="274.90" y="449.70" width="36.80" height="2.20" fill="#16C516"/>
<rect x="274.90" y="451.30" width="36.80" height="2.40" fill="#167416"/>
<rect x="274.90" y="453.10" width="36.80" height="2.00" fill="#166B16"/>
<rect x="274.90" y="454.50" width="36.80" height="1.40" fill="#165C16"/>
<rect x="274.90" y="455.30" width="36.80" height="1.40" fill="#165A16"/>
<rect x="274.90" y="456.10" width="36.80" height="1.80" fill="#164116"/>
<rect x="274.90" y="457.30" width="36.80" height="1.40" fill="#167F16"/>
<rect x="274.90" y="458.10" width="36.80" height="2.40" fill="#168B16"/>
<rect x="274.90" y="459.90" width="36.80" height="1.40" fill="#166D16"/>
<rect x="274.90" y="460.70" width="36.80" height="2.40" fill="#166E16"/>
<rect x="274.90" y="462.50" width="36.80" height="2.00" fill="#167516"/>
<rect x="274.90" y="463.90" width="36.80" height="1.70" fill="#164816"/>
<rect x="274.90" y="465.00" width="36.80" height="1.70" fill="#167B16"/>
<rect x="274.90" y="466.10" width="36.80" height="1.50" fill="#166916"/>
<rect x="274.90" y="467.00" width="36.80" height="1.70" fill="#164316"/>
<rect x="274.90" y="468.10" width="36.80" height="1.50" fill="#164B16"/>
<rect x="274.90" y="469.00" width="36.80" height="2.40" fill="#16B616"/>
<rect x="274.90" y="470.80" width="36.80" height="1.40" fill="#169F16"/>
<rect x="274.90" y="471.60" width="36.80" height="1.70" fill="#16BD16"/>
<rect x="274.90" y="472.70" width="36.80" height="2.00" fill="#166B16"/>
<rect x="274.90" y="474.10" width="36.80" height="1.40" fill="#16A416"/>
<rect x="274.90" y="474.90" width="36.80" height="2.40" fill="#169416"/>
<rect x="274.90" y="476.70" width="36.80" height="1.50" fill="#16A816"/>
<rect x="274.90" y="477.60" width="36.80" height="2.00" fill="#166E16"/>
<rect x="274.90" y="479.00" width="36.80" height="1.40" fill="#166116"/>
<rect x="274.90" y="479.80" width="36.80" height="2.00" fill="#167D16"/>
<rect x="274.90" y="481.20" width="36.80" height="2.40" fill="#167A16"/>
<rect x="274.90" y="483.00" width="36.80" height="2.40" fill="#16F516"/>
<rect x="274.90" y="484.80" width="36.80" height="2.00" fill="#16B016"/>
<rect x="274.90" y="486.20" width="36.80" height="1.70" fill="#16DC16"/>
<rect x="274.90" y="487.30" width="36.80" height="2.30" fill="#16D516"/>
<rect x="274.90" y="489.00" width="36.80" height="1.40" fill="#169516"/>
<rect x="274.90" y="489.80" width="36.80" height="2.40" fill="#16B416"/>
<rect x="274.90" y="491.60" width="36.80" height="2.40" fill="#16B516"/>
<rect x="274.90" y="493.40" width="36.80" height="1.40" fill="#168F16"/>
<rect x="274.90" y="494.20" width="36.80" height="1.40" fill="#16C216"/>
<rect x="274.90" y="495.00" width="36.80" height="1.90" fill="#16AA16"/>
<rect x="274.90" y="496.30" width="36.80" height="2.00" fill="#2C1E19"/>
<rect x="274.90" y="497.70" width="36.80" height="1.70" fill="#1B1E19"/>
<rect x="274.90" y="498.80" width="36.80" height="2.10" fill="#221E19"/>
<rect x="274.90" y="500.30" width="36.80" height="2.00" fill="#164716"/>
<rect x="274.90" y="501.70" width="36.80" height="2.00" fill="#165F16"/>
<rect x="274.90" y="503.10" width="36.80" height="1.80" fill="#164816"/>
<rect x="274.90" y="504.30" width="36.80" height="1.70" fill="#167816"/>
<rect x="274.90" y="505.40" width="36.80" height="1.40" fill="#165716"/>
<rect x="274.90" y="506.20" width="36.80" height="2.00" fill="#168716"/>
<rect x="274.90" y="507.60" width="36.80" height="1.70" fill="#169016"/>
<rect x="274.90" y="508.70" width="36.80" height="1.50" fill="#168216"/>
<rect x="274.90" y="509.60" width="36.80" height="1.70" fill="#165616"/>
<rect x="274.90" y="510.70" width="36.80" height="1.70" fill="#166016"/>
<rect x="274.90" y="511.80" width="36.80" height="1.70" fill="#165216"/>
<rect x="274.90" y="512.90" width="36.80" height="1.30" fill="#165716"/>
<rect x="274.90" y="513.60" width="36.80" height="2.40" fill="#167216"/>
<rect x="274.90" y="515.40" width="36.80" height="2.80" fill="#16B016"/>
<rect x="274.90" y="517.60" width="36.80" height="2.40" fill="#165F16"/>
<rect x="274.90" y="519.40" width="36.80" height="2.00" fill="#165F16"/>
<rect x="274.90" y="520.80" width="36.80" height="1.40" fill="#165216"/>
<rect x="274.90" y="521.60" width="36.80" height="1.40" fill="#168D16"/>
<rect x="274.90" y="522.40" width="36.80" height="2.40" fill="#16A716"/>
<rect x="274.90" y="524.20" width="36.80" height="2.00" fill="#16C416"/>
<rect x="274.90" y="525.60" width="36.80" height="1.70" fill="#167616"/>
<rect x="274.90" y="526.70" width="36.80" height="1.40" fill="#167D16"/>
<rect x="274.90" y="527.50" width="36.80" height="1.30" fill="#167916"/>
<rect x="311.10" y="284.50" width="36.80" height="2.00" fill="#781212"/>
<rect x="311.10" y="285.90" width="36.80" height="1.40" fill="#A01212"/>
<rect x="311.10" y="286.70" width="36.80" height="1.90" fill="#751212"/>
<rect x="311.10" y="288.00" width="36.80" height="2.60" fill="#7E1212"/>
<rect x="311.10" y="290.00" width="36.80" height="1.40" fill="#AF1212"/>
<rect x="311.10" y="290.80" width="36.80" height="1.80" fill="#751212"/>
<rect x="311.10" y="292.00" width="36.80" height="1.40" fill="#6B1212"/>
<rect x="311.10" y="292.80" width="36.80" height="1.80" fill="#631212"/>
<rect x="311.10" y="294.00" width="36.80" height="1.70" fill="#9C1212"/>
<rect x="311.10" y="295.10" width="36.80" height="1.70" fill="#9A1212"/>
<rect x="311.10" y="296.20" width="36.80" height="2.00" fill="#FF1212"/>
<rect x="311.10" y="297.60" width="36.80" height="1.60" fill="#981212"/>
<rect x="311.10" y="298.60" width="36.80" height="1.70" fill="#811212"/>
<rect x="311.10" y="299.70" width="36.80" height="1.50" fill="#811212"/>
<rect x="311.10" y="300.60" width="36.80" height="1.70" fill="#511212"/>
<rect x="311.10" y="301.70" width="36.80" height="1.70" fill="#451212"/>
<rect x="311.10" y="302.80" width="36.80" height="2.40" fill="#731212"/>
<rect x="311.10" y="304.60" width="36.80" height="2.00" fill="#611212"/>
<rect x="311.10" y="306.00" width="36.80" height="1.20" fill="#4E1212"/>
<rect x="311.10" y="306.60" width="36.80" height="1.70" fill="#8C1212"/>
<rect x="311.10" y="307.70" width="36.80" height="1.40" fill="#A01212"/>
<rect x="311.10" y="308.50" width="36.80" height="1.40" fill="#DB1212"/>
<rect x="311.10" y="309.30" width="36.80" height="1.70" fill="#BD1212"/>
<rect x="311.10" y="310.40" width="36.80" height="2.20" fill="#AA1212"/>
<rect x="311.10" y="312.00" width="36.80" height="2.00" fill="#2A1212"/>
<rect x="311.10" y="313.40" width="36.80" height="1.20" fill="#301212"/>
<rect x="311.10" y="314.00" width="36.80" height="2.40" fill="#5E1212"/>
<rect x="311.10" y="315.80" width="36.80" height="1.70" fill="#791212"/>
<rect x="311.10" y="316.90" width="36.80" height="2.30" fill="#621212"/>
<rect x="311.10" y="318.60" width="36.80" height="2.00" fill="#671212"/>
<rect x="311.10" y="320.00" width="36.80" height="1.40" fill="#6B1212"/>
<rect x="311.10" y="320.80" width="36.80" height="2.00" fill="#3F1212"/>
<rect x="311.10" y="322.20" width="36.80" height="1.40" fill="#831212"/>
<rect x="311.10" y="323.00" width="36.80" height="1.60" fill="#731212"/>
<rect x="311.10" y="324.00" width="36.80" height="1.70" fill="#551212"/>
<rect x="311.10" y="325.10" width="36.80" height="2.40" fill="#551212"/>
<rect x="311.10" y="326.90" width="36.80" height="1.70" fill="#4C1212"/>
<rect x="311.10" y="328.00" width="36.80" height="1.40" fill="#771212"/>
<rect x="311.10" y="328.80" width="36.80" height="2.40" fill="#901212"/>
<rect x="311.10" y="330.60" width="36.80" height="1.40" fill="#881212"/>
<rect x="311.10" y="331.40" width="36.80" height="1.20" fill="#441212"/>
<rect x="311.10" y="332.00" width="36.80" height="1.70" fill="#521212"/>
<rect x="311.10" y="333.10" width="36.80" height="2.40" fill="#571212"/>
<rect x="311.10" y="334.90" width="36.80" height="1.70" fill="#491212"/>
<rect x="311.10" y="336.00" width="36.80" height="1.90" fill="#371212"/>
<rect x="311.10" y="337.30" width="36.80" height="1.40" fill="#601212"/>
<rect x="311.10" y="338.10" width="36.80" height="2.00" fill="#5F1212"/>
<rect x="311.10" y="339.50" width="36.80" height="1.70" fill="#611212"/>
<rect x="311.10" y="340.60" width="36.80" height="2.00" fill="#5E1212"/>
<rect x="311.10" y="342.00" width="36.80" height="2.40" fill="#591212"/>
<rect x="311.10" y="343.80" width="36.80" height="1.80" fill="#611212"/>
<rect x="311.10" y="345.00" width="36.80" height="2.00" fill="#481212"/>
<rect x="311.10" y="346.40" width="36.80" height="1.90" fill="#671212"/>
<rect x="311.10" y="347.70" width="36.80" height="1.40" fill="#A71212"/>
<rect x="311.10" y="348.50" width="36.80" height="1.40" fill="#B51212"/>
<rect x="311.10" y="349.30" width="36.80" height="2.00" fill="#991212"/>
<rect x="311.10" y="350.70" width="36.80" height="1.60" fill="#AD1212"/>
<rect x="311.10" y="351.70" width="36.80" height="1.70" fill="#9C1212"/>
<rect x="311.10" y="352.80" width="36.80" height="1.40" fill="#751212"/>
<rect x="311.10" y="353.60" width="36.80" height="2.00" fill="#861212"/>
<rect x="311.10" y="355.00" width="36.80" height="1.40" fill="#BE1212"/>
<rect x="311.10" y="355.80" width="36.80" height="1.70" fill="#591212"/>
<rect x="311.10" y="356.90" width="36.80" height="1.70" fill="#881212"/>
<rect x="311.10" y="358.00" width="36.80" height="1.70" fill="#A11212"/>
<rect x="311.10" y="359.10" width="36.80" height="2.40" fill="#9F1212"/>
<rect x="311.10" y="360.90" width="36.80" height="2.00" fill="#BD1212"/>
<rect x="311.10" y="362.30" width="36.80" height="1.70" fill="#C61212"/>
<rect x="311.10" y="363.40" width="36.80" height="2.40" fill="#C41212"/>
<rect x="311.10" y="365.20" width="36.80" height="1.40" fill="#CA1212"/>
<rect x="311.10" y="366.00" width="36.80" height="1.40" fill="#B21212"/>
<rect x="311.10" y="366.80" width="36.80" height="1.40" fill="#B71212"/>
<rect x="311.10" y="367.60" width="36.80" height="2.40" fill="#731212"/>
<rect x="311.10" y="369.40" width="36.80" height="2.00" fill="#771212"/>
<rect x="311.10" y="370.80" width="36.80" height="1.40" fill="#6D1212"/>
<rect x="311.10" y="371.60" width="36.80" height="1.70" fill="#691212"/>
<rect x="311.10" y="372.70" width="36.80" height="2.40" fill="#6D1212"/>
<rect x="311.10" y="374.50" width="36.80" height="2.40" fill="#581212"/>
<rect x="311.10" y="376.30" width="36.80" height="1.40" fill="#371212"/>
<rect x="311.10" y="377.10" width="36.80" height="1.70" fill="#451212"/>
<rect x="311.10" y="378.20" width="36.80" height="2.00" fill="#3D1212"/>
<rect x="311.10" y="379.60" width="36.80" height="2.40" fill="#631212"/>
<rect x="311.10" y="381.40" width="36.80" height="1.70" fill="#4B1212"/>
<rect x="311.10" y="382.50" width="36.80" height="2.40" fill="#4F1212"/>
<rect x="311.10" y="384.30" width="36.80" height="2.60" fill="#4E1212"/>
<rect x="311.10" y="386.30" width="36.80" height="2.40" fill="#311212"/>
<rect x="311.10" y="388.10" width="36.80" height="1.50" fill="#231212"/>
<rect x="311.10" y="389.00" width="36.80" height="1.70" fill="#961212"/>
<rect x="311.10" y="390.10" width="36.80" height="1.70" fill="#521212"/>
<rect x="311.10" y="391.20" width="36.80" height="1.70" fill="#611212"/>
<rect x="311.10" y="392.30" width="36.80" height="2.40" fill="#641212"/>
<rect x="311.10" y="394.10" width="36.80" height="2.10" fill="#521212"/>
<rect x="311.10" y="395.60" width="36.80" height="2.60" fill="#491212"/>
<rect x="311.10" y="397.60" width="36.80" height="1.40" fill="#A51212"/>
<rect x="311.10" y="398.40" width="36.80" height="2.00" fill="#B51212"/>
<rect x="311.10" y="399.80" width="36.80" height="1.40" fill="#B21212"/>
<rect x="311.10" y="400.60" width="36.80" height="1.40" fill="#DC1212"/>
<rect x="311.10" y="401.40" width="36.80" height="1.50" fill="#AF1212"/>
<rect x="311.10" y="402.30" width="36.80" height="1.70" fill="#851212"/>
<rect x="311.10" y="403.40" width="36.80" height="1.70" fill="#9F1212"/>
<rect x="311.10" y="404.50" width="36.80" height="2.10" fill="#771212"/>
<rect x="311.10" y="406.00" width="36.80" height="1.70" fill="#351914"/>
<rect x="311.10" y="407.10" width="36.80" height="2.20" fill="#2E1914"/>
<rect x="311.10" y="408.70" width="36.80" height="1.40" fill="#471212"/>
<rect x="311.10" y="409.50" width="36.80" height="1.40" fill="#4D1212"/>
<rect x="311.10" y="410.30" width="36.80" height="1.40" fill="#3A1212"/>
<rect x="311.10" y="411.10" width="36.80" height="1.40" fill="#411212"/>
<rect x="311.10" y="411.90" width="36.80" height="2.00" fill="#3B1212"/>
<rect x="311.10" y="413.30" width="36.80" height="1.70" fill="#491212"/>
<rect x="311.10" y="414.40" width="36.80" height="1.70" fill="#651212"/>
<rect x="311.10" y="415.50" width="36.80" height="1.80" fill="#5C1212"/>
<rect x="311.10" y="416.70" width="36.80" height="1.70" fill="#164416"/>
<rect x="311.10" y="417.80" width="36.80" height="2.00" fill="#168616"/>
<rect x="311.10" y="419.20" width="36.80" height="2.00" fill="#166916"/>
<rect x="311.10" y="420.60" width="36.80" height="1.40" fill="#166416"/>
<rect x="311.10" y="421.40" width="36.80" height="2.00" fill="#164216"/>
<rect x="311.10" y="422.80" width="36.80" height="1.10" fill="#166816"/>
<rect x="311.10" y="423.30" width="36.80" height="1.70" fill="#164816"/>
<rect x="311.10" y="424.40" width="36.80" height="2.20" fill="#164516"/>
<rect x="311.10" y="426.00" width="36.80" height="2.00" fill="#168C16"/>
<rect x="311.10" y="427.40" width="36.80" height="1.40" fill="#16C116"/>
<rect x="311.10" y="428.20" width="36.80" height="1.40" fill="#169516"/>
<rect x="311.10" y="429.00" width="36.80" height="2.00" fill="#16DE16"/>
<rect x="311.10" y="430.40" width="36.80" height="2.40" fill="#167A16"/>
<rect x="311.10" y="432.20" width="36.80" height="2.40" fill="#16BA16"/>
<rect x="311.10" y="434.00" width="36.80" height="2.00" fill="#168916"/>
<rect x="311.10" y="435.40" width="36.80" height="2.00" fill="#166816"/>
<rect x="311.10" y="436.80" width="36.80" height="1.10" fill="#167116"/>
<rect x="311.10" y="437.30" width="36.80" height="1.70" fill="#163F16"/>
<rect x="311.10" y="438.40" width="36.80" height="2.20" fill="#163816"/>
<rect x="311.10" y="440.00" width="36.80" height="2.60" fill="#241E14"/>
<rect x="311.10" y="442.00" width="36.80" height="2.00" fill="#164A16"/>
<rect x="311.10" y="443.40" width="36.80" height="2.40" fill="#163E16"/>
<rect x="311.10" y="445.20" width="36.80" height="2.40" fill="#165916"/>
<rect x="311.10" y="447.00" width="36.80" height="2.40" fill="#164B16"/>
<rect x="311.10" y="448.80" width="36.80" height="1.80" fill="#164116"/>
<rect x="311.10" y="450.00" width="36.80" height="2.00" fill="#162916"/>
<rect x="311.10" y="451.40" width="36.80" height="1.20" fill="#163516"/>
<rect x="311.10" y="452.00" width="36.80" height="2.00" fill="#169316"/>
<rect x="311.10" y="453.40" width="36.80" height="2.50" fill="#169D16"/>
<rect x="311.10" y="455.30" width="36.80" height="2.40" fill="#167C16"/>
<rect x="311.10" y="457.10" width="36.80" height="1.40" fill="#168116"/>
<rect x="311.10" y="457.90" width="36.80" height="2.00" fill="#166816"/>
<rect x="311.10" y="459.30" width="36.80" height="1.70" fill="#167616"/>
<rect x="311.10" y="460.40" width="36.80" height="2.40" fill="#166D16"/>
<rect x="311.10" y="462.20" width="36.80" height="1.70" fill="#165616"/>
<rect x="311.10" y="463.30" width="36.80" height="1.70" fill="#168816"/>
<rect x="311.10" y="464.40" width="36.80" height="1.40" fill="#166A16"/>
<rect x="311.10" y="465.20" width="36.80" height="2.40" fill="#165416"/>
<rect x="311.10" y="467.00" width="36.80" height="2.00" fill="#167916"/>
<rect x="311.10" y="468.40" width="36.80" height="2.00" fill="#167616"/>
<rect x="311.10" y="469.80" width="36.80" height="1.80" fill="#164916"/>
<rect x="311.10" y="471.00" width="36.80" height="1.70" fill="#167016"/>
<rect x="311.10" y="472.10" width="36.80" height="2.00" fill="#166D16"/>
<rect x="311.10" y="473.50" width="36.80" height="2.10" fill="#169A16"/>
<rect x="311.10" y="475.00" width="36.80" height="1.40" fill="#165916"/>
<rect x="311.10" y="475.80" width="36.80" height="1.70" fill="#166116"/>
<rect x="311.10" y="476.90" width="36.80" height="2.00" fill="#164C16"/>
<rect x="311.10" y="478.30" width="36.80" height="1.40" fill="#164C16"/>
<rect x="311.10" y="479.10" width="36.80" height="1.80" fill="#165F16"/>
<rect x="311.10" y="480.30" width="36.80" height="1.40" fill="#1E2B19"/>
<rect x="311.10" y="481.10" width="36.80" height="1.70" fill="#1E1E19"/>
<rect x="311.10" y="482.20" width="36.80" height="1.70" fill="#1E2419"/>
<rect x="311.10" y="483.30" width="36.80" height="1.70" fill="#1E1E19"/>
<rect x="311.10" y="484.40" width="36.80" height="2.40" fill="#1E2419"/>
<rect x="311.10" y="486.20" width="36.80" height="1.40" fill="#1E2F19"/>
<rect x="311.10" y="487.00" width="36.80" height="2.00" fill="#169916"/>
<rect x="311.10" y="488.40" width="36.80" height="2.00" fill="#167D16"/>
<rect x="311.10" y="489.80" width="36.80" height="2.40" fill="#169916"/>
<rect x="311.10" y="491.60" width="36.80" height="2.00" fill="#168916"/>
<rect x="311.10" y="493.00" width="36.80" height="1.20" fill="#169F16"/>
<rect x="311.10" y="493.60" width="36.80" height="2.00" fill="#164716"/>
<rect x="311.10" y="495.00" width="36.80" height="1.90" fill="#164F16"/>
<rect x="311.10" y="496.30" width="36.80" height="2.40" fill="#16D816"/>
<rect x="311.10" y="498.10" width="36.80" height="1.40" fill="#16CD16"/>
<rect x="311.10" y="498.90" width="36.80" height="1.40" fill="#169116"/>
<rect x="311.10" y="499.70" width="36.80" height="1.20" fill="#16AA16"/>
<rect x="311.10" y="500.30" width="36.80" height="1.40" fill="#166D16"/>
<rect x="311.10" y="501.10" width="36.80" height="2.00" fill="#166416"/>
<rect x="311.10" y="502.50" width="36.80" height="1.70" fill="#166D16"/>
<rect x="311.10" y="503.60" width="36.80" height="1.40" fill="#167E16"/>
<rect x="311.10" y="504.40" width="36.80" height="1.40" fill="#168716"/>
<rect x="311.10" y="505.20" width="36.80" height="1.40" fill="#16A716"/>
<rect x="311.10" y="506.00" width="36.80" height="2.40" fill="#169E16"/>
<rect x="311.10" y="507.80" width="36.80" height="1.40" fill="#168816"/>
<rect x="311.10" y="508.60" width="36.80" height="1.60" fill="#167C16"/>
<rect x="311.10" y="509.60" width="36.80" height="1.40" fill="#164216"/>
<rect x="311.10" y="510.40" width="36.80" height="2.50" fill="#164016"/>
<rect x="311.10" y="512.30" width="36.80" height="1.70" fill="#16D016"/>
<rect x="311.10" y="513.40" width="36.80" height="1.40" fill="#166F16"/>
<rect x="311.10" y="514.20" width="36.80" height="1.70" fill="#16C016"/>
<rect x="311.10" y="515.30" width="36.80" height="2.40" fill="#169316"/>
<rect x="311.10" y="517.10" width="36.80" height="1.40" fill="#16C616"/>
<rect x="311.10" y="517.90" width="36.80" height="2.00" fill="#16B116"/>
<rect x="311.10" y="519.30" width="36.80" height="1.60" fill="#167916"/>
<rect x="311.10" y="520.30" width="36.80" height="2.40" fill="#1E1B19"/>
<rect x="311.10" y="522.10" width="36.80" height="1.50" fill="#1E1619"/>
<rect x="311.10" y="523.00" width="36.80" height="2.00" fill="#16B416"/>
<rect x="311.10" y="524.40" width="36.80" height="2.00" fill="#167416"/>
<rect x="311.10" y="525.80" width="36.80" height="1.70" fill="#168416"/>
<rect x="311.10" y="526.90" width="36.80" height="1.40" fill="#167A16"/>
<rect x="311.10" y="527.70" width="36.80" height="1.10" fill="#16A616"/>
<rect x="347.30" y="284.50" width="36.80" height="1.70" fill="#1E1F19"/>
<rect x="347.30" y="285.60" width="36.80" height="1.40" fill="#1E2A19"/>
<rect x="347.30" y="286.40" width="36.80" height="1.40" fill="#1E1E19"/>
<rect x="347.30" y="287.20" width="36.80" height="2.00" fill="#1E3519"/>
<rect x="347.30" y="288.60" width="36.80" height="2.00" fill="#1E2119"/>
<rect x="347.30" y="290.00" width="36.80" height="1.40" fill="#461212"/>
<rect x="347.30" y="290.80" width="36.80" height="1.40" fill="#441212"/>
<rect x="347.30" y="291.60" width="36.80" height="2.30" fill="#481212"/>
<rect x="347.30" y="293.30" width="36.80" height="2.00" fill="#741212"/>
<rect x="347.30" y="294.70" width="36.80" height="1.20" fill="#861212"/>
<rect x="347.30" y="295.30" width="36.80" height="1.40" fill="#951212"/>
<rect x="347.30" y="296.10" width="36.80" height="2.00" fill="#5F1212"/>
<rect x="347.30" y="297.50" width="36.80" height="2.00" fill="#9A1212"/>
<rect x="347.30" y="298.90" width="36.80" height="1.40" fill="#851212"/>
<rect x="347.30" y="299.70" width="36.80" height="1.50" fill="#6A1212"/>
<rect x="347.30" y="300.60" width="36.80" height="1.40" fill="#2E1212"/>
<rect x="347.30" y="301.40" width="36.80" height="1.80" fill="#4C1212"/>
<rect x="347.30" y="302.60" width="36.80" height="1.40" fill="#611212"/>
<rect x="347.30" y="303.40" width="36.80" height="1.70" fill="#601212"/>
<rect x="347.30" y="304.50" width="36.80" height="2.10" fill="#4B1212"/>
<rect x="347.30" y="306.00" width="36.80" height="2.40" fill="#771212"/>
<rect x="347.30" y="307.80" width="36.80" height="2.80" fill="#821212"/>
<rect x="347.30" y="310.00" width="36.80" height="1.90" fill="#561212"/>
<rect x="347.30" y="311.30" width="36.80" height="1.70" fill="#B61212"/>
<rect x="347.30" y="312.40" width="36.80" height="2.20" fill="#A31212"/>
<rect x="347.30" y="314.00" width="36.80" height="1.40" fill="#3A1212"/>
<rect x="347.30" y="314.80" width="36.80" height="2.40" fill="#351212"/>
<rect x="347.30" y="316.60" width="36.80" height="1.70" fill="#3F1212"/>
<rect x="347.30" y="317.70" width="36.80" height="1.50" fill="#531212"/>
<rect x="347.30" y="318.60" width="36.80" height="2.40" fill="#541212"/>
<rect x="347.30" y="320.40" width="36.80" height="2.00" fill="#631212"/>
<rect x="347.30" y="321.80" width="36.80" height="1.70" fill="#381212"/>
<rect x="347.30" y="322.90" width="36.80" height="1.70" fill="#3F1212"/>
<rect x="347.30" y="324.00" width="36.80" height="2.40" fill="#861212"/>
<rect x="347.30" y="325.80" width="36.80" height="1.70" fill="#651212"/>
<rect x="347.30" y="326.90" width="36.80" height="1.70" fill="#5B1212"/>
<rect x="347.30" y="328.00" width="36.80" height="1.90" fill="#371212"/>
<rect x="347.30" y="329.30" width="36.80" height="2.00" fill="#981212"/>
<rect x="347.30" y="330.70" width="36.80" height="1.90" fill="#861212"/>
<rect x="347.30" y="332.00" width="36.80" height="2.40" fill="#651212"/>
<rect x="347.30" y="333.80" width="36.80" height="2.00" fill="#3E1212"/>
<rect x="347.30" y="335.20" width="36.80" height="1.40" fill="#691212"/>
<rect x="347.30" y="336.00" width="36.80" height="1.90" fill="#491212"/>
<rect x="347.30" y="337.30" width="36.80" height="1.70" fill="#441212"/>
<rect x="347.30" y="338.40" width="36.80" height="1.40" fill="#301212"/>
<rect x="347.30" y="339.20" width="36.80" height="1.40" fill="#2F1212"/>
<rect x="347.30" y="340.00" width="36.80" height="1.40" fill="#441212"/>
<rect x="347.30" y="340.80" width="36.80" height="2.00" fill="#371212"/>
<rect x="347.30" y="342.20" width="36.80" height="2.00" fill="#321212"/>
<rect x="347.30" y="343.60" width="36.80" height="2.00" fill="#281212"/>
<rect x="347.30" y="345.00" width="36.80" height="1.70" fill="#721212"/>
<rect x="347.30" y="346.10" width="36.80" height="2.40" fill="#851212"/>
<rect x="347.30" y="347.90" width="36.80" height="1.70" fill="#5E1212"/>
<rect x="347.30" y="349.00" width="36.80" height="1.70" fill="#711212"/>
<rect x="347.30" y="350.10" width="36.80" height="2.20" fill="#601212"/>
<rect x="347.30" y="351.70" width="36.80" height="2.00" fill="#4C1212"/>
<rect x="347.30" y="353.10" width="36.80" height="2.00" fill="#3A1212"/>
<rect x="347.30" y="354.50" width="36.80" height="1.70" fill="#3C1212"/>
<rect x="347.30" y="355.60" width="36.80" height="2.40" fill="#341212"/>
<rect x="347.30" y="357.40" width="36.80" height="1.40" fill="#4B1212"/>
<rect x="347.30" y="358.20" width="36.80" height="2.40" fill="#3F1212"/>
<rect x="347.30" y="360.00" width="36.80" height="1.60" fill="#3F1212"/>
<rect x="347.30" y="361.00" width="36.80" height="1.70" fill="#8A1212"/>
<rect x="347.30" y="362.10" width="36.80" height="1.50" fill="#A01212"/>
<rect x="347.30" y="363.00" width="36.80" height="2.40" fill="#541212"/>
<rect x="347.30" y="364.80" width="36.80" height="2.00" fill="#7E1212"/>
<rect x="347.30" y="366.20" width="36.80" height="2.70" fill="#601212"/>
<rect x="347.30" y="368.30" width="36.80" height="1.40" fill="#351212"/>
<rect x="347.30" y="369.10" width="36.80" height="2.00" fill="#281212"/>
<rect x="347.30" y="370.50" width="36.80" height="1.10" fill="#2C1212"/>
<rect x="347.30" y="371.00" width="36.80" height="1.40" fill="#431212"/>
<rect x="347.30" y="371.80" width="36.80" height="1.40" fill="#541212"/>
<rect x="347.30" y="372.60" width="36.80" height="1.40" fill="#4E1212"/>
<rect x="347.30" y="373.40" width="36.80" height="1.40" fill="#481212"/>
<rect x="347.30" y="374.20" width="36.80" height="1.40" fill="#471212"/>
<rect x="347.30" y="375.00" width="36.80" height="2.00" fill="#461212"/>
<rect x="347.30" y="376.40" width="36.80" height="1.20" fill="#481212"/>
<rect x="347.30" y="377.00" width="36.80" height="2.00" fill="#2D1212"/>
<rect x="347.30" y="378.40" width="36.80" height="2.00" fill="#3E1212"/>
<rect x="347.30" y="379.80" width="36.80" height="1.70" fill="#301212"/>
<rect x="347.30" y="380.90" width="36.80" height="2.00" fill="#251212"/>
<rect x="347.30" y="382.30" width="36.80" height="1.40" fill="#361212"/>
<rect x="347.30" y="383.10" width="36.80" height="1.10" fill="#371212"/>
<rect x="347.30" y="383.60" width="36.80" height="1.40" fill="#5B1212"/>
<rect x="347.30" y="384.40" width="36.80" height="1.40" fill="#6C1212"/>
<rect x="347.30" y="385.20" width="36.80" height="1.40" fill="#491212"/>
<rect x="347.30" y="386.00" width="36.80" height="2.00" fill="#6F1212"/>
<rect x="347.30" y="387.40" width="36.80" height="1.40" fill="#511212"/>
<rect x="347.30" y="388.20" width="36.80" height="1.40" fill="#551212"/>
<rect x="347.30" y="389.00" width="36.80" height="1.40" fill="#511212"/>
<rect x="347.30" y="389.80" width="36.80" height="1.40" fill="#301212"/>
<rect x="347.30" y="390.60" width="36.80" height="1.70" fill="#441212"/>
<rect x="347.30" y="391.70" width="36.80" height="1.70" fill="#431212"/>
<rect x="347.30" y="392.80" width="36.80" height="2.40" fill="#341212"/>
<rect x="347.30" y="394.60" width="36.80" height="1.60" fill="#501212"/>
<rect x="347.30" y="395.60" width="36.80" height="1.40" fill="#CE1212"/>
<rect x="347.30" y="396.40" width="36.80" height="1.70" fill="#C51212"/>
<rect x="347.30" y="397.50" width="36.80" height="1.40" fill="#F71212"/>
<rect x="347.30" y="398.30" width="36.80" height="2.00" fill="#9F1212"/>
<rect x="347.30" y="399.70" width="36.80" height="2.00" fill="#7D1212"/>
<rect x="347.30" y="401.10" width="36.80" height="1.10" fill="#8A1212"/>
<rect x="347.30" y="401.60" width="36.80" height="1.40" fill="#28140F"/>
<rect x="347.30" y="402.40" width="36.80" height="1.80" fill="#29140F"/>
<rect x="347.30" y="403.60" width="36.80" height="2.40" fill="#851212"/>
<rect x="347.30" y="405.40" width="36.80" height="1.20" fill="#911212"/>
<rect x="347.30" y="406.00" width="36.80" height="2.60" fill="#F21212"/>
<rect x="347.30" y="408.00" width="36.80" height="2.00" fill="#331212"/>
<rect x="347.30" y="409.40" width="36.80" height="1.70" fill="#491212"/>
<rect x="347.30" y="410.50" width="36.80" height="2.10" fill="#3E1212"/>
<rect x="347.30" y="412.00" width="36.80" height="2.40" fill="#7E1212"/>
<rect x="347.30" y="413.80" width="36.80" height="2.00" fill="#661212"/>
<rect x="347.30" y="415.20" width="36.80" height="2.10" fill="#A81212"/>
<rect x="347.30" y="416.70" width="36.80" height="2.00" fill="#163B16"/>
<rect x="347.30" y="418.10" width="36.80" height="1.10" fill="#163816"/>
<rect x="347.30" y="418.60" width="36.80" height="1.70" fill="#16A616"/>
<rect x="347.30" y="419.70" width="36.80" height="2.20" fill="#16BE16"/>
<rect x="347.30" y="421.30" width="36.80" height="2.00" fill="#166416"/>
<rect x="347.30" y="422.70" width="36.80" height="2.00" fill="#164A16"/>
<rect x="347.30" y="424.10" width="36.80" height="1.80" fill="#163D16"/>
<rect x="347.30" y="425.30" width="36.80" height="1.40" fill="#164116"/>
<rect x="347.30" y="426.10" width="36.80" height="1.40" fill="#163C16"/>
<rect x="347.30" y="426.90" width="36.80" height="2.40" fill="#164616"/>
<rect x="347.30" y="428.70" width="36.80" height="1.40" fill="#163416"/>
<rect x="347.30" y="429.50" width="36.80" height="1.40" fill="#164416"/>
<rect x="347.30" y="430.30" width="36.80" height="1.60" fill="#163E16"/>
<rect x="347.30" y="431.30" width="36.80" height="2.40" fill="#162F16"/>
<rect x="347.30" y="433.10" width="36.80" height="1.50" fill="#162016"/>
<rect x="347.30" y="434.00" width="36.80" height="1.40" fill="#181E14"/>
<rect x="347.30" y="434.80" width="36.80" height="2.00" fill="#231E14"/>
<rect x="347.30" y="436.20" width="36.80" height="2.40" fill="#191E14"/>
<rect x="347.30" y="438.00" width="36.80" height="1.70" fill="#164F16"/>
<rect x="347.30" y="439.10" width="36.80" height="2.00" fill="#163D16"/>
<rect x="347.30" y="440.50" width="36.80" height="1.70" fill="#164A16"/>
<rect x="347.30" y="441.60" width="36.80" height="1.70" fill="#166D16"/>
<rect x="347.30" y="442.70" width="36.80" height="1.70" fill="#166816"/>
<rect x="347.30" y="443.80" width="36.80" height="1.40" fill="#164E16"/>
<rect x="347.30" y="444.60" width="36.80" height="1.40" fill="#166F16"/>
<rect x="347.30" y="445.40" width="36.80" height="2.00" fill="#166816"/>
<rect x="347.30" y="446.80" width="36.80" height="2.40" fill="#164D16"/>
<rect x="347.30" y="448.60" width="36.80" height="2.40" fill="#1A1E14"/>
<rect x="347.30" y="450.40" width="36.80" height="2.80" fill="#1C1E14"/>
<rect x="347.30" y="452.60" width="36.80" height="1.40" fill="#164E16"/>
<rect x="347.30" y="453.40" width="36.80" height="1.70" fill="#164916"/>
<rect x="347.30" y="454.50" width="36.80" height="1.40" fill="#164E16"/>
<rect x="347.30" y="455.30" width="36.80" height="1.40" fill="#164416"/>
<rect x="347.30" y="456.10" width="36.80" height="2.40" fill="#163B16"/>
<rect x="347.30" y="457.90" width="36.80" height="2.00" fill="#162516"/>
<rect x="347.30" y="459.30" width="36.80" height="1.70" fill="#164416"/>
<rect x="347.30" y="460.40" width="36.80" height="2.00" fill="#163516"/>
<rect x="347.30" y="461.80" width="36.80" height="1.70" fill="#163916"/>
<rect x="347.30" y="462.90" width="36.80" height="1.70" fill="#163616"/>
<rect x="347.30" y="464.00" width="36.80" height="2.40" fill="#162D16"/>
<rect x="347.30" y="465.80" width="36.80" height="1.80" fill="#163216"/>
<rect x="347.30" y="467.00" width="36.80" height="2.00" fill="#163516"/>
<rect x="347.30" y="468.40" width="36.80" height="1.90" fill="#163016"/>
<rect x="347.30" y="469.70" width="36.80" height="2.40" fill="#1E2819"/>
<rect x="347.30" y="471.50" width="36.80" height="2.10" fill="#1E2619"/>
<rect x="347.30" y="473.00" width="36.80" height="1.40" fill="#164C16"/>
<rect x="347.30" y="473.80" width="36.80" height="1.70" fill="#166416"/>
<rect x="347.30" y="474.90" width="36.80" height="1.70" fill="#165216"/>
<rect x="347.30" y="476.00" width="36.80" height="1.70" fill="#165D16"/>
<rect x="347.30" y="477.10" width="36.80" height="2.00" fill="#164916"/>
<rect x="347.30" y="478.50" width="36.80" height="1.70" fill="#165216"/>
<rect x="347.30" y="479.60" width="36.80" height="1.30" fill="#164916"/>
<rect x="347.30" y="480.30" width="36.80" height="2.40" fill="#16B416"/>
<rect x="347.30" y="482.10" width="36.80" height="1.70" fill="#168716"/>
<rect x="347.30" y="483.20" width="36.80" height="1.70" fill="#16CA16"/>
<rect x="347.30" y="484.30" width="36.80" height="2.40" fill="#163816"/>
<rect x="347.30" y="486.10" width="36.80" height="1.40" fill="#164E16"/>
<rect x="347.30" y="486.90" width="36.80" height="2.00" fill="#164216"/>
<rect x="347.30" y="488.30" width="36.80" height="2.40" fill="#168216"/>
<rect x="347.30" y="490.10" width="36.80" height="1.50" fill="#169916"/>
<rect x="347.30" y="491.00" width="36.80" height="1.40" fill="#1E1E19"/>
<rect x="347.30" y="491.80" width="36.80" height="2.00" fill="#1E2B19"/>
<rect x="347.30" y="493.20" width="36.80" height="1.40" fill="#1E3119"/>
<rect x="347.30" y="494.00" width="36.80" height="2.40" fill="#1E2919"/>
<rect x="347.30" y="495.80" width="36.80" height="1.10" fill="#1E2819"/>
<rect x="347.30" y="496.30" width="36.80" height="1.40" fill="#16A716"/>
<rect x="347.30" y="497.10" width="36.80" height="1.40" fill="#167C16"/>
<rect x="347.30" y="497.90" width="36.80" height="1.40" fill="#168916"/>
<rect x="347.30" y="498.70" width="36.80" height="1.70" fill="#169116"/>
<rect x="347.30" y="499.80" width="36.80" height="1.70" fill="#16BF16"/>
<rect x="347.30" y="500.90" width="36.80" height="1.30" fill="#167C16"/>
<rect x="347.30" y="501.60" width="36.80" height="1.70" fill="#165316"/>
<rect x="347.30" y="502.70" width="36.80" height="1.40" fill="#165816"/>
<rect x="347.30" y="503.50" width="36.80" height="2.70" fill="#165516"/>
<rect x="347.30" y="505.60" width="36.80" height="1.40" fill="#163A16"/>
<rect x="347.30" y="506.40" width="36.80" height="2.40" fill="#163216"/>
<rect x="347.30" y="508.20" width="36.80" height="2.00" fill="#162716"/>
<rect x="347.30" y="509.60" width="36.80" height="2.40" fill="#169016"/>
<rect x="347.30" y="511.40" width="36.80" height="1.70" fill="#169616"/>
<rect x="347.30" y="512.50" width="36.80" height="1.10" fill="#16DF16"/>
<rect x="347.30" y="513.00" width="36.80" height="2.40" fill="#166316"/>
<rect x="347.30" y="514.80" width="36.80" height="2.40" fill="#166F16"/>
<rect x="347.30" y="516.60" width="36.80" height="2.00" fill="#164B16"/>
<rect x="347.30" y="518.00" width="36.80" height="1.40" fill="#165316"/>
<rect x="347.30" y="518.80" width="36.80" height="2.10" fill="#165516"/>
<rect x="347.30" y="520.30" width="36.80" height="1.40" fill="#165116"/>
<rect x="347.30" y="521.10" width="36.80" height="1.40" fill="#162E16"/>
<rect x="347.30" y="521.90" width="36.80" height="1.40" fill="#164C16"/>
<rect x="347.30" y="522.70" width="36.80" height="1.70" fill="#164416"/>
<rect x="347.30" y="523.80" width="36.80" height="1.10" fill="#165416"/>
<rect x="347.30" y="524.30" width="36.80" height="2.00" fill="#231E19"/>
<rect x="347.30" y="525.70" width="36.80" height="2.00" fill="#231E19"/>
<rect x="347.30" y="527.10" width="36.80" height="1.70" fill="#1A1E19"/>
<rect x="347.30" y="528.20" width="36.80" height="0.60" fill="#221E19"/>
<rect x="383.50" y="284.50" width="36.80" height="2.40" fill="#16B316"/>
<rect x="383.50" y="286.30" width="36.80" height="2.60" fill="#16A416"/>
<rect x="383.50" y="288.30" width="36.80" height="1.40" fill="#168616"/>
<rect x="383.50" y="289.10" width="36.80" height="2.20" fill="#167E16"/>
<rect x="383.50" y="290.70" width="36.80" height="2.00" fill="#168A16"/>
<rect x="383.50" y="292.10" width="36.80" height="1.50" fill="#16A316"/>
<rect x="383.50" y="293.00" width="36.80" height="1.90" fill="#166416"/>
<rect x="383.50" y="294.30" width="36.80" height="1.70" fill="#167E16"/>
<rect x="383.50" y="295.40" width="36.80" height="1.70" fill="#16A216"/>
<rect x="383.50" y="296.50" width="36.80" height="1.40" fill="#16DD16"/>
<rect x="383.50" y="297.30" width="36.80" height="1.30" fill="#169616"/>
<rect x="383.50" y="298.00" width="36.80" height="2.00" fill="#165D16"/>
<rect x="383.50" y="299.40" width="36.80" height="1.20" fill="#166A16"/>
<rect x="383.50" y="300.00" width="36.80" height="1.70" fill="#16C516"/>
<rect x="383.50" y="301.10" width="36.80" height="2.40" fill="#16FF16"/>
<rect x="383.50" y="302.90" width="36.80" height="2.40" fill="#16FF16"/>
<rect x="383.50" y="304.70" width="36.80" height="2.00" fill="#16C016"/>
<rect x="383.50" y="306.10" width="36.80" height="2.00" fill="#16DD16"/>
<rect x="383.50" y="307.50" width="36.80" height="2.40" fill="#16AD16"/>
<rect x="383.50" y="309.30" width="36.80" height="1.40" fill="#16E816"/>
<rect x="383.50" y="310.10" width="36.80" height="2.00" fill="#16D116"/>
<rect x="383.50" y="311.50" width="36.80" height="2.40" fill="#16FF16"/>
<rect x="383.50" y="313.30" width="36.80" height="1.40" fill="#16FF16"/>
<rect x="383.50" y="314.10" width="36.80" height="2.00" fill="#16FF16"/>
<rect x="383.50" y="315.50" width="36.80" height="1.70" fill="#16B316"/>
<rect x="383.50" y="316.60" width="36.80" height="1.40" fill="#16FF16"/>
<rect x="383.50" y="317.40" width="36.80" height="2.40" fill="#16C616"/>
<rect x="383.50" y="319.20" width="36.80" height="1.40" fill="#16F316"/>
<rect x="383.50" y="320.00" width="36.80" height="2.40" fill="#16FF16"/>
<rect x="383.50" y="321.80" width="36.80" height="1.70" fill="#16FF16"/>
<rect x="383.50" y="322.90" width="36.80" height="1.40" fill="#16DD16"/>
<rect x="383.50" y="323.70" width="36.80" height="2.40" fill="#16F916"/>
<rect x="383.50" y="325.50" width="36.80" height="1.70" fill="#16DE16"/>
<rect x="383.50" y="326.60" width="36.80" height="2.40" fill="#16FF16"/>
<rect x="383.50" y="328.40" width="36.80" height="1.70" fill="#16FF16"/>
<rect x="383.50" y="329.50" width="36.80" height="2.00" fill="#16C716"/>
<rect x="383.50" y="330.90" width="36.80" height="2.00" fill="#16FF16"/>
<rect x="383.50" y="332.30" width="36.80" height="1.70" fill="#16FB16"/>
<rect x="383.50" y="333.40" width="36.80" height="2.00" fill="#16A916"/>
<rect x="383.50" y="334.80" width="36.80" height="1.40" fill="#16BF16"/>
<rect x="383.50" y="335.60" width="36.80" height="2.40" fill="#16BE16"/>
<rect x="383.50" y="337.40" width="36.80" height="1.70" fill="#16FF16"/>
<rect x="383.50" y="338.50" width="36.80" height="2.40" fill="#16DE16"/>
<rect x="383.50" y="340.30" width="36.80" height="1.70" fill="#16FF16"/>
<rect x="383.50" y="341.40" width="36.80" height="2.40" fill="#16DF16"/>
<rect x="383.50" y="343.20" width="36.80" height="2.40" fill="#16AF16"/>
<rect x="383.50" y="345.00" width="36.80" height="1.70" fill="#165D16"/>
<rect x="383.50" y="346.10" width="36.80" height="2.20" fill="#166116"/>
<rect x="383.50" y="347.70" width="36.80" height="1.40" fill="#167116"/>
<rect x="383.50" y="348.50" width="36.80" height="2.40" fill="#164B16"/>
<rect x="383.50" y="350.30" width="36.80" height="2.00" fill="#165B16"/>
<rect x="383.50" y="351.70" width="36.80" height="2.00" fill="#16F616"/>
<rect x="383.50" y="353.10" width="36.80" height="2.40" fill="#16F616"/>
<rect x="383.50" y="354.90" width="36.80" height="2.40" fill="#167D16"/>
<rect x="383.50" y="356.70" width="36.80" height="2.00" fill="#16CD16"/>
<rect x="383.50" y="358.10" width="36.80" height="2.00" fill="#16CE16"/>
<rect x="383.50" y="359.50" width="36.80" height="2.00" fill="#16F416"/>
<rect x="383.50" y="360.90" width="36.80" height="2.00" fill="#16B716"/>
<rect x="383.50" y="362.30" width="36.80" height="1.70" fill="#16AA16"/>
<rect x="383.50" y="363.40" width="36.80" height="1.40" fill="#16CA16"/>
<rect x="383.50" y="364.20" width="36.80" height="1.70" fill="#16C516"/>
<rect x="383.50" y="365.30" width="36.80" height="2.40" fill="#16BF16"/>
<rect x="383.50" y="367.10" width="36.80" height="2.40" fill="#16CC16"/>
<rect x="383.50" y="368.90" width="36.80" height="1.70" fill="#16BB16"/>
<rect x="383.50" y="370.00" width="36.80" height="2.40" fill="#16D916"/>
<rect x="383.50" y="371.80" width="36.80" height="1.70" fill="#16C216"/>
<rect x="383.50" y="372.90" width="36.80" height="2.40" fill="#16D516"/>
<rect x="383.50" y="374.70" width="36.80" height="2.40" fill="#168816"/>
<rect x="383.50" y="376.50" width="36.80" height="1.70" fill="#165816"/>
<rect x="383.50" y="377.60" width="36.80" height="2.00" fill="#16E416"/>
<rect x="383.50" y="379.00" width="36.80" height="2.40" fill="#16C616"/>
<rect x="383.50" y="380.80" width="36.80" height="1.70" fill="#169C16"/>
<rect x="383.50" y="381.90" width="36.80" height="1.40" fill="#16F616"/>
<rect x="383.50" y="382.70" width="36.80" height="1.40" fill="#16BC16"/>
<rect x="383.50" y="383.50" width="36.80" height="1.70" fill="#16E516"/>
<rect x="383.50" y="384.60" width="36.80" height="1.70" fill="#16E116"/>
<rect x="383.50" y="385.70" width="36.80" height="2.00" fill="#16C316"/>
<rect x="383.50" y="387.10" width="36.80" height="2.50" fill="#16A516"/>
<rect x="383.50" y="389.00" width="36.80" height="1.70" fill="#166B16"/>
<rect x="383.50" y="390.10" width="36.80" height="1.40" fill="#16AE16"/>
<rect x="383.50" y="390.90" width="36.80" height="1.70" fill="#168A16"/>
<rect x="383.50" y="392.00" width="36.80" height="2.00" fill="#167F16"/>
<rect x="383.50" y="393.40" width="36.80" height="2.80" fill="#166F16"/>
<rect x="383.50" y="395.60" width="36.80" height="2.00" fill="#16CA16"/>
<rect x="383.50" y="397.00" width="36.80" height="1.70" fill="#16C916"/>
<rect x="383.50" y="398.10" width="36.80" height="1.40" fill="#168016"/>
<rect x="383.50" y="398.90" width="36.80" height="2.00" fill="#168016"/>
<rect x="383.50" y="400.30" width="36.80" height="1.30" fill="#16AF16"/>
<rect x="383.50" y="401.00" width="36.80" height="2.40" fill="#163616"/>
<rect x="383.50" y="402.80" width="36.80" height="1.40" fill="#163316"/>
<rect x="383.50" y="403.60" width="36.80" height="1.40" fill="#168C16"/>
<rect x="383.50" y="404.40" width="36.80" height="2.20" fill="#168B16"/>
<rect x="383.50" y="406.00" width="36.80" height="2.00" fill="#166016"/>
<rect x="383.50" y="407.40" width="36.80" height="1.40" fill="#166616"/>
<rect x="383.50" y="408.20" width="36.80" height="1.10" fill="#166716"/>
<rect x="383.50" y="408.70" width="36.80" height="1.70" fill="#16E016"/>
<rect x="383.50" y="409.80" width="36.80" height="1.40" fill="#16CD16"/>
<rect x="383.50" y="410.60" width="36.80" height="2.00" fill="#16E316"/>
<rect x="383.50" y="412.00" width="36.80" height="1.30" fill="#16C816"/>
<rect x="383.50" y="412.70" width="36.80" height="1.40" fill="#16AF16"/>
<rect x="383.50" y="413.50" width="36.80" height="2.40" fill="#16B116"/>
<rect x="383.50" y="415.30" width="36.80" height="2.00" fill="#16B316"/>
<rect x="383.50" y="416.70" width="36.80" height="1.70" fill="#9D1212"/>
<rect x="383.50" y="417.80" width="36.80" height="2.40" fill="#DF1212"/>
<rect x="383.50" y="419.60" width="36.80" height="1.60" fill="#7C1212"/>
<rect x="383.50" y="420.60" width="36.80" height="1.70" fill="#EE1212"/>
<rect x="383.50" y="421.70" width="36.80" height="2.00" fill="#E41212"/>
<rect x="383.50" y="423.10" width="36.80" height="1.70" fill="#F31212"/>
<rect x="383.50" y="424.20" width="36.80" height="2.00" fill="#FF1212"/>
<rect x="383.50" y="425.60" width="36.80" height="1.40" fill="#FF1212"/>
<rect x="383.50" y="426.40" width="36.80" height="1.70" fill="#B11212"/>
<rect x="383.50" y="427.50" width="36.80" height="2.00" fill="#C91212"/>
<rect x="383.50" y="428.90" width="36.80" height="1.70" fill="#C31212"/>
<rect x="383.50" y="430.00" width="36.80" height="2.00" fill="#FF1212"/>
<rect x="383.50" y="431.40" width="36.80" height="1.80" fill="#BD1212"/>
<rect x="383.50" y="432.60" width="36.80" height="1.70" fill="#FF1212"/>
<rect x="383.50" y="433.70" width="36.80" height="1.70" fill="#FF1212"/>
<rect x="383.50" y="434.80" width="36.80" height="2.40" fill="#FF1212"/>
<rect x="383.50" y="436.60" width="36.80" height="2.00" fill="#F41212"/>
<rect x="383.50" y="438.00" width="36.80" height="2.40" fill="#F31212"/>
<rect x="383.50" y="439.80" width="36.80" height="2.40" fill="#E41212"/>
<rect x="383.50" y="441.60" width="36.80" height="1.40" fill="#EB1212"/>
<rect x="383.50" y="442.40" width="36.80" height="2.40" fill="#E41212"/>
<rect x="383.50" y="444.20" width="36.80" height="1.70" fill="#D91212"/>
<rect x="383.50" y="445.30" width="36.80" height="2.40" fill="#FF1212"/>
<rect x="383.50" y="447.10" width="36.80" height="2.40" fill="#FF1212"/>
<rect x="383.50" y="448.90" width="36.80" height="2.00" fill="#D21212"/>
<rect x="383.50" y="450.30" width="36.80" height="1.70" fill="#DF1212"/>
<rect x="383.50" y="451.40" width="36.80" height="1.40" fill="#F41212"/>
<rect x="383.50" y="452.20" width="36.80" height="2.00" fill="#E31212"/>
<rect x="383.50" y="453.60" width="36.80" height="1.40" fill="#FF1212"/>
<rect x="383.50" y="454.40" width="36.80" height="2.00" fill="#C31212"/>
<rect x="383.50" y="455.80" width="36.80" height="1.40" fill="#D91212"/>
<rect x="383.50" y="456.60" width="36.80" height="1.70" fill="#F21212"/>
<rect x="383.50" y="457.70" width="36.80" height="2.00" fill="#BC1212"/>
<rect x="383.50" y="459.10" width="36.80" height="1.70" fill="#FF1212"/>
<rect x="383.50" y="460.20" width="36.80" height="2.00" fill="#EC1212"/>
<rect x="383.50" y="461.60" width="36.80" height="2.00" fill="#D21212"/>
<rect x="383.50" y="463.00" width="36.80" height="1.40" fill="#EF1212"/>
<rect x="383.50" y="463.80" width="36.80" height="1.70" fill="#FF1212"/>
<rect x="383.50" y="464.90" width="36.80" height="2.70" fill="#E51212"/>
<rect x="383.50" y="467.00" width="36.80" height="2.00" fill="#FF1212"/>
<rect x="383.50" y="468.40" width="36.80" height="1.70" fill="#DC1212"/>
<rect x="383.50" y="469.50" width="36.80" height="2.40" fill="#DC1212"/>
<rect x="383.50" y="471.30" width="36.80" height="2.40" fill="#AC1212"/>
<rect x="383.50" y="473.10" width="36.80" height="2.40" fill="#DB1212"/>
<rect x="383.50" y="474.90" width="36.80" height="2.00" fill="#F61212"/>
<rect x="383.50" y="476.30" width="36.80" height="1.70" fill="#621212"/>
<rect x="383.50" y="477.40" width="36.80" height="2.20" fill="#C91212"/>
<rect x="383.50" y="479.00" width="36.80" height="2.00" fill="#F31212"/>
<rect x="383.50" y="480.40" width="36.80" height="2.40" fill="#E01212"/>
<rect x="383.50" y="482.20" width="36.80" height="2.00" fill="#F81212"/>
<rect x="383.50" y="483.60" width="36.80" height="2.40" fill="#F51212"/>
<rect x="383.50" y="485.40" width="36.80" height="2.20" fill="#981212"/>
<rect x="383.50" y="487.00" width="36.80" height="2.40" fill="#D91212"/>
<rect x="383.50" y="488.80" width="36.80" height="1.70" fill="#AD1212"/>
<rect x="383.50" y="489.90" width="36.80" height="1.40" fill="#D01212"/>
<rect x="383.50" y="490.70" width="36.80" height="1.70" fill="#AE1212"/>
<rect x="383.50" y="491.80" width="36.80" height="1.40" fill="#BA1212"/>
<rect x="383.50" y="492.60" width="36.80" height="1.40" fill="#C51212"/>
<rect x="383.50" y="493.40" width="36.80" height="2.00" fill="#B01212"/>
<rect x="383.50" y="494.80" width="36.80" height="1.40" fill="#801212"/>
<rect x="383.50" y="495.60" width="36.80" height="1.30" fill="#B41212"/>
<rect x="383.50" y="496.30" width="36.80" height="1.40" fill="#891212"/>
<rect x="383.50" y="497.10" width="36.80" height="2.00" fill="#A31212"/>
<rect x="383.50" y="498.50" width="36.80" height="2.40" fill="#931212"/>
<rect x="383.50" y="500.30" width="36.80" height="1.70" fill="#971212"/>
<rect x="383.50" y="501.40" width="36.80" height="2.20" fill="#791212"/>
<rect x="383.50" y="503.00" width="36.80" height="2.00" fill="#FF1212"/>
<rect x="383.50" y="504.40" width="36.80" height="1.70" fill="#D81212"/>
<rect x="383.50" y="505.50" width="36.80" height="2.00" fill="#F11212"/>
<rect x="383.50" y="506.90" width="36.80" height="2.00" fill="#F31212"/>
<rect x="383.50" y="508.30" width="36.80" height="1.40" fill="#FF1212"/>
<rect x="383.50" y="509.10" width="36.80" height="1.10" fill="#E71212"/>
<rect x="383.50" y="509.60" width="36.80" height="1.70" fill="#4A1212"/>
<rect x="383.50" y="510.70" width="36.80" height="2.20" fill="#4D1212"/>
<rect x="383.50" y="512.30" width="36.80" height="1.40" fill="#163316"/>
<rect x="383.50" y="513.10" width="36.80" height="1.80" fill="#163316"/>
<rect x="383.50" y="514.30" width="36.80" height="2.00" fill="#A71212"/>
<rect x="383.50" y="515.70" width="36.80" height="2.40" fill="#741212"/>
<rect x="383.50" y="517.50" width="36.80" height="1.70" fill="#761212"/>
<rect x="383.50" y="518.60" width="36.80" height="1.70" fill="#8D1212"/>
<rect x="383.50" y="519.70" width="36.80" height="1.20" fill="#8C1212"/>
<rect x="383.50" y="520.30" width="36.80" height="2.40" fill="#C41212"/>
<rect x="383.50" y="522.10" width="36.80" height="2.00" fill="#D21212"/>
<rect x="383.50" y="523.50" width="36.80" height="1.40" fill="#9F1212"/>
<rect x="383.50" y="524.30" width="36.80" height="2.00" fill="#851212"/>
<rect x="383.50" y="525.70" width="36.80" height="2.00" fill="#9E1212"/>
<rect x="383.50" y="527.10" width="36.80" height="1.70" fill="#BF1212"/>
<rect x="419.70" y="284.50" width="36.80" height="2.00" fill="#165116"/>
<rect x="419.70" y="285.90" width="36.80" height="1.40" fill="#164B16"/>
<rect x="419.70" y="286.70" width="36.80" height="1.20" fill="#164C16"/>
<rect x="419.70" y="287.30" width="36.80" height="2.00" fill="#167F16"/>
<rect x="419.70" y="288.70" width="36.80" height="1.40" fill="#168616"/>
<rect x="419.70" y="289.50" width="36.80" height="1.40" fill="#165A16"/>
<rect x="419.70" y="290.30" width="36.80" height="1.60" fill="#166B16"/>
<rect x="419.70" y="291.30" width="36.80" height="2.60" fill="#162516"/>
<rect x="419.70" y="293.30" width="36.80" height="2.00" fill="#164016"/>
<rect x="419.70" y="294.70" width="36.80" height="2.00" fill="#164C16"/>
<rect x="419.70" y="296.10" width="36.80" height="2.50" fill="#167116"/>
<rect x="419.70" y="298.00" width="36.80" height="1.70" fill="#167816"/>
<rect x="419.70" y="299.10" width="36.80" height="2.10" fill="#167516"/>
<rect x="419.70" y="300.60" width="36.80" height="2.60" fill="#281914"/>
<rect x="419.70" y="302.60" width="36.80" height="1.40" fill="#162616"/>
<rect x="419.70" y="303.40" width="36.80" height="2.40" fill="#162A16"/>
<rect x="419.70" y="305.20" width="36.80" height="2.00" fill="#162716"/>
<rect x="419.70" y="306.60" width="36.80" height="2.00" fill="#163716"/>
<rect x="419.70" y="308.00" width="36.80" height="2.40" fill="#164A16"/>
<rect x="419.70" y="309.80" width="36.80" height="1.40" fill="#164B16"/>
<rect x="419.70" y="310.60" width="36.80" height="2.00" fill="#1E1E19"/>
<rect x="419.70" y="312.00" width="36.80" height="1.20" fill="#1E2819"/>
<rect x="419.70" y="312.60" width="36.80" height="2.00" fill="#168916"/>
<rect x="419.70" y="314.00" width="36.80" height="2.40" fill="#169116"/>
<rect x="419.70" y="315.80" width="36.80" height="1.70" fill="#166116"/>
<rect x="419.70" y="316.90" width="36.80" height="2.40" fill="#166516"/>
<rect x="419.70" y="318.70" width="36.80" height="1.90" fill="#166916"/>
<rect x="419.70" y="320.00" width="36.80" height="2.00" fill="#168716"/>
<rect x="419.70" y="321.40" width="36.80" height="1.40" fill="#16B616"/>
<rect x="419.70" y="322.20" width="36.80" height="2.40" fill="#169B16"/>
<rect x="419.70" y="324.00" width="36.80" height="2.40" fill="#167016"/>
<rect x="419.70" y="325.80" width="36.80" height="2.00" fill="#168716"/>
<rect x="419.70" y="327.20" width="36.80" height="1.70" fill="#165A16"/>
<rect x="419.70" y="328.30" width="36.80" height="1.60" fill="#166516"/>
<rect x="419.70" y="329.30" width="36.80" height="1.70" fill="#167E16"/>
<rect x="419.70" y="330.40" width="36.80" height="2.00" fill="#166E16"/>
<rect x="419.70" y="331.80" width="36.80" height="1.40" fill="#167B16"/>
<rect x="419.70" y="332.60" width="36.80" height="1.70" fill="#167916"/>
<rect x="419.70" y="333.70" width="36.80" height="1.40" fill="#166616"/>
<rect x="419.70" y="334.50" width="36.80" height="1.40" fill="#167216"/>
<rect x="419.70" y="335.30" width="36.80" height="2.00" fill="#167716"/>
<rect x="419.70" y="336.70" width="36.80" height="1.20" fill="#167C16"/>
<rect x="419.70" y="337.30" width="36.80" height="2.00" fill="#165816"/>
<rect x="419.70" y="338.70" width="36.80" height="2.00" fill="#164516"/>
<rect x="419.70" y="340.10" width="36.80" height="2.40" fill="#166F16"/>
<rect x="419.70" y="341.90" width="36.80" height="1.40" fill="#167816"/>
<rect x="419.70" y="342.70" width="36.80" height="1.40" fill="#165916"/>
<rect x="419.70" y="343.50" width="36.80" height="2.10" fill="#166F16"/>
<rect x="419.70" y="345.00" width="36.80" height="2.40" fill="#16C816"/>
<rect x="419.70" y="346.80" width="36.80" height="1.70" fill="#16D416"/>
<rect x="419.70" y="347.90" width="36.80" height="1.40" fill="#16D016"/>
<rect x="419.70" y="348.70" width="36.80" height="1.40" fill="#16A216"/>
<rect x="419.70" y="349.50" width="36.80" height="2.80" fill="#16B916"/>
<rect x="419.70" y="351.70" width="36.80" height="1.40" fill="#163716"/>
<rect x="419.70" y="352.50" width="36.80" height="1.40" fill="#163316"/>
<rect x="419.70" y="353.30" width="36.80" height="2.40" fill="#163F16"/>
<rect x="419.70" y="355.10" width="36.80" height="1.20" fill="#163716"/>
<rect x="419.70" y="355.70" width="36.80" height="1.40" fill="#167516"/>
<rect x="419.70" y="356.50" width="36.80" height="1.70" fill="#167D16"/>
<rect x="419.70" y="357.60" width="36.80" height="1.40" fill="#165E16"/>
<rect x="419.70" y="358.40" width="36.80" height="2.00" fill="#166716"/>
<rect x="419.70" y="359.80" width="36.80" height="1.40" fill="#165D16"/>
<rect x="419.70" y="360.60" width="36.80" height="1.40" fill="#166B16"/>
<rect x="419.70" y="361.40" width="36.80" height="1.50" fill="#165D16"/>
<rect x="419.70" y="362.30" width="36.80" height="2.00" fill="#167F16"/>
<rect x="419.70" y="363.70" width="36.80" height="2.00" fill="#167C16"/>
<rect x="419.70" y="365.10" width="36.80" height="2.40" fill="#16AB16"/>
<rect x="419.70" y="366.90" width="36.80" height="2.00" fill="#166C16"/>
<rect x="419.70" y="368.30" width="36.80" height="2.40" fill="#168116"/>
<rect x="419.70" y="370.10" width="36.80" height="1.40" fill="#169216"/>
<rect x="419.70" y="370.90" width="36.80" height="1.70" fill="#16B116"/>
<rect x="419.70" y="372.00" width="36.80" height="2.40" fill="#167116"/>
<rect x="419.70" y="373.80" width="36.80" height="1.70" fill="#16BE16"/>
<rect x="419.70" y="374.90" width="36.80" height="1.40" fill="#168816"/>
<rect x="419.70" y="375.70" width="36.80" height="1.90" fill="#167E16"/>
<rect x="419.70" y="377.00" width="36.80" height="2.40" fill="#163C16"/>
<rect x="419.70" y="378.80" width="36.80" height="1.70" fill="#168316"/>
<rect x="419.70" y="379.90" width="36.80" height="2.00" fill="#166416"/>
<rect x="419.70" y="381.30" width="36.80" height="2.40" fill="#167216"/>
<rect x="419.70" y="383.10" width="36.80" height="2.40" fill="#166F16"/>
<rect x="419.70" y="384.90" width="36.80" height="1.70" fill="#167E16"/>
<rect x="419.70" y="386.00" width="36.80" height="2.40" fill="#166816"/>
<rect x="419.70" y="387.80" width="36.80" height="1.80" fill="#164C16"/>
<rect x="419.70" y="389.00" width="36.80" height="2.00" fill="#16E116"/>
<rect x="419.70" y="390.40" width="36.80" height="1.40" fill="#16E016"/>
<rect x="419.70" y="391.20" width="36.80" height="1.40" fill="#16DF16"/>
<rect x="419.70" y="392.00" width="36.80" height="2.40" fill="#16B816"/>
<rect x="419.70" y="393.80" width="36.80" height="1.70" fill="#16A116"/>
<rect x="419.70" y="394.90" width="36.80" height="1.30" fill="#16B916"/>
<rect x="419.70" y="395.60" width="36.80" height="2.40" fill="#164716"/>
<rect x="419.70" y="397.40" width="36.80" height="1.70" fill="#164E16"/>
<rect x="419.70" y="398.50" width="36.80" height="1.70" fill="#164616"/>
<rect x="419.70" y="399.60" width="36.80" height="2.00" fill="#165F16"/>
<rect x="419.70" y="401.00" width="36.80" height="1.90" fill="#164C16"/>
<rect x="419.70" y="402.30" width="36.80" height="1.70" fill="#16B016"/>
<rect x="419.70" y="403.40" width="36.80" height="2.40" fill="#169C16"/>
<rect x="419.70" y="405.20" width="36.80" height="1.40" fill="#169816"/>
<rect x="419.70" y="406.00" width="36.80" height="2.40" fill="#167E16"/>
<rect x="419.70" y="407.80" width="36.80" height="1.50" fill="#165516"/>
<rect x="419.70" y="408.70" width="36.80" height="2.40" fill="#164316"/>
<rect x="419.70" y="410.50" width="36.80" height="1.40" fill="#163816"/>
<rect x="419.70" y="411.30" width="36.80" height="2.40" fill="#168416"/>
<rect x="419.70" y="413.10" width="36.80" height="2.00" fill="#166516"/>
<rect x="419.70" y="414.50" width="36.80" height="1.70" fill="#16A816"/>
<rect x="419.70" y="415.60" width="36.80" height="1.70" fill="#169D16"/>
<rect x="419.70" y="416.70" width="36.80" height="1.70" fill="#AF1212"/>
<rect x="419.70" y="417.80" width="36.80" height="2.00" fill="#431212"/>
<rect x="419.70" y="419.20" width="36.80" height="2.00" fill="#981212"/>
<rect x="419.70" y="420.60" width="36.80" height="1.70" fill="#AD1212"/>
<rect x="419.70" y="421.70" width="36.80" height="1.40" fill="#831212"/>
<rect x="419.70" y="422.50" width="36.80" height="1.70" fill="#971212"/>
<rect x="419.70" y="423.60" width="36.80" height="1.70" fill="#641212"/>
<rect x="419.70" y="424.70" width="36.80" height="1.70" fill="#811212"/>
<rect x="419.70" y="425.80" width="36.80" height="2.40" fill="#B71212"/>
<rect x="419.70" y="427.60" width="36.80" height="1.40" fill="#B71212"/>
<rect x="419.70" y="428.40" width="36.80" height="1.40" fill="#911212"/>
<rect x="419.70" y="429.20" width="36.80" height="1.40" fill="#C71212"/>
<rect x="419.70" y="430.00" width="36.80" height="1.70" fill="#781212"/>
<rect x="419.70" y="431.10" width="36.80" height="1.70" fill="#BB1212"/>
<rect x="419.70" y="432.20" width="36.80" height="1.40" fill="#831212"/>
<rect x="419.70" y="433.00" width="36.80" height="1.60" fill="#AA1212"/>
<rect x="419.70" y="434.00" width="36.80" height="2.40" fill="#3C1212"/>
<rect x="419.70" y="435.80" width="36.80" height="1.40" fill="#301212"/>
<rect x="419.70" y="436.60" width="36.80" height="1.40" fill="#165416"/>
<rect x="419.70" y="437.40" width="36.80" height="1.40" fill="#166216"/>
<rect x="419.70" y="438.20" width="36.80" height="1.40" fill="#166816"/>
<rect x="419.70" y="439.00" width="36.80" height="2.20" fill="#166416"/>
<rect x="419.70" y="440.60" width="36.80" height="2.00" fill="#611212"/>
<rect x="419.70" y="442.00" width="36.80" height="2.40" fill="#3A1212"/>
<rect x="419.70" y="443.80" width="36.80" height="1.70" fill="#2A1914"/>
<rect x="419.70" y="444.90" width="36.80" height="2.40" fill="#3A1212"/>
<rect x="419.70" y="446.70" width="36.80" height="1.40" fill="#4F1212"/>
<rect x="419.70" y="447.50" width="36.80" height="1.70" fill="#471212"/>
<rect x="419.70" y="448.60" width="36.80" height="2.40" fill="#2F1212"/>
<rect x="419.70" y="450.40" width="36.80" height="1.40" fill="#591212"/>
<rect x="419.70" y="451.20" width="36.80" height="1.70" fill="#291212"/>
<rect x="419.70" y="452.30" width="36.80" height="2.00" fill="#611212"/>
<rect x="419.70" y="453.70" width="36.80" height="1.40" fill="#4E1212"/>
<rect x="419.70" y="454.50" width="36.80" height="1.70" fill="#3A1212"/>
<rect x="419.70" y="455.60" width="36.80" height="2.40" fill="#271212"/>
<rect x="419.70" y="457.40" width="36.80" height="1.40" fill="#351212"/>
<rect x="419.70" y="458.20" width="36.80" height="1.70" fill="#471212"/>
<rect x="419.70" y="459.30" width="36.80" height="1.70" fill="#4B1212"/>
<rect x="419.70" y="460.40" width="36.80" height="1.40" fill="#561212"/>
<rect x="419.70" y="461.20" width="36.80" height="1.40" fill="#691212"/>
<rect x="419.70" y="462.00" width="36.80" height="1.70" fill="#591212"/>
<rect x="419.70" y="463.10" width="36.80" height="2.00" fill="#2E1212"/>
<rect x="419.70" y="464.50" width="36.80" height="1.70" fill="#391212"/>
<rect x="419.70" y="465.60" width="36.80" height="1.40" fill="#761212"/>
<rect x="419.70" y="466.40" width="36.80" height="1.20" fill="#7A1212"/>
<rect x="419.70" y="467.00" width="36.80" height="2.00" fill="#3E1212"/>
<rect x="419.70" y="468.40" width="36.80" height="1.20" fill="#391212"/>
<rect x="419.70" y="469.00" width="36.80" height="1.70" fill="#781212"/>
<rect x="419.70" y="470.10" width="36.80" height="1.40" fill="#341212"/>
<rect x="419.70" y="470.90" width="36.80" height="1.40" fill="#5D1212"/>
<rect x="419.70" y="471.70" width="36.80" height="2.00" fill="#7C1212"/>
<rect x="419.70" y="473.10" width="36.80" height="2.00" fill="#721212"/>
<rect x="419.70" y="474.50" width="36.80" height="1.70" fill="#7A1212"/>
<rect x="419.70" y="475.60" width="36.80" height="1.40" fill="#5C1212"/>
<rect x="419.70" y="476.40" width="36.80" height="2.00" fill="#881212"/>
<rect x="419.70" y="477.80" width="36.80" height="2.00" fill="#6D1212"/>
<rect x="419.70" y="479.20" width="36.80" height="1.70" fill="#7B1212"/>
<rect x="419.70" y="480.30" width="36.80" height="2.60" fill="#4F1212"/>
<rect x="419.70" y="482.30" width="36.80" height="2.00" fill="#871212"/>
<rect x="419.70" y="483.70" width="36.80" height="2.40" fill="#8A1212"/>
<rect x="419.70" y="485.50" width="36.80" height="1.40" fill="#6E1212"/>
<rect x="419.70" y="486.30" width="36.80" height="2.00" fill="#871212"/>
<rect x="419.70" y="487.70" width="36.80" height="1.20" fill="#8A1212"/>
<rect x="419.70" y="488.30" width="36.80" height="2.00" fill="#6B1212"/>
<rect x="419.70" y="489.70" width="36.80" height="2.00" fill="#511212"/>
<rect x="419.70" y="491.10" width="36.80" height="2.40" fill="#721212"/>
<rect x="419.70" y="492.90" width="36.80" height="1.40" fill="#751212"/>
<rect x="419.70" y="493.70" width="36.80" height="2.40" fill="#4F1212"/>
<rect x="419.70" y="495.50" width="36.80" height="1.40" fill="#781212"/>
<rect x="419.70" y="496.30" width="36.80" height="1.40" fill="#B01212"/>
<rect x="419.70" y="497.10" width="36.80" height="2.50" fill="#751212"/>
<rect x="419.70" y="499.00" width="36.80" height="2.40" fill="#341212"/>
<rect x="419.70" y="500.80" width="36.80" height="2.10" fill="#471212"/>
<rect x="419.70" y="502.30" width="36.80" height="1.70" fill="#166016"/>
<rect x="419.70" y="503.40" width="36.80" height="1.40" fill="#164016"/>
<rect x="419.70" y="504.20" width="36.80" height="1.40" fill="#164416"/>
<rect x="419.70" y="505.00" width="36.80" height="2.60" fill="#165916"/>
<rect x="419.70" y="507.00" width="36.80" height="1.70" fill="#291E14"/>
<rect x="419.70" y="508.10" width="36.80" height="2.10" fill="#2A1E14"/>
<rect x="419.70" y="509.60" width="36.80" height="2.40" fill="#D31212"/>
<rect x="419.70" y="511.40" width="36.80" height="1.40" fill="#F51212"/>
<rect x="419.70" y="512.20" width="36.80" height="2.00" fill="#C51212"/>
<rect x="419.70" y="513.60" width="36.80" height="1.70" fill="#821212"/>
<rect x="419.70" y="514.70" width="36.80" height="2.40" fill="#A81212"/>
<rect x="419.70" y="516.50" width="36.80" height="2.40" fill="#981212"/>
<rect x="419.70" y="518.30" width="36.80" height="1.70" fill="#E01212"/>
<rect x="419.70" y="519.40" width="36.80" height="1.50" fill="#B01212"/>
<rect x="419.70" y="520.30" width="36.80" height="2.40" fill="#5B1212"/>
<rect x="419.70" y="522.10" width="36.80" height="1.50" fill="#661212"/>
<rect x="419.70" y="523.00" width="36.80" height="1.70" fill="#C11212"/>
<rect x="419.70" y="524.10" width="36.80" height="2.00" fill="#BD1212"/>
<rect x="419.70" y="525.50" width="36.80" height="2.00" fill="#CB1212"/>
<rect x="419.70" y="526.90" width="36.80" height="1.70" fill="#B51212"/>
<rect x="419.70" y="528.00" width="36.80" height="0.80" fill="#E91212"/>
<rect x="455.90" y="284.50" width="36.20" height="2.10" fill="#1D1E14"/>
<rect x="455.90" y="286.00" width="36.20" height="2.00" fill="#164616"/>
<rect x="455.90" y="287.40" width="36.20" height="2.00" fill="#164016"/>
<rect x="455.90" y="288.80" width="36.20" height="1.70" fill="#163C16"/>
<rect x="455.90" y="289.90" width="36.20" height="1.40" fill="#164616"/>
<rect x="455.90" y="290.70" width="36.20" height="1.70" fill="#168B16"/>
<rect x="455.90" y="291.80" width="36.20" height="1.40" fill="#16B516"/>
<rect x="455.90" y="292.60" width="36.20" height="2.00" fill="#16B316"/>
<rect x="455.90" y="294.00" width="36.20" height="1.30" fill="#169C16"/>
<rect x="455.90" y="294.70" width="36.20" height="1.40" fill="#165016"/>
<rect x="455.90" y="295.50" width="36.20" height="1.70" fill="#165C16"/>
<rect x="455.90" y="296.60" width="36.20" height="2.40" fill="#16C116"/>
<rect x="455.90" y="298.40" width="36.20" height="2.80" fill="#16C616"/>
<rect x="455.90" y="300.60" width="36.20" height="2.40" fill="#2D1E14"/>
<rect x="455.90" y="302.40" width="36.20" height="1.50" fill="#201E14"/>
<rect x="455.90" y="303.30" width="36.20" height="1.70" fill="#551212"/>
<rect x="455.90" y="304.40" width="36.20" height="1.40" fill="#5B1212"/>
<rect x="455.90" y="305.20" width="36.20" height="1.70" fill="#4D1212"/>
<rect x="455.90" y="306.30" width="36.20" height="2.00" fill="#4A1212"/>
<rect x="455.90" y="307.70" width="36.20" height="2.00" fill="#3F1212"/>
<rect x="455.90" y="309.10" width="36.20" height="2.10" fill="#3C1212"/>
<rect x="455.90" y="310.60" width="36.20" height="1.70" fill="#231F19"/>
<rect x="455.90" y="311.70" width="36.20" height="1.50" fill="#232519"/>
<rect x="455.90" y="312.60" width="36.20" height="2.00" fill="#5A1212"/>
<rect x="455.90" y="314.00" width="36.20" height="2.00" fill="#721212"/>
<rect x="455.90" y="315.40" width="36.20" height="1.40" fill="#6C1212"/>
<rect x="455.90" y="316.20" width="36.20" height="2.40" fill="#5A1212"/>
<rect x="455.90" y="318.00" width="36.20" height="2.00" fill="#771212"/>
<rect x="455.90" y="319.40" width="36.20" height="2.40" fill="#741212"/>
<rect x="455.90" y="321.20" width="36.20" height="2.00" fill="#741212"/>
<rect x="455.90" y="322.60" width="36.20" height="1.70" fill="#5C1212"/>
<rect x="455.90" y="323.70" width="36.20" height="2.00" fill="#721212"/>
<rect x="455.90" y="325.10" width="36.20" height="1.40" fill="#531212"/>
<rect x="455.90" y="325.90" width="36.20" height="2.40" fill="#601212"/>
<rect x="455.90" y="327.70" width="36.20" height="2.20" fill="#551212"/>
<rect x="455.90" y="329.30" width="36.20" height="2.00" fill="#421914"/>
<rect x="455.90" y="330.70" width="36.20" height="1.40" fill="#3E1914"/>
<rect x="455.90" y="331.50" width="36.20" height="2.00" fill="#3B1914"/>
<rect x="455.90" y="332.90" width="36.20" height="2.00" fill="#3B1914"/>
<rect x="455.90" y="334.30" width="36.20" height="1.70" fill="#3E1914"/>
<rect x="455.90" y="335.40" width="36.20" height="2.50" fill="#291914"/>
<rect x="455.90" y="337.30" width="36.20" height="1.70" fill="#421212"/>
<rect x="455.90" y="338.40" width="36.20" height="1.40" fill="#531212"/>
<rect x="455.90" y="339.20" width="36.20" height="2.40" fill="#551212"/>
<rect x="455.90" y="341.00" width="36.20" height="2.40" fill="#511212"/>
<rect x="455.90" y="342.80" width="36.20" height="2.00" fill="#551212"/>
<rect x="455.90" y="344.20" width="36.20" height="1.40" fill="#531212"/>
<rect x="455.90" y="345.00" width="36.20" height="1.40" fill="#4A1914"/>
<rect x="455.90" y="345.80" width="36.20" height="1.80" fill="#421914"/>
<rect x="455.90" y="347.00" width="36.20" height="2.40" fill="#163716"/>
<rect x="455.90" y="348.80" width="36.20" height="2.10" fill="#164C16"/>
<rect x="455.90" y="350.30" width="36.20" height="1.40" fill="#3C1212"/>
<rect x="455.90" y="351.10" width="36.20" height="2.00" fill="#1E1C19"/>
<rect x="455.90" y="352.50" width="36.20" height="1.70" fill="#331212"/>
<rect x="455.90" y="353.60" width="36.20" height="1.40" fill="#5C1212"/>
<rect x="455.90" y="354.40" width="36.20" height="1.40" fill="#1E2419"/>
<rect x="455.90" y="355.20" width="36.20" height="2.40" fill="#3D1212"/>
<rect x="455.90" y="357.00" width="36.20" height="1.40" fill="#4B1212"/>
<rect x="455.90" y="357.80" width="36.20" height="1.40" fill="#1E2519"/>
<rect x="455.90" y="358.60" width="36.20" height="1.40" fill="#1E2119"/>
<rect x="455.90" y="359.40" width="36.20" height="2.00" fill="#1E2019"/>
<rect x="455.90" y="360.80" width="36.20" height="2.40" fill="#5F1212"/>
<rect x="455.90" y="362.60" width="36.20" height="1.40" fill="#4D1212"/>
<rect x="455.90" y="363.40" width="36.20" height="2.00" fill="#581212"/>
<rect x="455.90" y="364.80" width="36.20" height="1.70" fill="#1E2919"/>
<rect x="455.90" y="365.90" width="36.20" height="2.00" fill="#1E2719"/>
<rect x="455.90" y="367.30" width="36.20" height="2.40" fill="#1E1A19"/>
<rect x="455.90" y="369.10" width="36.20" height="1.80" fill="#1E2A19"/>
<rect x="455.90" y="370.30" width="36.20" height="1.40" fill="#163416"/>
<rect x="455.90" y="371.10" width="36.20" height="2.00" fill="#164616"/>
<rect x="455.90" y="372.50" width="36.20" height="1.70" fill="#163516"/>
<rect x="455.90" y="373.60" width="36.20" height="1.70" fill="#261914"/>
<rect x="455.90" y="374.70" width="36.20" height="1.70" fill="#2F1914"/>
<rect x="455.90" y="375.80" width="36.20" height="1.40" fill="#5D1212"/>
<rect x="455.90" y="376.60" width="36.20" height="1.40" fill="#3D1212"/>
<rect x="455.90" y="377.40" width="36.20" height="1.40" fill="#511212"/>
<rect x="455.90" y="378.20" width="36.20" height="2.40" fill="#461212"/>
<rect x="455.90" y="380.00" width="36.20" height="1.70" fill="#4D1212"/>
<rect x="455.90" y="381.10" width="36.20" height="2.00" fill="#4E1212"/>
<rect x="455.90" y="382.50" width="36.20" height="1.40" fill="#5C1212"/>
<rect x="455.90" y="383.30" width="36.20" height="2.40" fill="#331914"/>
<rect x="455.90" y="385.10" width="36.20" height="1.40" fill="#5F1212"/>
<rect x="455.90" y="385.90" width="36.20" height="2.00" fill="#5C1212"/>
<rect x="455.90" y="387.30" width="36.20" height="2.00" fill="#561212"/>
<rect x="455.90" y="388.70" width="36.20" height="1.40" fill="#1D1914"/>
<rect x="455.90" y="389.50" width="36.20" height="1.70" fill="#291914"/>
<rect x="455.90" y="390.60" width="36.20" height="2.40" fill="#191914"/>
<rect x="455.90" y="392.40" width="36.20" height="2.00" fill="#481212"/>
<rect x="455.90" y="393.80" width="36.20" height="2.40" fill="#1D1914"/>
<rect x="455.90" y="395.60" width="36.20" height="2.00" fill="#165C16"/>
<rect x="455.90" y="397.00" width="36.20" height="1.40" fill="#165F16"/>
<rect x="455.90" y="397.80" width="36.20" height="2.40" fill="#165816"/>
<rect x="455.90" y="399.60" width="36.20" height="2.40" fill="#163516"/>
<rect x="455.90" y="401.40" width="36.20" height="1.50" fill="#163E16"/>
<rect x="455.90" y="402.30" width="36.20" height="2.40" fill="#167D16"/>
<rect x="455.90" y="404.10" width="36.20" height="2.50" fill="#168516"/>
<rect x="455.90" y="406.00" width="36.20" height="2.40" fill="#165116"/>
<rect x="455.90" y="407.80" width="36.20" height="1.50" fill="#165D16"/>
<rect x="455.90" y="408.70" width="36.20" height="1.70" fill="#2A1212"/>
<rect x="455.90" y="409.80" width="36.20" height="1.70" fill="#1E2719"/>
<rect x="455.90" y="410.90" width="36.20" height="2.00" fill="#3B1212"/>
<rect x="455.90" y="412.30" width="36.20" height="1.70" fill="#1E4019"/>
<rect x="455.90" y="413.40" width="36.20" height="2.00" fill="#1E2619"/>
<rect x="455.90" y="414.80" width="36.20" height="2.50" fill="#1E3A19"/>
<rect x="455.90" y="416.70" width="36.20" height="1.40" fill="#371212"/>
<rect x="455.90" y="417.50" width="36.20" height="2.40" fill="#3E1212"/>
<rect x="455.90" y="419.30" width="36.20" height="1.90" fill="#471212"/>
<rect x="455.90" y="420.60" width="36.20" height="1.40" fill="#164D16"/>
<rect x="455.90" y="421.40" width="36.20" height="1.40" fill="#166016"/>
<rect x="455.90" y="422.20" width="36.20" height="1.40" fill="#165716"/>
<rect x="455.90" y="423.00" width="36.20" height="2.40" fill="#164216"/>
<rect x="455.90" y="424.80" width="36.20" height="1.40" fill="#165416"/>
<rect x="455.90" y="425.60" width="36.20" height="2.30" fill="#164216"/>
<rect x="455.90" y="427.30" width="36.20" height="1.70" fill="#281E14"/>
<rect x="455.90" y="428.40" width="36.20" height="1.70" fill="#371212"/>
<rect x="455.90" y="429.50" width="36.20" height="2.40" fill="#3C1E14"/>
<rect x="455.90" y="431.30" width="36.20" height="1.90" fill="#291E14"/>
<rect x="455.90" y="432.60" width="36.20" height="1.40" fill="#163116"/>
<rect x="455.90" y="433.40" width="36.20" height="1.40" fill="#163E16"/>
<rect x="455.90" y="434.20" width="36.20" height="2.40" fill="#163A16"/>
<rect x="455.90" y="436.00" width="36.20" height="2.00" fill="#164716"/>
<rect x="455.90" y="437.40" width="36.20" height="1.20" fill="#163D16"/>
<rect x="455.90" y="438.00" width="36.20" height="2.40" fill="#163116"/>
<rect x="455.90" y="439.80" width="36.20" height="2.00" fill="#251E14"/>
<rect x="455.90" y="441.20" width="36.20" height="1.70" fill="#1E1E14"/>
<rect x="455.90" y="442.30" width="36.20" height="1.40" fill="#201E14"/>
<rect x="455.90" y="443.10" width="36.20" height="2.40" fill="#163716"/>
<rect x="455.90" y="444.90" width="36.20" height="1.70" fill="#163916"/>
<rect x="455.90" y="446.00" width="36.20" height="2.00" fill="#4B1212"/>
<rect x="455.90" y="447.40" width="36.20" height="2.00" fill="#162216"/>
<rect x="455.90" y="448.80" width="36.20" height="2.40" fill="#391212"/>
<rect x="455.90" y="450.60" width="36.20" height="2.40" fill="#271212"/>
<rect x="455.90" y="452.40" width="36.20" height="1.40" fill="#481212"/>
<rect x="455.90" y="453.20" width="36.20" height="1.40" fill="#441212"/>
<rect x="455.90" y="454.00" width="36.20" height="1.70" fill="#163316"/>
<rect x="455.90" y="455.10" width="36.20" height="2.40" fill="#4F1212"/>
<rect x="455.90" y="456.90" width="36.20" height="2.00" fill="#163E16"/>
<rect x="455.90" y="458.30" width="36.20" height="2.00" fill="#162216"/>
<rect x="455.90" y="459.70" width="36.20" height="1.40" fill="#164116"/>
<rect x="455.90" y="460.50" width="36.20" height="2.00" fill="#163D16"/>
<rect x="455.90" y="461.90" width="36.20" height="1.70" fill="#163516"/>
<rect x="455.90" y="463.00" width="36.20" height="2.00" fill="#411212"/>
<rect x="455.90" y="464.40" width="36.20" height="1.70" fill="#163716"/>
<rect x="455.90" y="465.50" width="36.20" height="2.10" fill="#164B16"/>
<rect x="455.90" y="467.00" width="36.20" height="1.40" fill="#165D16"/>
<rect x="455.90" y="467.80" width="36.20" height="1.70" fill="#164516"/>
<rect x="455.90" y="468.90" width="36.20" height="2.70" fill="#164916"/>
<rect x="455.90" y="471.00" width="36.20" height="1.70" fill="#2C1E14"/>
<rect x="455.90" y="472.10" width="36.20" height="2.10" fill="#211E14"/>
<rect x="455.90" y="473.60" width="36.20" height="2.00" fill="#164616"/>
<rect x="455.90" y="475.00" width="36.20" height="2.40" fill="#164216"/>
<rect x="455.90" y="476.80" width="36.20" height="1.70" fill="#165316"/>
<rect x="455.90" y="477.90" width="36.20" height="1.40" fill="#164B16"/>
<rect x="455.90" y="478.70" width="36.20" height="2.20" fill="#163216"/>
<rect x="455.90" y="480.30" width="36.20" height="1.70" fill="#3D1212"/>
<rect x="455.90" y="481.40" width="36.20" height="1.50" fill="#4F1212"/>
<rect x="455.90" y="482.30" width="36.20" height="2.00" fill="#1E2014"/>
<rect x="455.90" y="483.70" width="36.20" height="1.40" fill="#1E2314"/>
<rect x="455.90" y="484.50" width="36.20" height="1.10" fill="#1E1E14"/>
<rect x="455.90" y="485.00" width="36.20" height="1.40" fill="#411212"/>
<rect x="455.90" y="485.80" width="36.20" height="1.40" fill="#291914"/>
<rect x="455.90" y="486.60" width="36.20" height="2.00" fill="#251914"/>
<rect x="455.90" y="488.00" width="36.20" height="2.00" fill="#371914"/>
<rect x="455.90" y="489.40" width="36.20" height="1.70" fill="#541212"/>
<rect x="455.90" y="490.50" width="36.20" height="2.00" fill="#621212"/>
<rect x="455.90" y="491.90" width="36.20" height="1.70" fill="#691212"/>
<rect x="455.90" y="493.00" width="36.20" height="2.00" fill="#301914"/>
<rect x="455.90" y="494.40" width="36.20" height="2.50" fill="#521212"/>
<rect x="455.90" y="496.30" width="36.20" height="1.40" fill="#7F1212"/>
<rect x="455.90" y="497.10" width="36.20" height="1.70" fill="#7D1212"/>
<rect x="455.90" y="498.20" width="36.20" height="2.00" fill="#791212"/>
<rect x="455.90" y="499.60" width="36.20" height="2.60" fill="#801212"/>
<rect x="455.90" y="501.60" width="36.20" height="2.00" fill="#271212"/>
<rect x="455.90" y="503.00" width="36.20" height="1.40" fill="#491212"/>
<rect x="455.90" y="503.80" width="36.20" height="1.70" fill="#281212"/>
<rect x="455.90" y="504.90" width="36.20" height="1.70" fill="#3B1212"/>
<rect x="455.90" y="506.00" width="36.20" height="1.60" fill="#2D1212"/>
<rect x="455.90" y="507.00" width="36.20" height="2.00" fill="#8C1212"/>
<rect x="455.90" y="508.40" width="36.20" height="2.00" fill="#6B1212"/>
<rect x="455.90" y="509.80" width="36.20" height="1.40" fill="#941212"/>
<rect x="455.90" y="510.60" width="36.20" height="1.70" fill="#6C1212"/>
<rect x="455.90" y="511.70" width="36.20" height="1.20" fill="#A41212"/>
<rect x="455.90" y="512.30" width="36.20" height="2.40" fill="#261E14"/>
<rect x="455.90" y="514.10" width="36.20" height="2.00" fill="#2C1E14"/>
<rect x="455.90" y="515.50" width="36.20" height="2.00" fill="#261E14"/>
<rect x="455.90" y="516.90" width="36.20" height="1.30" fill="#2A1E14"/>
<rect x="455.90" y="517.60" width="36.20" height="2.00" fill="#164116"/>
<rect x="455.90" y="519.00" width="36.20" height="1.90" fill="#165B16"/>
<rect x="455.90" y="520.30" width="36.20" height="2.00" fill="#381914"/>
<rect x="455.90" y="521.70" width="36.20" height="2.00" fill="#351914"/>
<rect x="455.90" y="523.10" width="36.20" height="1.80" fill="#3D1914"/>
<rect x="455.90" y="524.30" width="36.20" height="1.40" fill="#165F16"/>
<rect x="455.90" y="525.10" width="36.20" height="2.00" fill="#166116"/>
<rect x="455.90" y="526.50" width="36.20" height="1.70" fill="#165816"/>
<rect x="455.90" y="527.60" width="36.20" height="1.20" fill="#164B16"/>
<rect x="274.9" y="276.2" width="108.90" height="6.8" fill="#0AD0DE"/>
<rect x="383.8" y="276.2" width="108.30" height="6.8" fill="#F98E86"/>
<line x1="329.20" y1="276.00" x2="329.20" y2="267.90" stroke="#555" stroke-width="0.75" />
<line x1="365.40" y1="276.00" x2="365.40" y2="267.90" stroke="#555" stroke-width="0.75" />
<line x1="329.20" y1="267.90" x2="365.40" y2="267.90" stroke="#555" stroke-width="0.75" />
<line x1="293.00" y1="276.00" x2="293.00" y2="265.60" stroke="#555" stroke-width="0.75" />
<line x1="347.30" y1="267.90" x2="347.30" y2="265.60" stroke="#555" stroke-width="0.75" />
<line x1="293.00" y1="265.60" x2="347.30" y2="265.60" stroke="#555" stroke-width="0.75" />
<line x1="437.80" y1="276.00" x2="437.80" y2="263.30" stroke="#555" stroke-width="0.75" />
<line x1="474.00" y1="276.00" x2="474.00" y2="263.30" stroke="#555" stroke-width="0.75" />
<line x1="437.80" y1="263.30" x2="474.00" y2="263.30" stroke="#555" stroke-width="0.75" />
<line x1="401.60" y1="276.00" x2="401.60" y2="254.90" stroke="#555" stroke-width="0.75" />
<line x1="455.90" y1="263.30" x2="455.90" y2="254.90" stroke="#555" stroke-width="0.75" />
<line x1="401.60" y1="254.90" x2="455.90" y2="254.90" stroke="#555" stroke-width="0.75" />
<line x1="320.15" y1="265.60" x2="320.15" y2="243.70" stroke="#555" stroke-width="0.75" />
<line x1="428.75" y1="254.90" x2="428.75" y2="243.70" stroke="#555" stroke-width="0.75" />
<line x1="320.15" y1="243.70" x2="428.75" y2="243.70" stroke="#555" stroke-width="0.75" />
<defs><linearGradient id="dg" x1="0" y1="0" x2="1" y2="0"><stop offset="0" stop-color="#000" stop-opacity="0"/><stop offset="0.7" stop-color="#000" stop-opacity="0.55"/><stop offset="1" stop-color="#000" stop-opacity="0.95"/></linearGradient></defs>
<rect x="264.5" y="284.00" width="10.40" height="245.30" fill="url(#dg)"/>
<path d="M272.4 284.8L272.4 285.4M272.4 284.8L274.9 284.8M272.4 285.4L274.9 285.4M271.0 286.5L271.0 287.1M271.0 286.5L274.9 286.5M271.0 287.1L274.9 287.1M269.3 286.0L269.3 286.8M269.3 286.0L274.9 286.0M269.3 286.8L271.0 286.8M267.2 285.1L267.2 286.4M267.2 285.1L272.4 285.1M267.2 286.4L269.3 286.4M271.4 288.3L271.4 288.9M271.4 288.3L274.9 288.3M271.4 288.9L274.9 288.9M269.1 287.7L269.1 288.6M269.1 287.7L274.9 287.7M269.1 288.6L271.4 288.6M264.6 285.7L264.6 288.1M264.6 285.7L267.2 285.7M264.6 288.1L269.1 288.1M272.0 290.0L272.0 290.6M272.0 290.0L274.9 290.0M272.0 290.6L274.9 290.6M270.4 289.5L270.4 290.3M270.4 289.5L274.9 289.5M270.4 290.3L272.0 290.3M268.3 289.9L268.3 291.2M268.3 289.9L270.4 289.9M268.3 291.2L274.9 291.2M271.6 291.8L271.6 292.4M271.6 291.8L274.9 291.8M271.6 292.4L274.9 292.4M271.2 292.9L271.2 293.5M271.2 292.9L274.9 292.9M271.2 293.5L274.9 293.5M271.0 294.1L271.0 294.7M271.0 294.1L274.9 294.1M271.0 294.7L274.9 294.7M268.7 293.2L268.7 294.4M268.7 293.2L271.2 293.2M268.7 294.4L271.0 294.4M265.9 292.1L265.9 293.8M265.9 292.1L271.6 292.1M265.9 293.8L268.7 293.8M265.2 290.5L265.2 292.9M265.2 290.5L268.3 290.5M265.2 292.9L265.9 292.9M261.0 286.9L261.0 291.7M261.0 286.9L264.6 286.9M261.0 291.7L265.2 291.7M271.2 295.9L271.2 296.4M271.2 295.9L274.9 295.9M271.2 296.4L274.9 296.4M269.2 296.1L269.2 297.0M269.2 296.1L271.2 296.1M269.2 297.0L274.9 297.0M268.7 295.3L268.7 296.6M268.7 295.3L274.9 295.3M268.7 296.6L269.2 296.6M270.9 297.6L270.9 298.2M270.9 297.6L274.9 297.6M270.9 298.2L274.9 298.2M266.7 295.9L266.7 297.9M266.7 295.9L268.7 295.9M266.7 297.9L270.9 297.9M271.1 300.5L271.1 301.1M271.1 300.5L274.9 300.5M271.1 301.1L274.9 301.1M269.8 299.9L269.8 300.8M269.8 299.9L274.9 299.9M269.8 300.8L271.1 300.8M269.1 299.3L269.1 300.4M269.1 299.3L274.9 299.3M269.1 300.4L269.8 300.4M267.7 298.8L267.7 299.8M267.7 298.8L274.9 298.8M267.7 299.8L269.1 299.8M271.2 301.7L271.2 302.2M271.2 301.7L274.9 301.7M271.2 302.2L274.9 302.2M271.5 302.8L271.5 303.4M271.5 302.8L274.9 302.8M271.5 303.4L274.9 303.4M269.3 302.0L269.3 303.1M269.3 302.0L271.2 302.0M269.3 303.1L271.5 303.1M271.7 304.0L271.7 304.6M271.7 304.0L274.9 304.0M271.7 304.6L274.9 304.6M269.1 304.3L269.1 305.2M269.1 304.3L271.7 304.3M269.1 305.2L274.9 305.2M271.1 305.7L271.1 306.3M271.1 305.7L274.9 305.7M271.1 306.3L274.9 306.3M267.3 304.7L267.3 306.0M267.3 304.7L269.1 304.7M267.3 306.0L271.1 306.0M264.5 302.5L264.5 305.4M264.5 302.5L269.3 302.5M264.5 305.4L267.3 305.4M263.6 299.3L263.6 304.0M263.6 299.3L267.7 299.3M263.6 304.0L264.5 304.0M260.4 296.9L260.4 301.6M260.4 296.9L266.7 296.9M260.4 301.6L263.6 301.6M271.4 307.5L271.4 308.1M271.4 307.5L274.9 307.5M271.4 308.1L274.9 308.1M270.3 306.9L270.3 307.8M270.3 306.9L274.9 306.9M270.3 307.8L271.4 307.8M271.6 308.6L271.6 309.2M271.6 308.6L274.9 308.6M271.6 309.2L274.9 309.2M270.4 308.9L270.4 309.8M270.4 308.9L271.6 308.9M270.4 309.8L274.9 309.8M272.0 310.4L272.0 311.0M272.0 310.4L274.9 310.4M272.0 311.0L274.9 311.0M270.0 310.7L270.0 311.6M270.0 310.7L272.0 310.7M270.0 311.6L274.9 311.6M270.7 312.1L270.7 312.7M270.7 312.1L274.9 312.1M270.7 312.7L274.9 312.7M267.0 311.1L267.0 312.4M267.0 311.1L270.0 311.1M267.0 312.4L270.7 312.4M265.8 309.4L265.8 311.8M265.8 309.4L270.4 309.4M265.8 311.8L267.0 311.8M264.6 307.3L264.6 310.6M264.6 307.3L270.3 307.3M264.6 310.6L265.8 310.6M259.5 299.3L259.5 309.0M259.5 299.3L260.4 299.3M259.5 309.0L264.6 309.0M257.1 289.3L257.1 304.1M257.1 289.3L261.0 289.3M257.1 304.1L259.5 304.1M271.1 313.3L271.1 313.9M271.1 313.3L274.9 313.3M271.1 313.9L274.9 313.9M272.0 315.0L272.0 315.6M272.0 315.0L274.9 315.0M272.0 315.6L274.9 315.6M270.6 314.5L270.6 315.3M270.6 314.5L274.9 314.5M270.6 315.3L272.0 315.3M267.2 313.6L267.2 314.9M267.2 313.6L271.1 313.6M267.2 314.9L270.6 314.9M271.3 316.2L271.3 316.8M271.3 316.2L274.9 316.2M271.3 316.8L274.9 316.8M271.5 318.0L271.5 318.5M271.5 318.0L274.9 318.0M271.5 318.5L274.9 318.5M269.8 317.4L269.8 318.2M269.8 317.4L274.9 317.4M269.8 318.2L271.5 318.2M272.4 319.1L272.4 319.7M272.4 319.1L274.9 319.1M272.4 319.7L274.9 319.7M267.0 317.8L267.0 319.4M267.0 317.8L269.8 317.8M267.0 319.4L272.4 319.4M266.3 316.5L266.3 318.6M266.3 316.5L271.3 316.5M266.3 318.6L267.0 318.6M263.1 314.2L263.1 317.6M263.1 314.2L267.2 314.2M263.1 317.6L266.3 317.6M270.9 320.3L270.9 320.9M270.9 320.3L274.9 320.3M270.9 320.9L274.9 320.9M271.6 321.4L271.6 322.0M271.6 321.4L274.9 321.4M271.6 322.0L274.9 322.0M271.3 322.6L271.3 323.2M271.3 322.6L274.9 322.6M271.3 323.2L274.9 323.2M270.2 322.9L270.2 323.8M270.2 322.9L271.3 322.9M270.2 323.8L274.9 323.8M267.2 321.7L267.2 323.3M267.2 321.7L271.6 321.7M267.2 323.3L270.2 323.3M266.7 320.6L266.7 322.5M266.7 320.6L270.9 320.6M266.7 322.5L267.2 322.5M262.0 315.9L262.0 321.6M262.0 315.9L263.1 315.9M262.0 321.6L266.7 321.6M271.1 324.4L271.1 324.9M271.1 324.4L274.9 324.4M271.1 324.9L274.9 324.9M268.9 324.6L268.9 325.5M268.9 324.6L271.1 324.6M268.9 325.5L274.9 325.5M270.7 326.1L270.7 326.7M270.7 326.1L274.9 326.1M270.7 326.7L274.9 326.7M271.6 327.3L271.6 327.8M271.6 327.3L274.9 327.3M271.6 327.8L274.9 327.8M271.2 328.4L271.2 329.0M271.2 328.4L274.9 328.4M271.2 329.0L274.9 329.0M268.3 327.5L268.3 328.7M268.3 327.5L271.6 327.5M268.3 328.7L271.2 328.7M267.0 326.4L267.0 328.1M267.0 326.4L270.7 326.4M267.0 328.1L268.3 328.1M265.4 325.1L265.4 327.3M265.4 325.1L268.9 325.1M265.4 327.3L267.0 327.3M271.7 330.7L271.7 331.3M271.7 330.7L274.9 330.7M271.7 331.3L274.9 331.3M270.4 330.2L270.4 331.0M270.4 330.2L274.9 330.2M270.4 331.0L271.7 331.0M268.2 329.6L268.2 330.6M268.2 329.6L274.9 329.6M268.2 330.6L270.4 330.6M271.7 331.9L271.7 332.5M271.7 331.9L274.9 331.9M271.7 332.5L274.9 332.5M271.4 333.7L271.4 334.2M271.4 333.7L274.9 333.7M271.4 334.2L274.9 334.2M268.9 333.1L268.9 333.9M268.9 333.1L274.9 333.1M268.9 333.9L271.4 333.9M268.3 332.2L268.3 333.5M268.3 332.2L271.7 332.2M268.3 333.5L268.9 333.5M264.7 330.1L264.7 332.9M264.7 330.1L268.2 330.1M264.7 332.9L268.3 332.9M271.7 334.8L271.7 335.4M271.7 334.8L274.9 334.8M271.7 335.4L274.9 335.4M270.4 335.1L270.4 336.0M270.4 335.1L271.7 335.1M270.4 336.0L274.9 336.0M272.3 336.6L272.3 337.1M272.3 336.6L274.9 336.6M272.3 337.1L274.9 337.1M270.2 336.9L270.2 337.7M270.2 336.9L272.3 336.9M270.2 337.7L274.9 337.7M266.8 335.5L266.8 337.3M266.8 335.5L270.4 335.5M266.8 337.3L270.2 337.3M271.8 338.9L271.8 339.5M271.8 338.9L274.9 338.9M271.8 339.5L274.9 339.5M270.5 339.2L270.5 340.1M270.5 339.2L271.8 339.2M270.5 340.1L274.9 340.1M269.1 338.3L269.1 339.6M269.1 338.3L274.9 338.3M269.1 339.6L270.5 339.6M272.2 340.6L272.2 341.2M272.2 340.6L274.9 340.6M272.2 341.2L274.9 341.2M270.3 340.9L270.3 341.8M270.3 340.9L272.2 340.9M270.3 341.8L274.9 341.8M265.4 339.0L265.4 341.4M265.4 339.0L269.1 339.0M265.4 341.4L270.3 341.4M262.8 336.4L262.8 340.2M262.8 336.4L266.8 336.4M262.8 340.2L265.4 340.2M260.4 331.5L260.4 338.3M260.4 331.5L264.7 331.5M260.4 338.3L262.8 338.3M259.8 326.2L259.8 334.9M259.8 326.2L265.4 326.2M259.8 334.9L260.4 334.9M256.2 318.7L256.2 330.5M256.2 318.7L262.0 318.7M256.2 330.5L259.8 330.5M254.2 296.7L254.2 324.6M254.2 296.7L257.1 296.7M254.2 324.6L256.2 324.6M271.7 342.4L271.7 343.0M271.7 342.4L274.9 342.4M271.7 343.0L274.9 343.0M271.6 343.5L271.6 344.1M271.6 343.5L274.9 343.5M271.6 344.1L274.9 344.1M268.5 342.7L268.5 343.8M268.5 342.7L271.7 342.7M268.5 343.8L271.6 343.8M271.0 344.7L271.0 345.3M271.0 344.7L274.9 344.7M271.0 345.3L274.9 345.3M267.4 343.3L267.4 345.0M267.4 343.3L268.5 343.3M267.4 345.0L271.0 345.0M272.0 345.9L272.0 346.5M272.0 345.9L274.9 345.9M272.0 346.5L274.9 346.5M271.2 347.0L271.2 347.6M271.2 347.0L274.9 347.0M271.2 347.6L274.9 347.6M268.7 346.2L268.7 347.3M268.7 346.2L272.0 346.2M268.7 347.3L271.2 347.3M271.8 348.2L271.8 348.8M271.8 348.2L274.9 348.2M271.8 348.8L274.9 348.8M266.9 346.7L266.9 348.5M266.9 346.7L268.7 346.7M266.9 348.5L271.8 348.5M271.5 349.4L271.5 349.9M271.5 349.4L274.9 349.4M271.5 349.9L274.9 349.9M270.4 349.7L270.4 350.5M270.4 349.7L271.5 349.7M270.4 350.5L274.9 350.5M265.4 347.6L265.4 350.1M265.4 347.6L266.9 347.6M265.4 350.1L270.4 350.1M262.1 344.1L262.1 348.9M262.1 344.1L267.4 344.1M262.1 348.9L265.4 348.9M271.0 351.1L271.0 351.7M271.0 351.1L274.9 351.1M271.0 351.7L274.9 351.7M270.3 351.4L270.3 352.3M270.3 351.4L271.0 351.4M270.3 352.3L274.9 352.3M271.9 352.8L271.9 353.4M271.9 352.8L274.9 352.8M271.9 353.4L274.9 353.4M267.7 351.8L267.7 353.1M267.7 351.8L270.3 351.8M267.7 353.1L271.9 353.1M271.7 354.0L271.7 354.6M271.7 354.0L274.9 354.0M271.7 354.6L274.9 354.6M268.9 354.3L268.9 355.2M268.9 354.3L271.7 354.3M268.9 355.2L274.9 355.2M267.8 354.7L267.8 355.8M267.8 354.7L268.9 354.7M267.8 355.8L274.9 355.8M267.3 355.2L267.3 356.3M267.3 355.2L267.8 355.2M267.3 356.3L274.9 356.3M264.5 352.5L264.5 355.8M264.5 352.5L267.7 352.5M264.5 355.8L267.3 355.8M270.8 357.5L270.8 358.1M270.8 357.5L274.9 357.5M270.8 358.1L274.9 358.1M269.9 356.9L269.9 357.8M269.9 356.9L274.9 356.9M269.9 357.8L270.8 357.8M262.5 354.1L262.5 357.4M262.5 354.1L264.5 354.1M262.5 357.4L269.9 357.4M271.9 359.8L271.9 360.4M271.9 359.8L274.9 359.8M271.9 360.4L274.9 360.4M270.1 359.2L270.1 360.1M270.1 359.2L274.9 359.2M270.1 360.1L271.9 360.1M269.2 358.7L269.2 359.7M269.2 358.7L274.9 358.7M269.2 359.7L270.1 359.7M272.4 361.0L272.4 361.6M272.4 361.0L274.9 361.0M272.4 361.6L274.9 361.6M271.4 362.2L271.4 362.7M271.4 362.2L274.9 362.2M271.4 362.7L274.9 362.7M268.8 361.3L268.8 362.4M268.8 361.3L272.4 361.3M268.8 362.4L271.4 362.4M264.7 359.2L264.7 361.9M264.7 359.2L269.2 359.2M264.7 361.9L268.8 361.9M260.3 355.7L260.3 360.5M260.3 355.7L262.5 355.7M260.3 360.5L264.7 360.5M257.7 346.5L257.7 358.1M257.7 346.5L262.1 346.5M257.7 358.1L260.3 358.1M272.4 363.9L272.4 364.5M272.4 363.9L274.9 363.9M272.4 364.5L274.9 364.5M269.2 363.3L269.2 364.2M269.2 363.3L274.9 363.3M269.2 364.2L272.4 364.2M271.3 365.6L271.3 366.2M271.3 365.6L274.9 365.6M271.3 366.2L274.9 366.2M269.2 365.1L269.2 365.9M269.2 365.1L274.9 365.1M269.2 365.9L271.3 365.9M266.3 363.8L266.3 365.5M266.3 363.8L269.2 363.8M266.3 365.5L269.2 365.5M271.9 366.8L271.9 367.4M271.9 366.8L274.9 366.8M271.9 367.4L274.9 367.4M265.6 364.6L265.6 367.1M265.6 364.6L266.3 364.6M265.6 367.1L271.9 367.1M271.4 368.0L271.4 368.6M271.4 368.0L274.9 368.0M271.4 368.6L274.9 368.6M269.2 368.3L269.2 369.1M269.2 368.3L271.4 368.3M269.2 369.1L274.9 369.1M271.8 369.7L271.8 370.3M271.8 369.7L274.9 369.7M271.8 370.3L274.9 370.3M267.5 368.7L267.5 370.0M267.5 368.7L269.2 368.7M267.5 370.0L271.8 370.0M263.1 365.9L263.1 369.4M263.1 365.9L265.6 365.9M263.1 369.4L267.5 369.4M271.9 370.9L271.9 371.5M271.9 370.9L274.9 370.9M271.9 371.5L274.9 371.5M269.0 371.2L269.0 372.0M269.0 371.2L271.9 371.2M269.0 372.0L274.9 372.0M271.5 372.6L271.5 373.2M271.5 372.6L274.9 372.6M271.5 373.2L274.9 373.2M270.3 372.9L270.3 373.8M270.3 372.9L271.5 372.9M270.3 373.8L274.9 373.8M272.2 375.0L272.2 375.5M272.2 375.0L274.9 375.0M272.2 375.5L274.9 375.5M269.3 374.4L269.3 375.2M269.3 374.4L274.9 374.4M269.3 375.2L272.2 375.2M266.7 373.4L266.7 374.8M266.7 373.4L270.3 373.4M266.7 374.8L269.3 374.8M265.1 371.6L265.1 374.1M265.1 371.6L269.0 371.6M265.1 374.1L266.7 374.1M271.4 377.3L271.4 377.9M271.4 377.3L274.9 377.3M271.4 377.9L274.9 377.9M269.9 376.7L269.9 377.6M269.9 376.7L274.9 376.7M269.9 377.6L271.4 377.6M268.1 376.1L268.1 377.1M268.1 376.1L274.9 376.1M268.1 377.1L269.9 377.1M271.4 378.4L271.4 379.0M271.4 378.4L274.9 378.4M271.4 379.0L274.9 379.0M269.0 378.7L269.0 379.6M269.0 378.7L271.4 378.7M269.0 379.6L274.9 379.6M265.2 376.6L265.2 379.2M265.2 376.6L268.1 376.6M265.2 379.2L269.0 379.2M261.9 372.8L261.9 377.9M261.9 372.8L265.1 372.8M261.9 377.9L265.2 377.9M260.1 367.6L260.1 375.4M260.1 367.6L263.1 367.6M260.1 375.4L261.9 375.4M271.8 380.2L271.8 380.8M271.8 380.2L274.9 380.2M271.8 380.8L274.9 380.8M271.6 381.3L271.6 381.9M271.6 381.3L274.9 381.3M271.6 381.9L274.9 381.9M269.4 381.6L269.4 382.5M269.4 381.6L271.6 381.6M269.4 382.5L274.9 382.5M267.9 380.5L267.9 382.1M267.9 380.5L271.8 380.5M267.9 382.1L269.4 382.1M271.1 383.1L271.1 383.7M271.1 383.1L274.9 383.1M271.1 383.7L274.9 383.7M271.5 384.3L271.5 384.8M271.5 384.3L274.9 384.3M271.5 384.8L274.9 384.8M267.7 383.4L267.7 384.5M267.7 383.4L271.1 383.4M267.7 384.5L271.5 384.5M265.2 381.3L265.2 384.0M265.2 381.3L267.9 381.3M265.2 384.0L267.7 384.0M271.0 386.0L271.0 386.6M271.0 386.0L274.9 386.0M271.0 386.6L274.9 386.6M269.6 385.4L269.6 386.3M269.6 385.4L274.9 385.4M269.6 386.3L271.0 386.3M271.2 387.2L271.2 387.7M271.2 387.2L274.9 387.2M271.2 387.7L274.9 387.7M267.7 385.9L267.7 387.5M267.7 385.9L269.6 385.9M267.7 387.5L271.2 387.5M270.7 388.3L270.7 388.9M270.7 388.3L274.9 388.3M270.7 388.9L274.9 388.9M269.4 388.6L269.4 389.5M269.4 388.6L270.7 388.6M269.4 389.5L274.9 389.5M268.0 389.1L268.0 390.1M268.0 389.1L269.4 389.1M268.0 390.1L274.9 390.1M264.3 386.7L264.3 389.6M264.3 386.7L267.7 386.7M264.3 389.6L268.0 389.6M262.2 382.6L262.2 388.1M262.2 382.6L265.2 382.6M262.2 388.1L264.3 388.1M270.8 391.2L270.8 391.8M270.8 391.2L274.9 391.2M270.8 391.8L274.9 391.8M269.8 390.7L269.8 391.5M269.8 390.7L274.9 390.7M269.8 391.5L270.8 391.5M271.0 393.0L271.0 393.6M271.0 393.0L274.9 393.0M271.0 393.6L274.9 393.6M269.0 392.4L269.0 393.3M269.0 392.4L274.9 392.4M269.0 393.3L271.0 393.3M271.1 394.1L271.1 394.7M271.1 394.1L274.9 394.1M271.1 394.7L274.9 394.7M271.9 395.3L271.9 395.9M271.9 395.3L274.9 395.3M271.9 395.9L274.9 395.9M268.0 394.4L268.0 395.6M268.0 394.4L271.1 394.4M268.0 395.6L271.9 395.6M266.7 392.8L266.7 395.0M266.7 392.8L269.0 392.8M266.7 395.0L268.0 395.0M272.2 396.5L272.2 397.1M272.2 396.5L274.9 396.5M272.2 397.1L274.9 397.1M269.3 396.8L269.3 397.6M269.3 396.8L272.2 396.8M269.3 397.6L274.9 397.6M265.2 393.9L265.2 397.2M265.2 393.9L266.7 393.9M265.2 397.2L269.3 397.2M263.8 391.1L263.8 395.6M263.8 391.1L269.8 391.1M263.8 395.6L265.2 395.6M259.6 385.4L259.6 393.3M259.6 385.4L262.2 385.4M259.6 393.3L263.8 393.3M255.3 371.5L255.3 389.3M255.3 371.5L260.1 371.5M255.3 389.3L259.6 389.3M254.8 352.3L254.8 380.4M254.8 352.3L257.7 352.3M254.8 380.4L255.3 380.4M271.5 398.2L271.5 398.8M271.5 398.2L274.9 398.2M271.5 398.8L274.9 398.8M271.3 399.4L271.3 400.0M271.3 399.4L274.9 399.4M271.3 400.0L274.9 400.0M269.2 399.7L269.2 400.5M269.2 399.7L271.3 399.7M269.2 400.5L274.9 400.5M266.8 398.5L266.8 400.1M266.8 398.5L271.5 398.5M266.8 400.1L269.2 400.1M272.2 401.1L272.2 401.7M272.2 401.1L274.9 401.1M272.2 401.7L274.9 401.7M266.0 399.3L266.0 401.4M266.0 399.3L266.8 399.3M266.0 401.4L272.2 401.4M272.1 402.3L272.1 402.9M272.1 402.3L274.9 402.3M272.1 402.9L274.9 402.9M270.4 402.6L270.4 403.5M270.4 402.6L272.1 402.6M270.4 403.5L274.9 403.5M271.1 404.0L271.1 404.6M271.1 404.0L274.9 404.0M271.1 404.6L274.9 404.6M266.9 403.0L266.9 404.3M266.9 403.0L270.4 403.0M266.9 404.3L271.1 404.3M271.2 405.2L271.2 405.8M271.2 405.2L274.9 405.2M271.2 405.8L274.9 405.8M270.6 405.5L270.6 406.4M270.6 405.5L271.2 405.5M270.6 406.4L274.9 406.4M272.0 407.5L272.0 408.1M272.0 407.5L274.9 407.5M272.0 408.1L274.9 408.1M270.1 406.9L270.1 407.8M270.1 406.9L274.9 406.9M270.1 407.8L272.0 407.8M266.5 405.9L266.5 407.4M266.5 405.9L270.6 405.9M266.5 407.4L270.1 407.4M272.0 409.3L272.0 409.8M272.0 409.3L274.9 409.3M272.0 409.8L274.9 409.8M269.0 409.6L269.0 410.4M269.0 409.6L272.0 409.6M269.0 410.4L274.9 410.4M268.2 408.7L268.2 410.0M268.2 408.7L274.9 408.7M268.2 410.0L269.0 410.0M264.6 406.7L264.6 409.3M264.6 406.7L266.5 406.7M264.6 409.3L268.2 409.3M263.1 403.7L263.1 408.0M263.1 403.7L266.9 403.7M263.1 408.0L264.6 408.0M260.8 400.4L260.8 405.8M260.8 400.4L266.0 400.4M260.8 405.8L263.1 405.8M271.1 411.6L271.1 412.2M271.1 411.6L274.9 411.6M271.1 412.2L274.9 412.2M270.3 411.0L270.3 411.9M270.3 411.0L274.9 411.0M270.3 411.9L271.1 411.9M272.1 412.8L272.1 413.3M272.1 412.8L274.9 412.8M272.1 413.3L274.9 413.3M270.8 413.9L270.8 414.5M270.8 413.9L274.9 413.9M270.8 414.5L274.9 414.5M269.1 413.0L269.1 414.2M269.1 413.0L272.1 413.0M269.1 414.2L270.8 414.2M267.9 413.6L267.9 415.1M267.9 413.6L269.1 413.6M267.9 415.1L274.9 415.1M266.1 411.4L266.1 414.4M266.1 411.4L270.3 411.4M266.1 414.4L267.9 414.4M270.8 415.7L270.8 416.2M270.8 415.7L274.9 415.7M270.8 416.2L274.9 416.2M269.6 416.0L269.6 416.8M269.6 416.0L270.8 416.0M269.6 416.8L274.9 416.8M267.7 416.4L267.7 417.4M267.7 416.4L269.6 416.4M267.7 417.4L274.9 417.4M272.3 418.6L272.3 419.2M272.3 418.6L274.9 418.6M272.3 419.2L274.9 419.2M270.1 418.0L270.1 418.9M270.1 418.0L274.9 418.0M270.1 418.9L272.3 418.9M266.1 416.9L266.1 418.4M266.1 416.9L267.7 416.9M266.1 418.4L270.1 418.4M262.1 412.9L262.1 417.7M262.1 412.9L266.1 412.9M262.1 417.7L266.1 417.7M271.4 419.7L271.4 420.3M271.4 419.7L274.9 419.7M271.4 420.3L274.9 420.3M271.0 420.9L271.0 421.5M271.0 420.9L274.9 420.9M271.0 421.5L274.9 421.5M268.2 420.0L268.2 421.2M268.2 420.0L271.4 420.0M268.2 421.2L271.0 421.2M272.1 422.1L272.1 422.6M272.1 422.1L274.9 422.1M272.1 422.6L274.9 422.6M271.4 423.8L271.4 424.4M271.4 423.8L274.9 423.8M271.4 424.4L274.9 424.4M270.2 423.2L270.2 424.1M270.2 423.2L274.9 423.2M270.2 424.1L271.4 424.1M267.1 422.4L267.1 423.7M267.1 422.4L272.1 422.4M267.1 423.7L270.2 423.7M265.5 420.6L265.5 423.0M265.5 420.6L268.2 420.6M265.5 423.0L267.1 423.0M260.4 415.3L260.4 421.8M260.4 415.3L262.1 415.3M260.4 421.8L265.5 421.8M256.6 403.1L256.6 418.5M256.6 403.1L260.8 403.1M256.6 418.5L260.4 418.5M271.4 425.0L271.4 425.6M271.4 425.0L274.9 425.0M271.4 425.6L274.9 425.6M269.0 425.3L269.0 426.1M269.0 425.3L271.4 425.3M269.0 426.1L274.9 426.1M271.7 426.7L271.7 427.3M271.7 426.7L274.9 426.7M271.7 427.3L274.9 427.3M270.9 427.9L270.9 428.5M270.9 427.9L274.9 427.9M270.9 428.5L274.9 428.5M267.9 427.0L267.9 428.2M267.9 427.0L271.7 427.0M267.9 428.2L270.9 428.2M266.1 425.7L266.1 427.6M266.1 425.7L269.0 425.7M266.1 427.6L267.9 427.6M271.3 429.0L271.3 429.6M271.3 429.0L274.9 429.0M271.3 429.6L274.9 429.6M271.3 430.2L271.3 430.8M271.3 430.2L274.9 430.2M271.3 430.8L274.9 430.8M270.4 430.5L270.4 431.4M270.4 430.5L271.3 430.5M270.4 431.4L274.9 431.4M266.9 429.3L266.9 430.9M266.9 429.3L271.3 429.3M266.9 430.9L270.4 430.9M263.1 426.6L263.1 430.1M263.1 426.6L266.1 426.6M263.1 430.1L266.9 430.1M271.4 432.0L271.4 432.5M271.4 432.0L274.9 432.0M271.4 432.5L274.9 432.5M272.1 433.7L272.1 434.3M272.1 433.7L274.9 433.7M272.1 434.3L274.9 434.3M270.4 433.1L270.4 434.0M270.4 433.1L274.9 433.1M270.4 434.0L272.1 434.0M268.1 432.2L268.1 433.6M268.1 432.2L271.4 432.2M268.1 433.6L270.4 433.6M272.3 434.9L272.3 435.4M272.3 434.9L274.9 434.9M272.3 435.4L274.9 435.4M266.1 432.9L266.1 435.1M266.1 432.9L268.1 432.9M266.1 435.1L272.3 435.1M262.0 428.4L262.0 434.0M262.0 428.4L263.1 428.4M262.0 434.0L266.1 434.0M271.5 436.6L271.5 437.2M271.5 436.6L274.9 436.6M271.5 437.2L274.9 437.2M270.4 436.0L270.4 436.9M270.4 436.0L274.9 436.0M270.4 436.9L271.5 436.9M271.1 437.8L271.1 438.3M271.1 437.8L274.9 437.8M271.1 438.3L274.9 438.3M271.5 439.5L271.5 440.1M271.5 439.5L274.9 439.5M271.5 440.1L274.9 440.1M270.2 438.9L270.2 439.8M270.2 438.9L274.9 438.9M270.2 439.8L271.5 439.8M267.4 438.1L267.4 439.4M267.4 438.1L271.1 438.1M267.4 439.4L270.2 439.4M271.9 440.7L271.9 441.3M271.9 440.7L274.9 440.7M271.9 441.3L274.9 441.3M265.7 438.7L265.7 441.0M265.7 438.7L267.4 438.7M265.7 441.0L271.9 441.0M264.2 436.5L264.2 439.8M264.2 436.5L270.4 436.5M264.2 439.8L265.7 439.8M271.3 441.8L271.3 442.4M271.3 441.8L274.9 441.8M271.3 442.4L274.9 442.4M271.6 443.0L271.6 443.6M271.6 443.0L274.9 443.0M271.6 443.6L274.9 443.6M269.1 442.1L269.1 443.3M269.1 442.1L271.3 442.1M269.1 443.3L271.6 443.3M271.5 444.2L271.5 444.7M271.5 444.2L274.9 444.2M271.5 444.7L274.9 444.7M266.3 442.7L266.3 444.5M266.3 442.7L269.1 442.7M266.3 444.5L271.5 444.5M262.9 438.1L262.9 443.6M262.9 438.1L264.2 438.1M262.9 443.6L266.3 443.6M258.2 431.2L258.2 440.9M258.2 431.2L262.0 431.2M258.2 440.9L262.9 440.9M271.9 445.3L271.9 445.9M271.9 445.3L274.9 445.3M271.9 445.9L274.9 445.9M271.0 446.5L271.0 447.1M271.0 446.5L274.9 446.5M271.0 447.1L274.9 447.1M270.2 446.8L270.2 447.7M270.2 446.8L271.0 446.8M270.2 447.7L274.9 447.7M267.3 445.6L267.3 447.2M267.3 445.6L271.9 445.6M267.3 447.2L270.2 447.2M272.0 448.2L272.0 448.8M272.0 448.2L274.9 448.2M272.0 448.8L274.9 448.8M266.7 446.4L266.7 448.5M266.7 446.4L267.3 446.4M266.7 448.5L272.0 448.5M270.9 449.4L270.9 450.0M270.9 449.4L274.9 449.4M270.9 450.0L274.9 450.0M270.0 449.7L270.0 450.6M270.0 449.7L270.9 449.7M270.0 450.6L274.9 450.6M271.0 451.1L271.0 451.7M271.0 451.1L274.9 451.1M271.0 451.7L274.9 451.7M268.0 450.1L268.0 451.4M268.0 450.1L270.0 450.1M268.0 451.4L271.0 451.4M271.8 452.3L271.8 452.9M271.8 452.3L274.9 452.3M271.8 452.9L274.9 452.9M270.3 452.6L270.3 453.5M270.3 452.6L271.8 452.6M270.3 453.5L274.9 453.5M265.5 450.8L265.5 453.0M265.5 450.8L268.0 450.8M265.5 453.0L270.3 453.0M263.0 447.5L263.0 451.9M263.0 447.5L266.7 447.5M263.0 451.9L265.5 451.9M257.7 436.0L257.7 449.7M257.7 436.0L258.2 436.0M257.7 449.7L263.0 449.7M254.1 410.8L254.1 442.9M254.1 410.8L256.6 410.8M254.1 442.9L257.7 442.9M256.5 366.4L256.5 426.8M256.5 366.4L254.8 366.4M256.5 426.8L254.1 426.8M272.3 454.1L272.3 454.6M272.3 454.1L274.9 454.1M272.3 454.6L274.9 454.6M271.6 455.8L271.6 456.4M271.6 455.8L274.9 455.8M271.6 456.4L274.9 456.4M269.8 455.2L269.8 456.1M269.8 455.2L274.9 455.2M269.8 456.1L271.6 456.1M271.6 457.5L271.6 458.1M271.6 457.5L274.9 457.5M271.6 458.1L274.9 458.1M269.4 457.8L269.4 458.7M269.4 457.8L271.6 457.8M269.4 458.7L274.9 458.7M268.0 457.0L268.0 458.3M268.0 457.0L274.9 457.0M268.0 458.3L269.4 458.3M266.1 455.7L266.1 457.6M266.1 455.7L269.8 455.7M266.1 457.6L268.0 457.6M265.6 454.3L265.6 456.6M265.6 454.3L272.3 454.3M265.6 456.6L266.1 456.6M271.3 459.3L271.3 459.9M271.3 459.3L274.9 459.3M271.3 459.9L274.9 459.9M272.3 460.5L272.3 461.0M272.3 460.5L274.9 460.5M272.3 461.0L274.9 461.0M269.2 459.6L269.2 460.7M269.2 459.6L271.3 459.6M269.2 460.7L272.3 460.7M271.4 461.6L271.4 462.2M271.4 461.6L274.9 461.6M271.4 462.2L274.9 462.2M267.1 460.2L267.1 461.9M267.1 460.2L269.2 460.2M267.1 461.9L271.4 461.9M262.9 455.5L262.9 461.0M262.9 455.5L265.6 455.5M262.9 461.0L267.1 461.0M271.1 463.4L271.1 463.9M271.1 463.4L274.9 463.4M271.1 463.9L274.9 463.9M270.1 462.8L270.1 463.6M270.1 462.8L274.9 462.8M270.1 463.6L271.1 463.6M271.2 464.5L271.2 465.1M271.2 464.5L274.9 464.5M271.2 465.1L274.9 465.1M271.3 465.7L271.3 466.3M271.3 465.7L274.9 465.7M271.3 466.3L274.9 466.3M271.5 466.8L271.5 467.4M271.5 466.8L274.9 466.8M271.5 467.4L274.9 467.4M271.8 468.0L271.8 468.6M271.8 468.0L274.9 468.0M271.8 468.6L274.9 468.6M270.4 468.3L270.4 469.2M270.4 468.3L271.8 468.3M270.4 469.2L274.9 469.2M267.7 467.1L267.7 468.7M267.7 467.1L271.5 467.1M267.7 468.7L270.4 468.7M265.8 466.0L265.8 467.9M265.8 466.0L271.3 466.0M265.8 467.9L267.7 467.9M265.2 464.8L265.2 467.0M265.2 464.8L271.2 464.8M265.2 467.0L265.8 467.0M264.1 463.2L264.1 465.9M264.1 463.2L270.1 463.2M264.1 465.9L265.2 465.9M271.2 469.8L271.2 470.3M271.2 469.8L274.9 469.8M271.2 470.3L274.9 470.3M271.9 470.9L271.9 471.5M271.9 470.9L274.9 470.9M271.9 471.5L274.9 471.5M271.9 472.7L271.9 473.2M271.9 472.7L274.9 472.7M271.9 473.2L274.9 473.2M269.6 472.1L269.6 473.0M269.6 472.1L274.9 472.1M269.6 473.0L271.9 473.0M267.7 471.2L267.7 472.5M267.7 471.2L271.9 471.2M267.7 472.5L269.6 472.5M266.7 470.0L266.7 471.9M266.7 470.0L271.2 470.0M266.7 471.9L267.7 471.9M262.2 464.5L262.2 471.0M262.2 464.5L264.1 464.5M262.2 471.0L266.7 471.0M258.5 458.3L258.5 467.8M258.5 458.3L262.9 458.3M258.5 467.8L262.2 467.8M272.0 474.4L272.0 475.0M272.0 474.4L274.9 474.4M272.0 475.0L274.9 475.0M269.6 473.8L269.6 474.7M269.6 473.8L274.9 473.8M269.6 474.7L272.0 474.7M270.7 476.2L270.7 476.7M270.7 476.2L274.9 476.2M270.7 476.7L274.9 476.7M269.0 476.4L269.0 477.3M269.0 476.4L270.7 476.4M269.0 477.3L274.9 477.3M268.5 475.6L268.5 476.9M268.5 475.6L274.9 475.6M268.5 476.9L269.0 476.9M272.0 477.9L272.0 478.5M272.0 477.9L274.9 477.9M272.0 478.5L274.9 478.5M266.4 476.2L266.4 478.2M266.4 476.2L268.5 476.2M266.4 478.2L272.0 478.2M264.2 474.3L264.2 477.2M264.2 474.3L269.6 474.3M264.2 477.2L266.4 477.2M271.7 479.1L271.7 479.6M271.7 479.1L274.9 479.1M271.7 479.6L274.9 479.6M270.1 479.4L270.1 480.2M270.1 479.4L271.7 479.4M270.1 480.2L274.9 480.2M271.1 480.8L271.1 481.4M271.1 480.8L274.9 480.8M271.1 481.4L274.9 481.4M268.1 479.8L268.1 481.1M268.1 479.8L270.1 479.8M268.1 481.1L271.1 481.1M271.0 482.0L271.0 482.6M271.0 482.0L274.9 482.0M271.0 482.6L274.9 482.6M270.0 482.3L270.0 483.1M270.0 482.3L271.0 482.3M270.0 483.1L274.9 483.1M272.3 483.7L272.3 484.3M272.3 483.7L274.9 483.7M272.3 484.3L274.9 484.3M267.6 482.7L267.6 484.0M267.6 482.7L270.0 482.7M267.6 484.0L272.3 484.0M265.0 480.4L265.0 483.4M265.0 480.4L268.1 480.4M265.0 483.4L267.6 483.4M260.8 475.7L260.8 481.9M260.8 475.7L264.2 475.7M260.8 481.9L265.0 481.9M270.9 485.5L270.9 486.0M270.9 485.5L274.9 485.5M270.9 486.0L274.9 486.0M269.1 484.9L269.1 485.8M269.1 484.9L274.9 484.9M269.1 485.8L270.9 485.8M271.6 486.6L271.6 487.2M271.6 486.6L274.9 486.6M271.6 487.2L274.9 487.2M271.7 487.8L271.7 488.4M271.7 487.8L274.9 487.8M271.7 488.4L274.9 488.4M269.2 486.9L269.2 488.1M269.2 486.9L271.6 486.9M269.2 488.1L271.7 488.1M272.3 488.9L272.3 489.5M272.3 488.9L274.9 488.9M272.3 489.5L274.9 489.5M267.1 487.5L267.1 489.2M267.1 487.5L269.2 487.5M267.1 489.2L272.3 489.2M264.3 485.3L264.3 488.4M264.3 485.3L269.1 485.3M264.3 488.4L267.1 488.4M271.3 490.1L271.3 490.7M271.3 490.1L274.9 490.1M271.3 490.7L274.9 490.7M270.2 490.4L270.2 491.3M270.2 490.4L271.3 490.4M270.2 491.3L274.9 491.3M272.4 491.9L272.4 492.4M272.4 491.9L274.9 491.9M272.4 492.4L274.9 492.4M270.0 492.1L270.0 493.0M270.0 492.1L272.4 492.1M270.0 493.0L274.9 493.0M267.2 490.8L267.2 492.6M267.2 490.8L270.2 490.8M267.2 492.6L270.0 492.6M262.2 486.8L262.2 491.7M262.2 486.8L264.3 486.8M262.2 491.7L267.2 491.7M259.1 478.8L259.1 489.3M259.1 478.8L260.8 478.8M259.1 489.3L262.2 489.3M253.6 463.0L253.6 484.0M253.6 463.0L258.5 463.0M253.6 484.0L259.1 484.0M271.1 493.6L271.1 494.2M271.1 493.6L274.9 493.6M271.1 494.2L274.9 494.2M271.3 494.8L271.3 495.3M271.3 494.8L274.9 494.8M271.3 495.3L274.9 495.3M268.0 493.9L268.0 495.1M268.0 493.9L271.1 493.9M268.0 495.1L271.3 495.1M267.0 494.5L267.0 495.9M267.0 494.5L268.0 494.5M267.0 495.9L274.9 495.9M271.4 497.1L271.4 497.7M271.4 497.1L274.9 497.1M271.4 497.7L274.9 497.7M270.1 496.5L270.1 497.4M270.1 496.5L274.9 496.5M270.1 497.4L271.4 497.4M264.7 495.2L264.7 496.9M264.7 495.2L267.0 495.2M264.7 496.9L270.1 496.9M271.8 498.3L271.8 498.8M271.8 498.3L274.9 498.3M271.8 498.8L274.9 498.8M270.7 500.0L270.7 500.6M270.7 500.0L274.9 500.0M270.7 500.6L274.9 500.6M270.2 499.4L270.2 500.3M270.2 499.4L274.9 499.4M270.2 500.3L270.7 500.3M267.7 499.9L267.7 501.2M267.7 499.9L270.2 499.9M267.7 501.2L274.9 501.2M266.4 498.5L266.4 500.5M266.4 498.5L271.8 498.5M266.4 500.5L267.7 500.5M272.0 502.3L272.0 502.9M272.0 502.3L274.9 502.3M272.0 502.9L274.9 502.9M269.9 501.7L269.9 502.6M269.9 501.7L274.9 501.7M269.9 502.6L272.0 502.6M271.8 503.5L271.8 504.1M271.8 503.5L274.9 503.5M271.8 504.1L274.9 504.1M267.3 502.2L267.3 503.8M267.3 502.2L269.9 502.2M267.3 503.8L271.8 503.8M272.2 504.7L272.2 505.2M272.2 504.7L274.9 504.7M272.2 505.2L274.9 505.2M269.4 504.9L269.4 505.8M269.4 504.9L272.2 504.9M269.4 505.8L274.9 505.8M270.9 506.4L270.9 507.0M270.9 506.4L274.9 506.4M270.9 507.0L274.9 507.0M267.6 505.4L267.6 506.7M267.6 505.4L269.4 505.4M267.6 506.7L270.9 506.7M271.5 507.6L271.5 508.1M271.5 507.6L274.9 507.6M271.5 508.1L274.9 508.1M271.2 508.7L271.2 509.3M271.2 508.7L274.9 508.7M271.2 509.3L274.9 509.3M268.4 507.9L268.4 509.0M268.4 507.9L271.5 507.9M268.4 509.0L271.2 509.0M271.6 509.9L271.6 510.5M271.6 509.9L274.9 509.9M271.6 510.5L274.9 510.5M267.4 508.4L267.4 510.2M267.4 508.4L268.4 508.4M267.4 510.2L271.6 510.2M264.5 506.0L264.5 509.3M264.5 506.0L267.6 506.0M264.5 509.3L267.4 509.3M262.4 503.0L262.4 507.7M262.4 503.0L267.3 503.0M262.4 507.7L264.5 507.7M260.8 499.5L260.8 505.3M260.8 499.5L266.4 499.5M260.8 505.3L262.4 505.3M258.8 496.1L258.8 502.4M258.8 496.1L264.7 496.1M258.8 502.4L260.8 502.4M271.1 511.1L271.1 511.6M271.1 511.1L274.9 511.1M271.1 511.6L274.9 511.6M272.0 512.2L272.0 512.8M272.0 512.2L274.9 512.2M272.0 512.8L274.9 512.8M272.0 513.4L272.0 514.0M272.0 513.4L274.9 513.4M272.0 514.0L274.9 514.0M269.2 512.5L269.2 513.7M269.2 512.5L272.0 512.5M269.2 513.7L272.0 513.7M266.2 511.3L266.2 513.1M266.2 511.3L271.1 511.3M266.2 513.1L269.2 513.1M272.4 514.5L272.4 515.1M272.4 514.5L274.9 514.5M272.4 515.1L274.9 515.1M271.8 515.7L271.8 516.3M271.8 515.7L274.9 515.7M271.8 516.3L274.9 516.3M268.4 514.8L268.4 516.0M268.4 514.8L272.4 514.8M268.4 516.0L271.8 516.0M272.3 516.9L272.3 517.4M272.3 516.9L274.9 516.9M272.3 517.4L274.9 517.4M267.4 515.4L267.4 517.2M267.4 515.4L268.4 515.4M267.4 517.2L272.3 517.2M272.1 518.0L272.1 518.6M272.1 518.0L274.9 518.0M272.1 518.6L274.9 518.6M271.1 519.8L271.1 520.4M271.1 519.8L274.9 519.8M271.1 520.4L274.9 520.4M269.3 519.2L269.3 520.1M269.3 519.2L274.9 519.2M269.3 520.1L271.1 520.1M267.5 518.3L267.5 519.6M267.5 518.3L272.1 518.3M267.5 519.6L269.3 519.6M264.7 516.3L264.7 519.0M264.7 516.3L267.4 516.3M264.7 519.0L267.5 519.0M261.2 512.2L261.2 517.6M261.2 512.2L266.2 512.2M261.2 517.6L264.7 517.6M271.8 522.1L271.8 522.7M271.8 522.1L274.9 522.1M271.8 522.7L274.9 522.7M269.9 521.5L269.9 522.4M269.9 521.5L274.9 521.5M269.9 522.4L271.8 522.4M268.8 520.9L268.8 522.0M268.8 520.9L274.9 520.9M268.8 522.0L269.9 522.0M271.4 523.3L271.4 523.8M271.4 523.3L274.9 523.3M271.4 523.8L274.9 523.8M272.0 524.4L272.0 525.0M272.0 524.4L274.9 524.4M272.0 525.0L274.9 525.0M268.5 523.6L268.5 524.7M268.5 523.6L271.4 523.6M268.5 524.7L272.0 524.7M271.3 525.6L271.3 526.2M271.3 525.6L274.9 525.6M271.3 526.2L274.9 526.2M267.0 524.1L267.0 525.9M267.0 524.1L268.5 524.1M267.0 525.9L271.3 525.9M264.8 521.4L264.8 525.0M264.8 521.4L268.8 521.4M264.8 525.0L267.0 525.0M271.3 526.8L271.3 527.3M271.3 526.8L274.9 526.8M271.3 527.3L274.9 527.3M269.0 527.0L269.0 527.9M269.0 527.0L271.3 527.0M269.0 527.9L274.9 527.9M268.5 527.5L268.5 528.5M268.5 527.5L269.0 527.5M268.5 528.5L274.9 528.5M262.9 523.2L262.9 528.0M262.9 523.2L264.8 523.2M262.9 528.0L268.5 528.0M259.0 514.9L259.0 525.6M259.0 514.9L261.2 514.9M259.0 525.6L262.9 525.6M255.5 499.3L255.5 520.3M255.5 499.3L258.8 499.3M255.5 520.3L259.0 520.3M251.8 310.7L251.8 396.6M251.8 310.7L254.2 310.7M251.8 396.6L256.5 396.6M250.0 473.5L250.0 509.8M250.0 473.5L253.6 473.5M250.0 509.8L255.5 509.8M244.2 353.6L244.2 491.6M244.2 353.6L251.8 353.6M244.2 491.6L250.0 491.6" stroke="#000" stroke-width="0.6" fill="none"/>
<defs><linearGradient id="cb" x1="0" y1="0" x2="0" y2="1"><stop offset="0" stop-color="#FF0000"/><stop offset="0.5" stop-color="#000000"/><stop offset="1" stop-color="#00FF00"/></linearGradient></defs>
<rect x="495.1" y="284.6" width="5.8" height="91.4" fill="url(#cb)"/>
<text x="503.60" y="287.60" font-size="5.6" text-anchor="start" fill="#222" stroke="#222" stroke-width="0.27" font-family="Liberation Sans, sans-serif" >2</text>
<text x="503.60" y="309.50" font-size="5.6" text-anchor="start" fill="#222" stroke="#222" stroke-width="0.27" font-family="Liberation Sans, sans-serif" >1</text>
<text x="503.60" y="332.30" font-size="5.6" text-anchor="start" fill="#222" stroke="#222" stroke-width="0.27" font-family="Liberation Sans, sans-serif" >0</text>
<text x="503.60" y="354.90" font-size="5.6" text-anchor="start" fill="#222" stroke="#222" stroke-width="0.27" font-family="Liberation Sans, sans-serif" >−1</text>
<text x="503.60" y="377.30" font-size="5.6" text-anchor="start" fill="#222" stroke="#222" stroke-width="0.27" font-family="Liberation Sans, sans-serif" >−2</text>
<text x="493.90" y="281.50" font-size="5.8" text-anchor="start" fill="#111" stroke="#111" stroke-width="0.1" font-family="Liberation Sans, sans-serif" font-weight="bold">group</text>
<text x="512.20" y="288.90" font-size="5.6" text-anchor="start" fill="#111" stroke="#111" stroke-width="0.1" font-family="Liberation Sans, sans-serif" font-weight="bold">group</text>
<rect x="512.1" y="291.2" width="8.1" height="8.4" fill="#0AD0DE"/>
<rect x="512.1" y="299.6" width="8.1" height="8.5" fill="#F98E86"/>
<text x="521.90" y="297.80" font-size="5.8" text-anchor="start" fill="#222" stroke="#222" stroke-width="0.27" font-family="Liberation Sans, sans-serif" >Cont</text>
<text x="521.90" y="306.50" font-size="5.8" text-anchor="start" fill="#222" stroke="#222" stroke-width="0.27" font-family="Liberation Sans, sans-serif" >MT</text>
<text transform="translate(291.40,531.2) rotate(90)" font-size="4.9" fill="#444" stroke="#444" stroke-width="0.1" font-family="Liberation Sans, sans-serif">Cont-2</text>
<text transform="translate(327.60,531.2) rotate(90)" font-size="4.9" fill="#444" stroke="#444" stroke-width="0.1" font-family="Liberation Sans, sans-serif">Cont-1</text>
<text transform="translate(363.80,531.2) rotate(90)" font-size="4.9" fill="#444" stroke="#444" stroke-width="0.1" font-family="Liberation Sans, sans-serif">Cont-3</text>
<text transform="translate(400.00,531.2) rotate(90)" font-size="4.9" fill="#444" stroke="#444" stroke-width="0.1" font-family="Liberation Sans, sans-serif">MT-3</text>
<text transform="translate(436.20,531.2) rotate(90)" font-size="4.9" fill="#444" stroke="#444" stroke-width="0.1" font-family="Liberation Sans, sans-serif">MT-1</text>
<text transform="translate(472.40,531.2) rotate(90)" font-size="4.9" fill="#444" stroke="#444" stroke-width="0.1" font-family="Liberation Sans, sans-serif">MT-2</text>
</svg>
</body></html>
